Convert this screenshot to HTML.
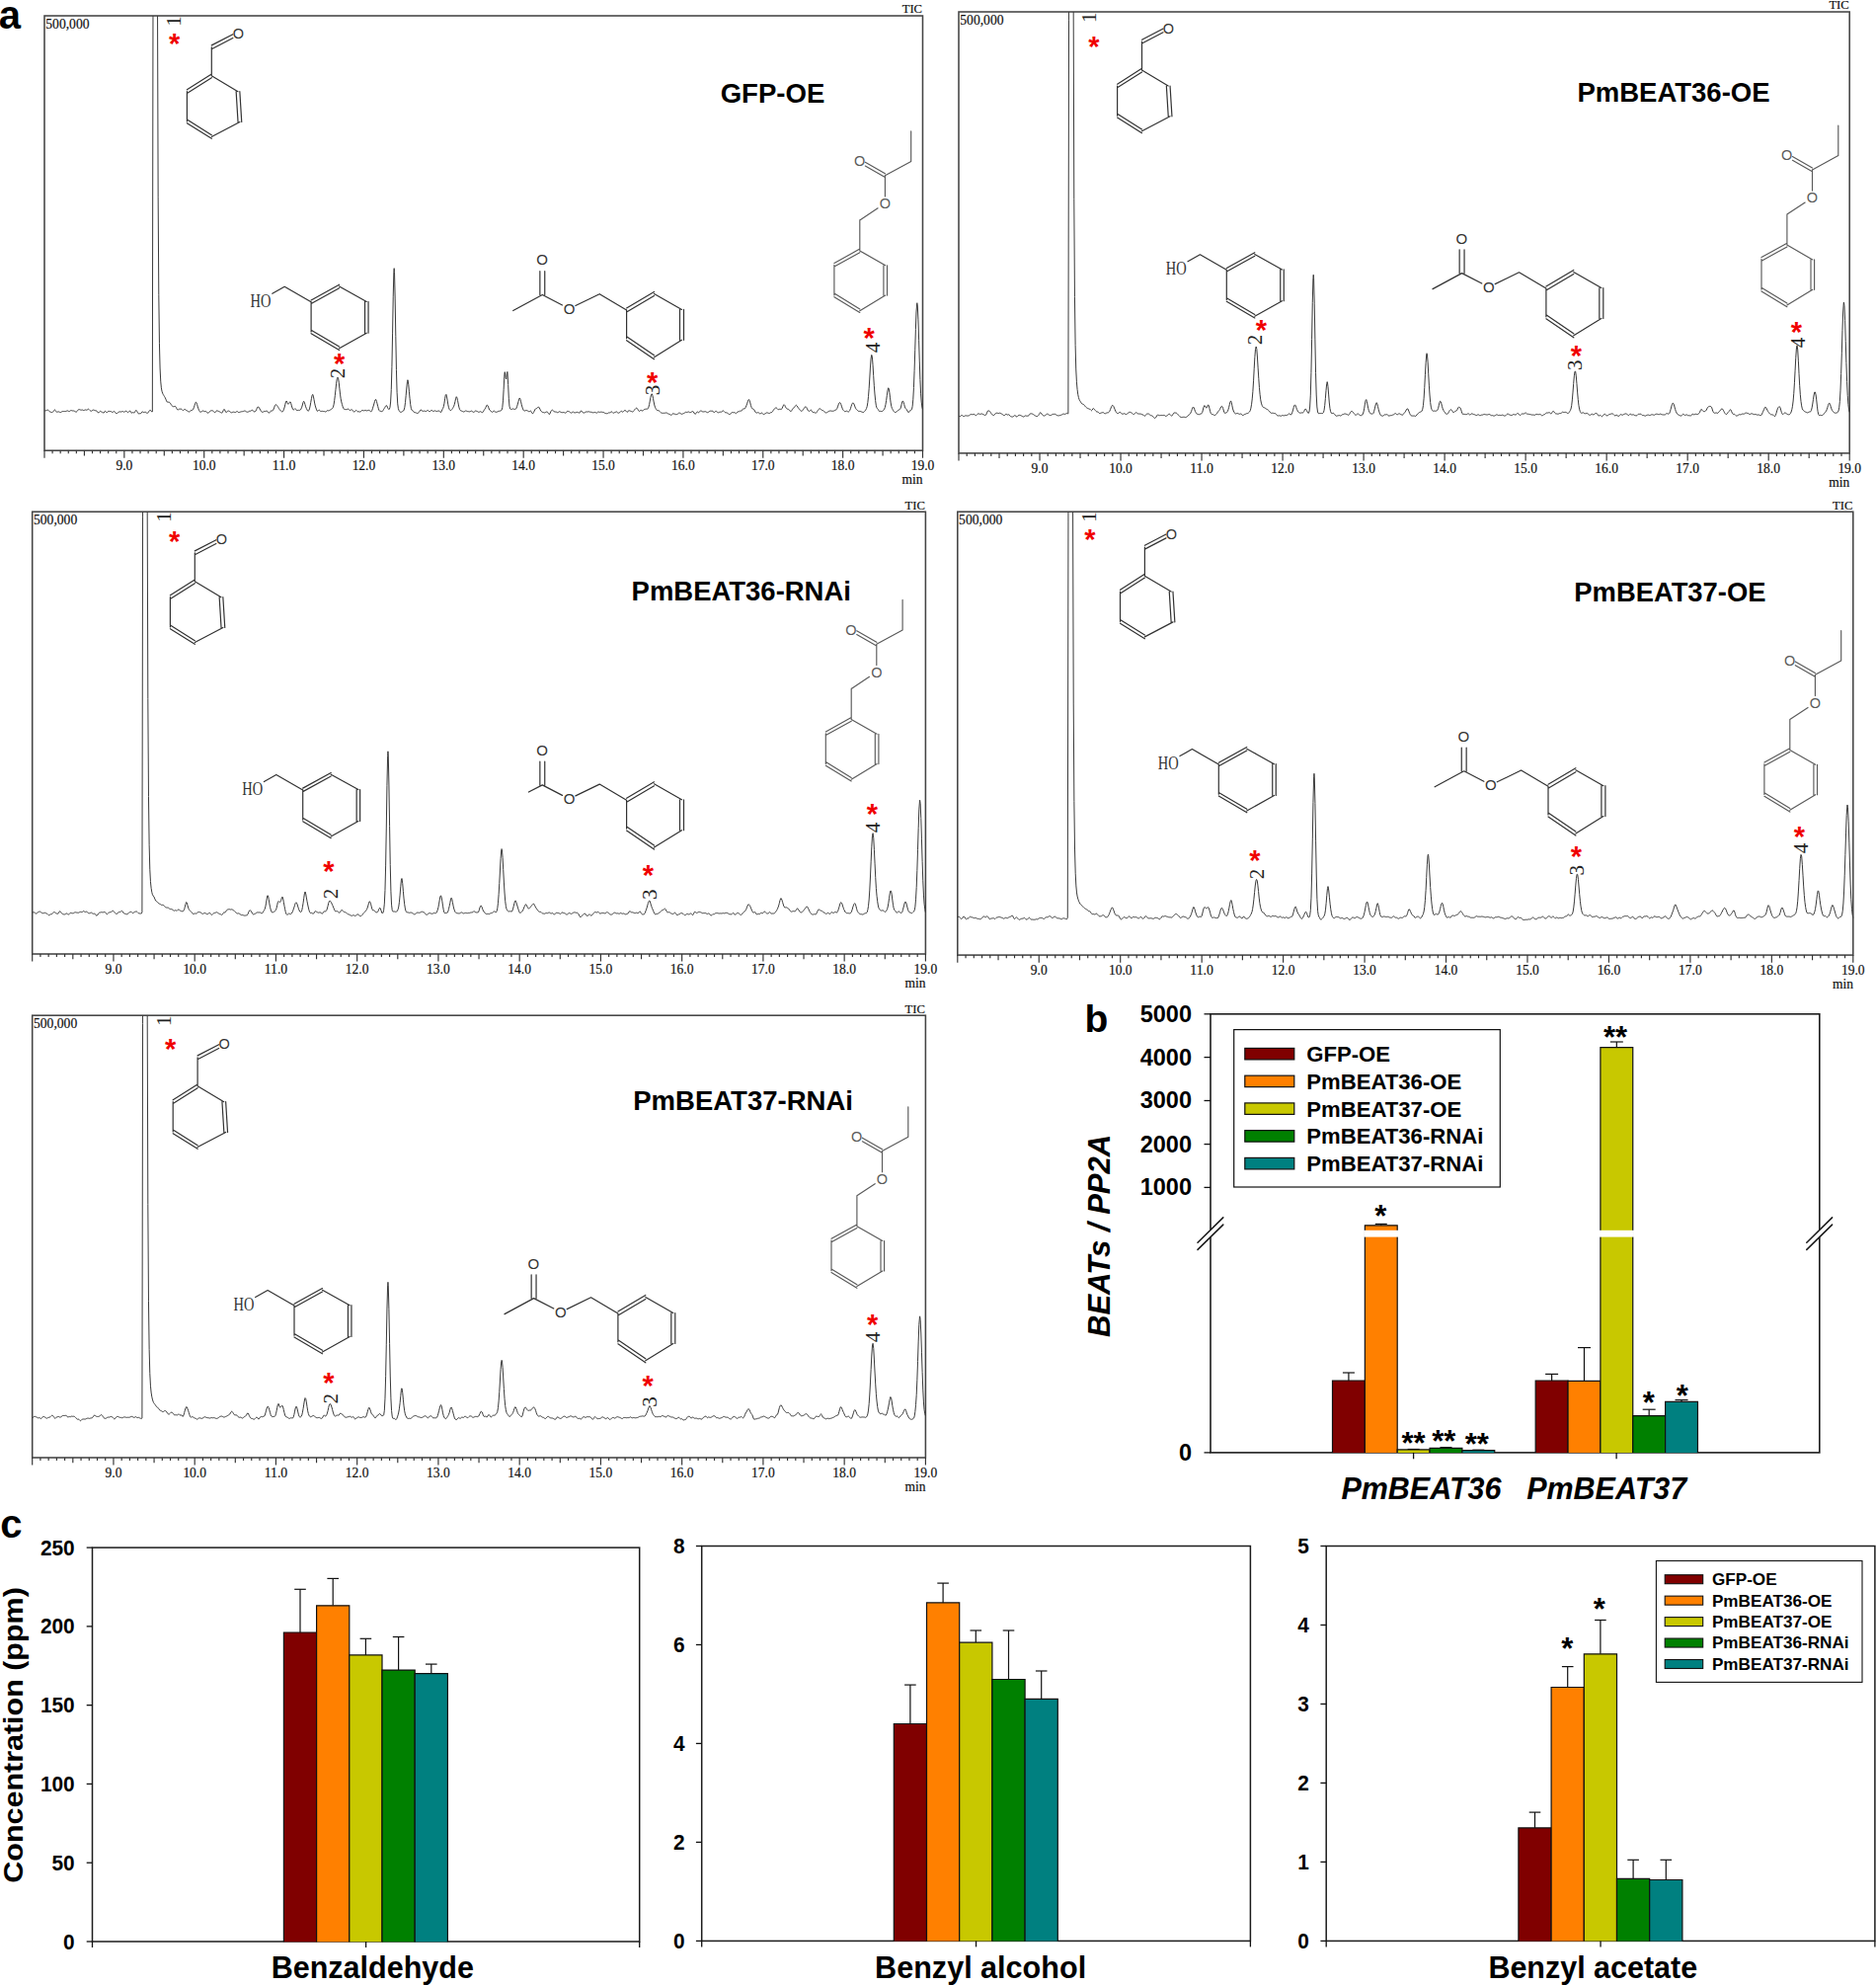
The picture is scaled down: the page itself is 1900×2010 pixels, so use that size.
<!DOCTYPE html>
<html lang="en"><head><meta charset="utf-8"><title>Figure</title>
<style>html,body{margin:0;padding:0;background:#fff}svg{display:block}</style>
</head><body>
<svg width="1900" height="2010" viewBox="0 0 1900 2010">
<rect width="1900" height="2010" fill="#fff"/>
<rect x="45" y="16" width="889.5" height="440.2" fill="none" stroke="#444" stroke-width="1.55"/>
<path d="M45 456.2 v7.6 M53.09 456.2 v3.1 M61.17 456.2 v3.1 M69.26 456.2 v3.1 M77.35 456.2 v3.1 M85.43 456.2 v5.2 M93.52 456.2 v3.1 M101.6 456.2 v3.1 M109.69 456.2 v3.1 M117.78 456.2 v3.1 M125.86 456.2 v7.6 M133.95 456.2 v3.1 M142.04 456.2 v3.1 M150.12 456.2 v3.1 M158.21 456.2 v3.1 M166.3 456.2 v5.2 M174.38 456.2 v3.1 M182.47 456.2 v3.1 M190.55 456.2 v3.1 M198.64 456.2 v3.1 M206.73 456.2 v7.6 M214.81 456.2 v3.1 M222.9 456.2 v3.1 M230.99 456.2 v3.1 M239.07 456.2 v3.1 M247.16 456.2 v5.2 M255.25 456.2 v3.1 M263.33 456.2 v3.1 M271.42 456.2 v3.1 M279.5 456.2 v3.1 M287.59 456.2 v7.6 M295.68 456.2 v3.1 M303.76 456.2 v3.1 M311.85 456.2 v3.1 M319.94 456.2 v3.1 M328.02 456.2 v5.2 M336.11 456.2 v3.1 M344.2 456.2 v3.1 M352.28 456.2 v3.1 M360.37 456.2 v3.1 M368.45 456.2 v7.6 M376.54 456.2 v3.1 M384.63 456.2 v3.1 M392.71 456.2 v3.1 M400.8 456.2 v3.1 M408.89 456.2 v5.2 M416.97 456.2 v3.1 M425.06 456.2 v3.1 M433.15 456.2 v3.1 M441.23 456.2 v3.1 M449.32 456.2 v7.6 M457.4 456.2 v3.1 M465.49 456.2 v3.1 M473.58 456.2 v3.1 M481.66 456.2 v3.1 M489.75 456.2 v5.2 M497.84 456.2 v3.1 M505.92 456.2 v3.1 M514.01 456.2 v3.1 M522.1 456.2 v3.1 M530.18 456.2 v7.6 M538.27 456.2 v3.1 M546.35 456.2 v3.1 M554.44 456.2 v3.1 M562.53 456.2 v3.1 M570.61 456.2 v5.2 M578.7 456.2 v3.1 M586.79 456.2 v3.1 M594.87 456.2 v3.1 M602.96 456.2 v3.1 M611.05 456.2 v7.6 M619.13 456.2 v3.1 M627.22 456.2 v3.1 M635.3 456.2 v3.1 M643.39 456.2 v3.1 M651.48 456.2 v5.2 M659.56 456.2 v3.1 M667.65 456.2 v3.1 M675.74 456.2 v3.1 M683.82 456.2 v3.1 M691.91 456.2 v7.6 M700 456.2 v3.1 M708.08 456.2 v3.1 M716.17 456.2 v3.1 M724.25 456.2 v3.1 M732.34 456.2 v5.2 M740.43 456.2 v3.1 M748.51 456.2 v3.1 M756.6 456.2 v3.1 M764.69 456.2 v3.1 M772.77 456.2 v7.6 M780.86 456.2 v3.1 M788.95 456.2 v3.1 M797.03 456.2 v3.1 M805.12 456.2 v3.1 M813.2 456.2 v5.2 M821.29 456.2 v3.1 M829.38 456.2 v3.1 M837.46 456.2 v3.1 M845.55 456.2 v3.1 M853.64 456.2 v7.6 M861.72 456.2 v3.1 M869.81 456.2 v3.1 M877.9 456.2 v3.1 M885.98 456.2 v3.1 M894.07 456.2 v5.2 M902.15 456.2 v3.1 M910.24 456.2 v3.1 M918.33 456.2 v3.1 M926.41 456.2 v3.1 M934.5 456.2 v7.6" fill="none" stroke="#333" stroke-width="1.15"/>
<text font-size="14.5" font-family='"Liberation Serif", "Times New Roman", Times, serif' text-anchor="middle" fill="#111" textLength="16.88" lengthAdjust="spacingAndGlyphs" x="125.86" y="475.9" stroke="#111" stroke-width="0.2">9.0</text>
<text font-size="14.5" font-family='"Liberation Serif", "Times New Roman", Times, serif' text-anchor="middle" fill="#111" textLength="23.62" lengthAdjust="spacingAndGlyphs" x="206.73" y="475.9" stroke="#111" stroke-width="0.2">10.0</text>
<text font-size="14.5" font-family='"Liberation Serif", "Times New Roman", Times, serif' text-anchor="middle" fill="#111" textLength="23.62" lengthAdjust="spacingAndGlyphs" x="287.59" y="475.9" stroke="#111" stroke-width="0.2">11.0</text>
<text font-size="14.5" font-family='"Liberation Serif", "Times New Roman", Times, serif' text-anchor="middle" fill="#111" textLength="23.62" lengthAdjust="spacingAndGlyphs" x="368.45" y="475.9" stroke="#111" stroke-width="0.2">12.0</text>
<text font-size="14.5" font-family='"Liberation Serif", "Times New Roman", Times, serif' text-anchor="middle" fill="#111" textLength="23.62" lengthAdjust="spacingAndGlyphs" x="449.32" y="475.9" stroke="#111" stroke-width="0.2">13.0</text>
<text font-size="14.5" font-family='"Liberation Serif", "Times New Roman", Times, serif' text-anchor="middle" fill="#111" textLength="23.62" lengthAdjust="spacingAndGlyphs" x="530.18" y="475.9" stroke="#111" stroke-width="0.2">14.0</text>
<text font-size="14.5" font-family='"Liberation Serif", "Times New Roman", Times, serif' text-anchor="middle" fill="#111" textLength="23.62" lengthAdjust="spacingAndGlyphs" x="611.05" y="475.9" stroke="#111" stroke-width="0.2">15.0</text>
<text font-size="14.5" font-family='"Liberation Serif", "Times New Roman", Times, serif' text-anchor="middle" fill="#111" textLength="23.62" lengthAdjust="spacingAndGlyphs" x="691.91" y="475.9" stroke="#111" stroke-width="0.2">16.0</text>
<text font-size="14.5" font-family='"Liberation Serif", "Times New Roman", Times, serif' text-anchor="middle" fill="#111" textLength="23.62" lengthAdjust="spacingAndGlyphs" x="772.77" y="475.9" stroke="#111" stroke-width="0.2">17.0</text>
<text font-size="14.5" font-family='"Liberation Serif", "Times New Roman", Times, serif' text-anchor="middle" fill="#111" textLength="23.62" lengthAdjust="spacingAndGlyphs" x="853.64" y="475.9" stroke="#111" stroke-width="0.2">18.0</text>
<text font-size="14.5" font-family='"Liberation Serif", "Times New Roman", Times, serif' text-anchor="middle" fill="#111" textLength="23.62" lengthAdjust="spacingAndGlyphs" x="934.5" y="475.9" stroke="#111" stroke-width="0.2">19.0</text>
<text font-size="14.5" font-family='"Liberation Serif", "Times New Roman", Times, serif' text-anchor="end" fill="#111" textLength="21" lengthAdjust="spacingAndGlyphs" x="934.6" y="490.1" stroke="#111" stroke-width="0.2">min</text>
<text font-size="13.5" font-family='"Liberation Serif", "Times New Roman", Times, serif' text-anchor="end" fill="#111" textLength="20.3" lengthAdjust="spacingAndGlyphs" x="934" y="13.4" stroke="#111" stroke-width="0.2">TIC</text>
<text font-size="14.5" font-family='"Liberation Serif", "Times New Roman", Times, serif' fill="#111" textLength="44.2" lengthAdjust="spacingAndGlyphs" x="46.3" y="29.2" stroke="#111" stroke-width="0.2">500,000</text>
<path d="M45 416.07 L45.65 415.85 L46.29 415.79 L46.94 415.65 L47.59 415.31 L48.23 415.05 L48.88 415.28 L49.53 416.03 L50.18 416.74 L50.82 417.08 L51.47 417.32 L52.12 417.54 L52.76 417.56 L53.41 417.28 L54.06 416.59 L54.7 415.56 L55.35 414.94 L56 415.38 L56.64 416.41 L57.29 417.16 L57.94 417.24 L58.59 416.97 L59.23 416.87 L59.88 417.05 L60.53 417.38 L61.17 417.61 L61.82 417.4 L62.47 416.95 L63.11 416.58 L63.76 416.53 L64.41 416.57 L65.05 416.54 L65.7 416.54 L66.35 416.53 L66.99 416.37 L67.64 416.1 L68.29 415.92 L68.94 416.09 L69.58 416.48 L70.23 416.58 L70.88 416.18 L71.52 415.7 L72.17 415.59 L72.82 415.8 L73.46 415.94 L74.11 415.95 L74.76 416.03 L75.4 416.25 L76.05 416.64 L76.7 417.07 L77.35 417.13 L77.99 416.56 L78.64 415.61 L79.29 414.85 L79.93 414.6 L80.58 414.7 L81.23 414.94 L81.87 415.16 L82.52 415.17 L83.17 415.03 L83.81 415.13 L84.46 415.53 L85.11 415.56 L85.76 415.17 L86.4 414.94 L87.05 415.04 L87.7 415.22 L88.34 415 L88.99 414.39 L89.64 414.21 L90.28 414.7 L90.93 415.37 L91.58 415.98 L92.22 416.3 L92.87 416.07 L93.52 415.48 L94.17 415.12 L94.81 415.14 L95.46 415.35 L96.11 415.61 L96.75 415.81 L97.4 415.87 L98.05 416.23 L98.69 417.14 L99.34 417.91 L99.99 417.8 L100.63 417.03 L101.28 416.4 L101.93 416.44 L102.57 416.91 L103.22 417.22 L103.87 417.49 L104.52 417.96 L105.16 417.96 L105.81 417.03 L106.46 416.26 L107.1 416.64 L107.75 417.52 L108.4 417.68 L109.04 417.01 L109.69 416.41 L110.34 416.36 L110.98 416.57 L111.63 416.6 L112.28 416.63 L112.93 416.91 L113.57 417.37 L114.22 417.4 L114.87 416.86 L115.51 416.46 L116.16 416.8 L116.81 417.73 L117.45 418.58 L118.1 418.78 L118.75 418.42 L119.39 417.87 L120.04 417.37 L120.69 417.04 L121.34 416.9 L121.98 416.98 L122.63 417.04 L123.28 416.85 L123.92 416.6 L124.57 416.67 L125.22 417.07 L125.86 417.31 L126.51 416.96 L127.16 416.21 L127.8 416.03 L128.45 416.72 L129.1 417.51 L129.75 417.68 L130.39 417.11 L131.04 416.29 L131.69 416.03 L132.33 416.77 L132.98 417.84 L133.63 418.13 L134.27 417.71 L134.92 417.64 L135.57 417.94 L136.21 417.75 L136.86 416.74 L137.51 415.62 L138.15 415.52 L138.8 416.53 L139.45 417.85 L140.1 418.72 L140.74 418.91 L141.39 418.79 L142.04 418.78 L142.68 418.67 L143.33 417.96 L143.98 416.98 L144.62 416.86 L145.27 417.52 L145.92 417.75 L146.56 417.31 L147.21 417.17 L147.86 417.65 L148.51 418.15 L149.15 418.33 L149.8 418.07 L150.45 417.25 L151.09 416.16 L151.74 415.41 L152.39 415.42 L153.03 416.13 L153.68 416.98 L154.33 416.9 L154.97 17.94 L154.98 16 M159.56 16 L160.15 199.18 L160.8 298.35 L161.44 347.72 L162.09 372.99 L162.74 386.15 L163.38 392.84 L164.03 396.21 L164.68 398.19 L165.33 399.53 L165.97 400.56 L166.62 401.58 L167.27 402.72 L167.91 404.17 L168.56 405.84 L169.21 406.98 L169.85 407.26 L170.5 407.2 L171.15 407.2 L171.79 407.49 L172.44 408.2 L173.09 409.34 L173.73 410.42 L174.38 411.04 L175.03 411.48 L175.68 411.78 L176.32 411.66 L176.97 411.33 L177.62 411.43 L178.26 412.35 L178.91 413.71 L179.56 414.75 L180.2 415.01 L180.85 414.6 L181.5 414.21 L182.14 414.16 L182.79 414.13 L183.44 414.13 L184.09 414.51 L184.73 415.23 L185.38 415.6 L186.03 415.17 L186.67 414.49 L187.32 414.43 L187.97 414.95 L188.61 415.44 L189.26 415.75 L189.91 416.08 L190.55 416.55 L191.2 416.98 L191.85 417.03 L192.5 416.41 L193.14 415.61 L193.79 415.34 L194.44 415.42 L195.08 415.16 L195.73 414.21 L196.38 412.68 L197.02 410.68 L197.67 408.54 L198.32 407.18 L198.96 407.63 L199.61 409.61 L200.26 411.9 L200.91 413.83 L201.55 415.43 L202.2 416.67 L202.85 417.21 L203.49 417.17 L204.14 416.8 L204.79 416.25 L205.43 415.91 L206.08 416.09 L206.73 416.5 L207.37 416.67 L208.02 416.51 L208.67 416.51 L209.31 417.04 L209.96 417.79 L210.61 418.21 L211.26 418.08 L211.9 417.37 L212.55 416.49 L213.2 415.97 L213.84 415.8 L214.49 415.77 L215.14 415.85 L215.78 416.04 L216.43 416.62 L217.08 417.5 L217.72 417.82 L218.37 417.16 L219.02 416.2 L219.67 415.84 L220.31 416.03 L220.96 416.24 L221.61 416.5 L222.25 416.85 L222.9 417.22 L223.55 417.7 L224.19 418.11 L224.84 418.03 L225.49 417.16 L226.13 415.69 L226.78 414.52 L227.43 414.69 L228.08 416.11 L228.72 417.37 L229.37 417.52 L230.02 416.78 L230.66 416.05 L231.31 415.99 L231.96 416.29 L232.6 416.55 L233.25 417.05 L233.9 417.68 L234.54 417.84 L235.19 417.54 L235.84 417.25 L236.49 417.17 L237.13 417.27 L237.78 417.46 L238.43 417.53 L239.07 417.21 L239.72 416.66 L240.37 416.61 L241.01 417.16 L241.66 417.62 L242.31 417.53 L242.95 417.25 L243.6 417.07 L244.25 416.88 L244.89 416.76 L245.54 416.71 L246.19 416.57 L246.84 416.29 L247.48 416.07 L248.13 416.07 L248.78 416.36 L249.42 416.87 L250.07 417.19 L250.72 417.2 L251.36 417.09 L252.01 416.69 L252.66 416.22 L253.3 416.22 L253.95 416.33 L254.6 415.79 L255.25 415.11 L255.89 415.29 L256.54 416.13 L257.19 416.85 L257.83 417.09 L258.48 416.8 L259.13 415.93 L259.77 414.6 L260.42 413.1 L261.07 412.05 L261.71 412.01 L262.36 412.8 L263.01 413.89 L263.66 415.12 L264.3 416.17 L264.95 416.87 L265.6 417.31 L266.24 417.33 L266.89 416.82 L267.54 416.41 L268.18 416.5 L268.83 416.53 L269.48 416.24 L270.12 416.07 L270.77 416.4 L271.42 417.28 L272.07 418.09 L272.71 418.09 L273.36 417.31 L274.01 416.43 L274.65 415.98 L275.3 415.99 L275.95 415.96 L276.59 415.35 L277.24 413.99 L277.89 412.16 L278.53 410.48 L279.18 409.63 L279.83 409.86 L280.47 410.66 L281.12 411.47 L281.77 412.41 L282.42 413.52 L283.06 414.53 L283.71 415.34 L284.36 415.99 L285 416.54 L285.65 416.91 L286.3 416.74 L286.94 415.81 L287.59 414.23 L288.24 412.06 L288.88 409.32 L289.53 406.75 L290.18 405.99 L290.83 407.36 L291.47 408.91 L292.12 409.32 L292.77 408.57 L293.41 407.28 L294.06 406.9 L294.71 408.44 L295.35 410.87 L296 413.02 L296.65 414.51 L297.29 414.98 L297.94 414.48 L298.59 413.83 L299.24 413.85 L299.88 414.7 L300.53 415.53 L301.18 415.62 L301.82 415.39 L302.47 415.35 L303.12 415.39 L303.76 415.3 L304.41 414.88 L305.06 413.86 L305.7 412.23 L306.35 409.97 L307 407.56 L307.65 406.34 L308.29 407.26 L308.94 409.56 L309.59 411.77 L310.23 413.38 L310.88 414.75 L311.53 415.91 L312.17 416.31 L312.82 415.69 L313.47 413.92 L314.11 411.09 L314.76 407.5 L315.41 403.67 L316.05 400.54 L316.7 399.42 L317.35 401.12 L318 404.5 L318.64 408.05 L319.29 410.9 L319.94 413.05 L320.58 414.87 L321.23 416.18 L321.88 416.31 L322.52 415.57 L323.17 415.09 L323.82 415.55 L324.46 416.34 L325.11 416.57 L325.76 416.39 L326.41 416.34 L327.05 416.51 L327.7 416.59 L328.35 416.57 L328.99 416.74 L329.64 417.01 L330.29 416.86 L330.93 416.15 L331.58 415.64 L332.23 415.75 L332.87 415.9 L333.52 415.63 L334.17 415.23 L334.82 414.87 L335.46 414.4 L336.11 413.92 L336.76 413.47 L337.4 412.34 L338.05 409.81 L338.7 405.7 L339.34 400.39 L339.99 394.32 L340.64 388.2 L341.28 383.62 L341.77 382.34 L341.93 382 L342.58 383.07 L343.23 387.22 L343.87 393.16 L344.52 399.12 L345.17 403.73 L345.81 406.96 L346.46 409.48 L347.11 411.7 L347.75 413.37 L348.4 414.21 L349.05 414.48 L349.69 414.58 L350.34 414.66 L350.99 414.65 L351.63 414.41 L352.28 414.07 L352.93 414.17 L353.58 414.88 L354.22 415.59 L354.87 415.54 L355.52 414.84 L356.16 414.53 L356.81 415.21 L357.46 416.19 L358.1 416.82 L358.75 416.98 L359.4 416.63 L360.04 415.91 L360.69 415.47 L361.34 415.81 L361.99 416.54 L362.63 416.89 L363.28 416.8 L363.93 416.84 L364.57 417.08 L365.22 416.92 L365.87 416.2 L366.51 415.51 L367.16 415.38 L367.81 415.66 L368.45 415.87 L369.1 415.72 L369.75 415.4 L370.4 415.42 L371.04 415.82 L371.69 415.92 L372.34 415.6 L372.98 415.41 L373.63 415.39 L374.28 415.7 L374.92 416.23 L375.57 416.71 L376.22 416.57 L376.86 415.29 L377.51 413.24 L378.16 411.14 L378.81 408.95 L379.45 406.6 L380.1 404.74 L380.75 404.57 L381.39 406.33 L382.04 408.86 L382.69 411.42 L383.33 413.81 L383.98 415.54 L384.63 416.25 L385.27 416.34 L385.92 416.43 L386.57 416.68 L387.21 416.59 L387.86 415.75 L388.51 414.61 L389.16 413.63 L389.8 412.62 L390.45 411.4 L391.1 410.57 L391.74 410.87 L392.39 412.21 L393.04 413.69 L393.68 414.47 L394.33 414.3 L394.98 412.44 L395.62 406.97 L396.27 394.62 L396.92 371.63 L397.57 337.9 L398.21 300.85 L398.86 275.11 L399.18 271.66 L399.51 275.37 L400.15 302.07 L400.8 340.35 L401.45 374.61 L402.09 397.29 L402.74 408.88 L403.39 413.61 L404.03 415.55 L404.68 416.6 L405.33 417.17 L405.98 417.38 L406.62 417.22 L407.27 416.81 L407.92 416.44 L408.56 416.05 L409.21 414.97 L409.86 412.31 L410.5 407.48 L411.15 400.69 L411.8 393.01 L412.44 386.61 L412.93 384.72 L413.09 384.94 L413.74 389.23 L414.39 396.27 L415.03 403.28 L415.68 409.23 L416.33 413.33 L416.97 415.2 L417.62 415.53 L418.27 415.87 L418.91 416.79 L419.56 417.61 L420.21 417.79 L420.85 417.7 L421.5 418 L422.15 418.47 L422.79 418.56 L423.44 418.2 L424.09 417.66 L424.74 416.92 L425.38 415.81 L426.03 414.91 L426.68 415.1 L427.32 415.95 L427.97 416.4 L428.62 416.36 L429.26 416.16 L429.91 416.1 L430.56 416.33 L431.2 416.54 L431.85 416.37 L432.5 415.84 L433.15 415.46 L433.79 415.81 L434.44 416.51 L435.09 416.78 L435.73 416.43 L436.38 415.79 L437.03 415.43 L437.67 415.62 L438.32 416.22 L438.97 416.54 L439.61 416.23 L440.26 415.86 L440.91 415.97 L441.56 416.32 L442.2 416.48 L442.85 416.42 L443.5 416.17 L444.14 415.89 L444.79 416.09 L445.44 416.87 L446.08 417.58 L446.73 417.34 L447.38 416.03 L448.02 414.53 L448.67 413.38 L449.32 411.63 L449.97 408.25 L450.61 403.75 L451.26 400.11 L451.91 399.39 L452.55 401.91 L453.2 405.95 L453.85 409.84 L454.49 412.72 L455.14 414.48 L455.79 415.37 L456.43 415.6 L457.08 415.29 L457.73 414.53 L458.37 413.54 L459.02 412.53 L459.67 411.26 L460.32 409.31 L460.96 406.46 L461.61 403.32 L462.26 401.71 L462.9 402.8 L463.55 405.66 L464.2 409.05 L464.84 412.17 L465.49 414.42 L466.14 415.49 L466.78 415.83 L467.43 416.12 L468.08 416.43 L468.73 416.71 L469.37 416.98 L470.02 417.05 L470.67 416.63 L471.31 415.97 L471.96 415.84 L472.61 416.28 L473.25 416.57 L473.9 416.63 L474.55 416.74 L475.19 416.86 L475.84 416.84 L476.49 416.53 L477.14 416.17 L477.78 416.19 L478.43 416.7 L479.08 417.23 L479.72 417.35 L480.37 417.04 L481.02 416.42 L481.66 416.01 L482.31 416.16 L482.96 416.45 L483.6 416.68 L484.25 417.09 L484.9 417.4 L485.55 417.15 L486.19 416.75 L486.84 416.78 L487.49 417.2 L488.13 417.66 L488.78 417.68 L489.43 416.9 L490.07 415.68 L490.72 414.63 L491.37 413.76 L492.01 412.51 L492.66 410.91 L493.31 410.09 L493.95 410.62 L494.6 412.16 L495.25 413.98 L495.9 415.21 L496.54 415.68 L497.19 416.22 L497.84 417.02 L498.48 417.36 L499.13 416.94 L499.78 416.28 L500.42 416.11 L501.07 416.62 L501.72 417.15 L502.36 417.29 L503.01 417.24 L503.66 417.04 L504.31 416.61 L504.95 416.29 L505.6 416.22 L506.25 416.19 L506.89 416.04 L507.54 415.77 L508.19 414.99 L508.83 412.42 L509.48 405.85 L510.13 394.27 L510.77 381.12 L511.18 376.63 L511.42 376.84 L512.07 382.37 L512.72 383.91 L513.36 378.38 L513.85 376.44 L514.01 377.51 L514.66 389.54 L515.3 403.21 L515.95 411.2 L516.6 413.87 L517.24 414.38 L517.89 414.45 L518.54 414.26 L519.18 413.97 L519.83 414.02 L520.48 414.26 L521.13 414.34 L521.77 414.35 L522.42 414.16 L523.07 413.16 L523.71 411.29 L524.36 409.09 L525.01 406.69 L525.65 404.16 L526.3 402.97 L526.95 404.17 L527.59 406.84 L528.24 409.68 L528.89 412.08 L529.53 413.93 L530.18 415.37 L530.83 416.08 L531.48 416.01 L532.12 415.63 L532.77 415.41 L533.42 415.54 L534.06 415.85 L534.71 416.17 L535.36 416.61 L536 416.86 L536.65 416.48 L537.3 416.03 L537.94 416.53 L538.59 417.82 L539.24 418.76 L539.89 418.63 L540.53 417.59 L541.18 416.06 L541.83 414.67 L542.47 413.93 L543.12 413.66 L543.77 413.32 L544.41 412.71 L545.06 412.22 L545.71 412.23 L546.35 413.03 L547 414.55 L547.65 415.9 L548.3 416.64 L548.94 417.15 L549.59 417.45 L550.24 417.55 L550.88 417.79 L551.53 417.94 L552.18 417.66 L552.82 417.29 L553.47 417.06 L554.12 417.01 L554.76 417.5 L555.41 418.61 L556.06 419.53 L556.71 419.31 L557.35 417.97 L558 416.47 L558.65 415.52 L559.29 415.17 L559.94 415.36 L560.59 415.99 L561.23 416.72 L561.88 417.13 L562.53 417.06 L563.17 417.02 L563.82 417.34 L564.47 417.73 L565.11 417.7 L565.76 417.19 L566.41 416.79 L567.06 416.86 L567.7 417.18 L568.35 417.49 L569 417.7 L569.64 417.73 L570.29 417.59 L570.94 417.51 L571.58 417.72 L572.23 418.1 L572.88 418.14 L573.52 417.51 L574.17 416.66 L574.82 416.31 L575.47 416.46 L576.11 416.63 L576.76 416.91 L577.41 417.51 L578.05 418.07 L578.7 418.1 L579.35 417.59 L579.99 417.01 L580.64 416.96 L581.29 417.61 L581.93 418.12 L582.58 417.92 L583.23 417.59 L583.88 417.46 L584.52 417.33 L585.17 417.4 L585.82 417.8 L586.46 418.14 L587.11 417.86 L587.76 416.85 L588.4 415.98 L589.05 416.16 L589.7 417 L590.34 417.75 L590.99 418.11 L591.64 418.08 L592.29 417.7 L592.93 417.21 L593.58 416.97 L594.23 417.01 L594.87 417.05 L595.52 416.91 L596.17 416.78 L596.81 416.91 L597.46 417.18 L598.11 417.26 L598.75 417.21 L599.4 417.4 L600.05 417.74 L600.69 417.87 L601.34 417.74 L601.99 417.53 L602.64 417.44 L603.28 417.68 L603.93 418.1 L604.58 418.09 L605.22 417.49 L605.87 417.01 L606.52 417.14 L607.16 417.42 L607.81 417.36 L608.46 417.15 L609.1 417.14 L609.75 417.3 L610.4 417.4 L611.05 417.4 L611.69 417.59 L612.34 418.15 L612.99 418.57 L613.63 418.6 L614.28 418.69 L614.93 418.83 L615.57 418.54 L616.22 418.02 L616.87 417.84 L617.51 417.92 L618.16 417.69 L618.81 417.07 L619.46 416.85 L620.1 417.44 L620.75 418.15 L621.4 418.2 L622.04 417.83 L622.69 417.58 L623.34 417.35 L623.98 416.98 L624.63 416.97 L625.28 417.58 L625.92 418.18 L626.57 418.2 L627.22 417.92 L627.87 417.45 L628.51 416.73 L629.16 416.25 L629.81 416.53 L630.45 417.1 L631.1 417.08 L631.75 416.38 L632.39 415.64 L633.04 415.4 L633.69 415.78 L634.33 416.61 L634.98 417.3 L635.63 417.14 L636.27 416.19 L636.92 415.59 L637.57 415.84 L638.22 416.17 L638.86 416.25 L639.51 416.56 L640.16 417.04 L640.8 417.04 L641.45 416.36 L642.1 415.53 L642.74 414.93 L643.39 414.21 L644.04 413.46 L644.68 413.15 L645.33 413.55 L645.98 414.58 L646.63 415.77 L647.27 416.41 L647.92 416.23 L648.57 415.59 L649.21 415.31 L649.86 415.69 L650.51 416 L651.15 415.7 L651.8 415.04 L652.45 414.61 L653.09 414.45 L653.74 414.26 L654.39 414.13 L655.04 414.12 L655.68 414.09 L656.33 413.62 L656.98 412.15 L657.62 409.53 L658.27 406.09 L658.92 402.42 L659.56 399.57 L660.21 398.8 L660.86 400.34 L661.5 403.4 L662.15 406.95 L662.8 410.09 L663.45 412.25 L664.09 413.6 L664.74 414.66 L665.39 415.38 L666.03 415.59 L666.68 415.6 L667.33 415.84 L667.97 416.44 L668.62 417.2 L669.27 417.78 L669.91 418.09 L670.56 418.24 L671.21 418.33 L671.85 418.32 L672.5 418.25 L673.15 418.24 L673.8 418.19 L674.44 417.99 L675.09 417.95 L675.74 418.36 L676.38 418.79 L677.03 419.07 L677.68 419.3 L678.32 419.48 L678.97 419.82 L679.62 420.34 L680.26 420.24 L680.91 419.34 L681.56 418.76 L682.21 418.92 L682.85 419.11 L683.5 419.24 L684.15 419.55 L684.79 419.71 L685.44 419.58 L686.09 419.34 L686.73 418.91 L687.38 418.29 L688.03 417.93 L688.67 418.15 L689.32 418.8 L689.97 419.3 L690.62 419.31 L691.26 419.05 L691.91 418.78 L692.56 418.55 L693.2 418.21 L693.85 417.7 L694.5 417.31 L695.14 417.36 L695.79 417.53 L696.44 417.27 L697.08 416.93 L697.73 417.13 L698.38 417.62 L699.03 417.77 L699.67 417.49 L700.32 417.08 L700.97 416.76 L701.61 416.56 L702.26 416.92 L702.91 418 L703.55 419.07 L704.2 419.36 L704.85 418.72 L705.49 417.61 L706.14 416.94 L706.79 417.19 L707.43 417.76 L708.08 417.53 L708.73 416.61 L709.38 415.95 L710.02 415.93 L710.67 416.3 L711.32 416.76 L711.96 417 L712.61 416.95 L713.26 416.83 L713.9 416.76 L714.55 416.72 L715.2 416.97 L715.84 417.51 L716.49 417.73 L717.14 417.49 L717.79 417.1 L718.43 416.56 L719.08 416.15 L719.73 416.2 L720.37 416.24 L721.02 415.97 L721.67 416.13 L722.31 416.99 L722.96 417.62 L723.61 417.46 L724.25 416.8 L724.9 416.29 L725.55 416.44 L726.2 417.02 L726.84 417.55 L727.49 417.84 L728.14 417.69 L728.78 417.2 L729.43 417.12 L730.08 417.4 L730.72 417.14 L731.37 416.4 L732.02 415.91 L732.66 415.97 L733.31 416.54 L733.96 417.28 L734.61 417.75 L735.25 417.82 L735.9 417.83 L736.55 418.16 L737.19 418.61 L737.84 419.06 L738.49 419.56 L739.13 419.67 L739.78 419.12 L740.43 418.32 L741.07 417.7 L741.72 417.55 L742.37 417.73 L743.01 417.81 L743.66 417.7 L744.31 417.86 L744.96 418.42 L745.6 418.67 L746.25 418.07 L746.9 417.14 L747.54 416.77 L748.19 416.83 L748.84 416.59 L749.48 416.13 L750.13 416.04 L750.78 416.17 L751.42 415.7 L752.07 414.59 L752.72 413.81 L753.37 413.9 L754.01 414.13 L754.66 413.57 L755.31 412.29 L755.95 410.66 L756.6 408.79 L757.25 406.84 L757.89 405.08 L758.54 404.5 L759.19 405.66 L759.83 407.98 L760.48 410.54 L761.13 412.58 L761.78 413.66 L762.42 414.01 L763.07 414.24 L763.72 414.84 L764.36 415.94 L765.01 417.17 L765.66 417.96 L766.3 418.14 L766.95 417.91 L767.6 417.65 L768.24 417.82 L768.89 418.37 L769.54 418.82 L770.19 418.82 L770.83 418.4 L771.48 418.07 L772.13 418.47 L772.77 419.34 L773.42 419.65 L774.07 419.35 L774.71 418.94 L775.36 418.55 L776.01 418.11 L776.65 417.88 L777.3 417.97 L777.95 418.22 L778.59 418.43 L779.24 418.49 L779.89 418.22 L780.54 417.74 L781.18 417.56 L781.83 417.43 L782.48 416.72 L783.12 415.61 L783.77 414.63 L784.42 413.87 L785.06 413.31 L785.71 412.97 L786.36 413.01 L787 413.62 L787.65 414.39 L788.3 414.7 L788.95 414.5 L789.59 414.28 L790.24 414.29 L790.89 414.49 L791.53 414.33 L792.18 413.38 L792.83 411.81 L793.47 410.24 L794.12 409.61 L794.77 410.35 L795.41 411.77 L796.06 412.93 L796.71 413.64 L797.36 414.1 L798 414.3 L798.65 414.47 L799.3 414.95 L799.94 415.77 L800.59 416.49 L801.24 416.48 L801.88 415.6 L802.53 414.37 L803.18 413.46 L803.82 412.98 L804.47 412.47 L805.12 411.6 L805.77 410.64 L806.41 410.24 L807.06 410.85 L807.71 411.94 L808.35 412.84 L809 413.69 L809.65 414.53 L810.29 415.16 L810.94 415.72 L811.59 416.27 L812.23 416.29 L812.88 415.48 L813.53 414.43 L814.17 413.66 L814.82 412.87 L815.47 411.97 L816.12 411.72 L816.76 412.49 L817.41 413.81 L818.06 415.15 L818.7 416.04 L819.35 416.38 L820 416.21 L820.64 415.54 L821.29 415.09 L821.94 415.66 L822.58 416.87 L823.23 417.6 L823.88 417.54 L824.53 417.38 L825.17 417.71 L825.82 418.19 L826.47 418.2 L827.11 417.52 L827.76 416.47 L828.41 415.38 L829.05 414.53 L829.7 414.04 L830.35 413.8 L830.99 413.98 L831.64 414.61 L832.29 415.28 L832.94 415.56 L833.58 415.63 L834.23 416.05 L834.88 416.75 L835.52 417.38 L836.17 417.88 L836.82 418 L837.46 417.72 L838.11 417.3 L838.76 416.84 L839.4 416.44 L840.05 416.19 L840.7 416.04 L841.35 416.02 L841.99 416.15 L842.64 416.25 L843.29 416.25 L843.93 416.2 L844.58 416.03 L845.23 415.62 L845.87 415.26 L846.52 415.07 L847.17 414.64 L847.81 413.58 L848.46 411.84 L849.11 409.86 L849.75 408.26 L850.4 407.56 L851.05 407.99 L851.7 409.32 L852.34 411.18 L852.99 413.19 L853.64 414.73 L854.28 415.54 L854.93 416.2 L855.58 416.7 L856.22 416.67 L856.87 416.3 L857.52 416.18 L858.16 416.5 L858.81 416.93 L859.46 416.99 L860.11 416.43 L860.75 415.36 L861.4 413.74 L862.05 411.59 L862.69 409.55 L863.34 408.29 L863.99 407.89 L864.63 408.46 L865.28 410.02 L865.93 411.92 L866.57 413.43 L867.22 414.36 L867.87 415.03 L868.52 415.69 L869.16 416.22 L869.81 416.43 L870.46 416.41 L871.1 416.4 L871.75 416.62 L872.4 416.92 L873.04 417.18 L873.69 417.41 L874.34 417.5 L874.98 417.21 L875.63 416.53 L876.28 415.72 L876.93 414.84 L877.57 413.56 L878.22 411.38 L878.87 407.51 L879.51 401.52 L880.16 393.28 L880.81 383 L881.45 372.06 L882.1 363.07 L882.75 359.38 L882.75 359.38 L883.39 361.2 L884.04 369.7 L884.69 380.62 L885.33 390.71 L885.98 398.96 L886.63 405.5 L887.28 410.27 L887.92 412.85 L888.57 413.73 L889.22 414.44 L889.86 415.62 L890.51 416.43 L891.16 416.43 L891.8 416.34 L892.45 416.46 L893.1 416.58 L893.74 416.35 L894.39 415.71 L895.04 414.97 L895.69 414.12 L896.33 412.48 L896.98 409.54 L897.63 405.46 L898.27 400.71 L898.92 395.99 L899.57 392.9 L899.73 392.78 L900.21 393.45 L900.86 397.44 L901.51 402.84 L902.15 407.89 L902.8 411.49 L903.45 413.53 L904.1 414.68 L904.74 415.71 L905.39 416.79 L906.04 417.46 L906.68 417.54 L907.33 417.33 L907.98 416.93 L908.62 416.29 L909.27 415.67 L909.92 415.25 L910.56 414.94 L911.21 414.6 L911.86 413.9 L912.51 412.01 L913.15 409.3 L913.8 406.8 L914.45 405.95 L915.09 407.2 L915.74 409.58 L916.39 411.91 L917.03 413.36 L917.68 414.05 L918.33 414.77 L918.97 416.01 L919.62 417.29 L920.27 417.68 L920.91 416.9 L921.56 415.74 L922.21 415.25 L922.86 415.3 L923.5 414.52 L924.15 411.28 L924.8 404.3 L925.44 392.5 L926.09 375.57 L926.74 354.77 L927.38 333.42 L928.03 315.99 L928.68 307.12 L928.84 306.72 L929.32 310.04 L929.97 323.87 L930.62 344.27 L931.27 365.89 L931.91 384.48 L932.56 398.21 L933.21 407.09 L933.85 412.09 L934.5 414.68" fill="none" stroke="#3a3a3a" stroke-width="1" stroke-linejoin="round"/>
<path d="M214.3 76.8 L241 92.7 M242.85 92.7 L244.75 123.5 M239.15 92.7 L241.05 123.5 M242.9 123.5 L214.3 138.5 M214.3 140.35 L189.4 124.75 M214.3 136.65 L189.4 121.05 M189.4 122.9 L189.4 92.7 M189.4 94.55 L214.3 78.65 M189.4 90.85 L214.3 74.95 M214.3 76.8 L214.3 47.8 M214.3 49.7 L235.86 38.48 M214.3 45.9 L235.86 34.68" fill="none" stroke="#333" stroke-width="1.2" stroke-linecap="round"/>
<text font-size="14.5" font-family='"Liberation Sans", Arial, Helvetica, sans-serif' text-anchor="middle" fill="#333" x="241.3" y="39.2">O</text>
<path d="M343.6 290 L371.3 305.4 M373.05 305.4 L373.05 337.2 M369.55 305.4 L369.55 337.2 M371.3 337.2 L343.6 352.7 M343.6 354.45 L315.1 337.65 M343.6 350.95 L315.1 334.15 M315.1 335.9 L315.1 305.7 M315.1 307.45 L343.6 291.75 M315.1 303.95 L343.6 288.25 M315.1 305.7 L288.2 290.3 M288.2 290.3 L275.8 297.3" fill="none" stroke="#333" stroke-width="1.2" stroke-linecap="round"/>
<text font-size="18" font-family='"Liberation Serif", "Times New Roman", Times, serif' fill="#333" textLength="20.9" lengthAdjust="spacingAndGlyphs" x="253.6" y="310.5">HO</text>
<path d="M662.5 297.4 L690.5 313.4 M692.5 313.4 L692.5 344.3 M688.5 313.4 L688.5 344.3 M690.5 344.3 L662.5 361.7 M662.5 363.7 L634.6 344.7 M662.5 359.7 L634.6 340.7 M634.6 342.7 L634.6 313.9 M634.6 315.9 L662.5 299.4 M634.6 311.9 L662.5 295.4 M634.6 313.9 L607.2 297.7 M607.2 297.7 L582.89 309.5 M569.49 308.96 L549.3 298.5 M549.3 298.5 L519.7 314.5 M551.75 298.5 L551.75 274.7 M546.85 298.5 L546.85 274.7" fill="none" stroke="#333" stroke-width="1.2" stroke-linecap="round"/>
<text font-size="15" font-family='"Liberation Sans", Arial, Helvetica, sans-serif' text-anchor="middle" fill="#333" x="576.5" y="318">O</text>
<text font-size="15" font-family='"Liberation Sans", Arial, Helvetica, sans-serif' text-anchor="middle" fill="#333" x="549" y="268.4">O</text>
<path d="M870.8 253.9 L896.7 268.7 M898.5 268.7 L898.5 299.1 M894.9 268.7 L894.9 299.1 M896.7 299.1 L870.8 314.7 M870.8 316.5 L844.9 300.7 M870.8 312.9 L844.9 297.1 M844.9 298.9 L844.9 268.2 M844.9 270 L870.8 255.7 M844.9 266.4 L870.8 252.1 M870.8 253.9 L870.8 222.9 M870.8 222.9 L889.06 210.85 M896.4 198.9 L896.4 177.7 M896.4 177.7 L922.7 163.4 M922.7 163.4 L922.7 132.9 M896.4 179.55 L876.32 168.03 M896.4 175.85 L876.32 164.33" fill="none" stroke="#5a5a5a" stroke-width="1.15" stroke-linecap="round"/>
<text font-size="14.5" font-family='"Liberation Sans", Arial, Helvetica, sans-serif' text-anchor="middle" fill="#5a5a5a" x="896.4" y="211.2">O</text>
<text font-size="14.5" font-family='"Liberation Sans", Arial, Helvetica, sans-serif' text-anchor="middle" fill="#5a5a5a" x="870.6" y="168.1">O</text>
<text font-size="21" font-family='"Liberation Serif", "Times New Roman", Times, serif' fill="#222" transform="translate(182.9,26.8) rotate(-90)">1</text>
<text font-size="21" font-family='"Liberation Serif", "Times New Roman", Times, serif' fill="#222" transform="translate(348.8,383.3) rotate(-90)">2</text>
<text font-size="21" font-family='"Liberation Serif", "Times New Roman", Times, serif' fill="#222" transform="translate(667.7,400.3) rotate(-90)">3</text>
<text font-size="21" font-family='"Liberation Serif", "Times New Roman", Times, serif' fill="#222" transform="translate(890.8,357.3) rotate(-90)">4</text>
<text font-size="29" font-family='"Liberation Sans", Arial, Helvetica, sans-serif' font-weight="bold" fill="#f00000" x="171.02" y="54.41">*</text>
<text font-size="29" font-family='"Liberation Sans", Arial, Helvetica, sans-serif' font-weight="bold" fill="#f00000" x="338.02" y="378.11">*</text>
<text font-size="29" font-family='"Liberation Sans", Arial, Helvetica, sans-serif' font-weight="bold" fill="#f00000" x="655.12" y="397.11">*</text>
<text font-size="29" font-family='"Liberation Sans", Arial, Helvetica, sans-serif' font-weight="bold" fill="#f00000" x="874.62" y="351.71">*</text>
<text font-size="27.3" font-family='"Liberation Sans", Arial, Helvetica, sans-serif' font-weight="bold" textLength="105.63" lengthAdjust="spacingAndGlyphs" x="729.7" y="104.3">GFP-OE</text>
<rect x="971" y="12" width="902.2" height="446.9" fill="none" stroke="#444" stroke-width="1.55"/>
<path d="M971 458.9 v7.6 M979.2 458.9 v3.1 M987.4 458.9 v3.1 M995.61 458.9 v3.1 M1003.81 458.9 v3.1 M1012.01 458.9 v5.2 M1020.21 458.9 v3.1 M1028.41 458.9 v3.1 M1036.61 458.9 v3.1 M1044.82 458.9 v3.1 M1053.02 458.9 v7.6 M1061.22 458.9 v3.1 M1069.42 458.9 v3.1 M1077.62 458.9 v3.1 M1085.83 458.9 v3.1 M1094.03 458.9 v5.2 M1102.23 458.9 v3.1 M1110.43 458.9 v3.1 M1118.63 458.9 v3.1 M1126.83 458.9 v3.1 M1135.04 458.9 v7.6 M1143.24 458.9 v3.1 M1151.44 458.9 v3.1 M1159.64 458.9 v3.1 M1167.84 458.9 v3.1 M1176.05 458.9 v5.2 M1184.25 458.9 v3.1 M1192.45 458.9 v3.1 M1200.65 458.9 v3.1 M1208.85 458.9 v3.1 M1217.05 458.9 v7.6 M1225.26 458.9 v3.1 M1233.46 458.9 v3.1 M1241.66 458.9 v3.1 M1249.86 458.9 v3.1 M1258.06 458.9 v5.2 M1266.27 458.9 v3.1 M1274.47 458.9 v3.1 M1282.67 458.9 v3.1 M1290.87 458.9 v3.1 M1299.07 458.9 v7.6 M1307.27 458.9 v3.1 M1315.48 458.9 v3.1 M1323.68 458.9 v3.1 M1331.88 458.9 v3.1 M1340.08 458.9 v5.2 M1348.28 458.9 v3.1 M1356.49 458.9 v3.1 M1364.69 458.9 v3.1 M1372.89 458.9 v3.1 M1381.09 458.9 v7.6 M1389.29 458.9 v3.1 M1397.49 458.9 v3.1 M1405.7 458.9 v3.1 M1413.9 458.9 v3.1 M1422.1 458.9 v5.2 M1430.3 458.9 v3.1 M1438.5 458.9 v3.1 M1446.71 458.9 v3.1 M1454.91 458.9 v3.1 M1463.11 458.9 v7.6 M1471.31 458.9 v3.1 M1479.51 458.9 v3.1 M1487.71 458.9 v3.1 M1495.92 458.9 v3.1 M1504.12 458.9 v5.2 M1512.32 458.9 v3.1 M1520.52 458.9 v3.1 M1528.72 458.9 v3.1 M1536.93 458.9 v3.1 M1545.13 458.9 v7.6 M1553.33 458.9 v3.1 M1561.53 458.9 v3.1 M1569.73 458.9 v3.1 M1577.93 458.9 v3.1 M1586.14 458.9 v5.2 M1594.34 458.9 v3.1 M1602.54 458.9 v3.1 M1610.74 458.9 v3.1 M1618.94 458.9 v3.1 M1627.15 458.9 v7.6 M1635.35 458.9 v3.1 M1643.55 458.9 v3.1 M1651.75 458.9 v3.1 M1659.95 458.9 v3.1 M1668.15 458.9 v5.2 M1676.36 458.9 v3.1 M1684.56 458.9 v3.1 M1692.76 458.9 v3.1 M1700.96 458.9 v3.1 M1709.16 458.9 v7.6 M1717.37 458.9 v3.1 M1725.57 458.9 v3.1 M1733.77 458.9 v3.1 M1741.97 458.9 v3.1 M1750.17 458.9 v5.2 M1758.37 458.9 v3.1 M1766.58 458.9 v3.1 M1774.78 458.9 v3.1 M1782.98 458.9 v3.1 M1791.18 458.9 v7.6 M1799.38 458.9 v3.1 M1807.59 458.9 v3.1 M1815.79 458.9 v3.1 M1823.99 458.9 v3.1 M1832.19 458.9 v5.2 M1840.39 458.9 v3.1 M1848.59 458.9 v3.1 M1856.8 458.9 v3.1 M1865 458.9 v3.1 M1873.2 458.9 v7.6" fill="none" stroke="#333" stroke-width="1.15"/>
<text font-size="14.5" font-family='"Liberation Serif", "Times New Roman", Times, serif' text-anchor="middle" fill="#111" textLength="16.88" lengthAdjust="spacingAndGlyphs" x="1053.02" y="478.6" stroke="#111" stroke-width="0.2">9.0</text>
<text font-size="14.5" font-family='"Liberation Serif", "Times New Roman", Times, serif' text-anchor="middle" fill="#111" textLength="23.62" lengthAdjust="spacingAndGlyphs" x="1135.04" y="478.6" stroke="#111" stroke-width="0.2">10.0</text>
<text font-size="14.5" font-family='"Liberation Serif", "Times New Roman", Times, serif' text-anchor="middle" fill="#111" textLength="23.62" lengthAdjust="spacingAndGlyphs" x="1217.05" y="478.6" stroke="#111" stroke-width="0.2">11.0</text>
<text font-size="14.5" font-family='"Liberation Serif", "Times New Roman", Times, serif' text-anchor="middle" fill="#111" textLength="23.62" lengthAdjust="spacingAndGlyphs" x="1299.07" y="478.6" stroke="#111" stroke-width="0.2">12.0</text>
<text font-size="14.5" font-family='"Liberation Serif", "Times New Roman", Times, serif' text-anchor="middle" fill="#111" textLength="23.62" lengthAdjust="spacingAndGlyphs" x="1381.09" y="478.6" stroke="#111" stroke-width="0.2">13.0</text>
<text font-size="14.5" font-family='"Liberation Serif", "Times New Roman", Times, serif' text-anchor="middle" fill="#111" textLength="23.62" lengthAdjust="spacingAndGlyphs" x="1463.11" y="478.6" stroke="#111" stroke-width="0.2">14.0</text>
<text font-size="14.5" font-family='"Liberation Serif", "Times New Roman", Times, serif' text-anchor="middle" fill="#111" textLength="23.62" lengthAdjust="spacingAndGlyphs" x="1545.13" y="478.6" stroke="#111" stroke-width="0.2">15.0</text>
<text font-size="14.5" font-family='"Liberation Serif", "Times New Roman", Times, serif' text-anchor="middle" fill="#111" textLength="23.62" lengthAdjust="spacingAndGlyphs" x="1627.15" y="478.6" stroke="#111" stroke-width="0.2">16.0</text>
<text font-size="14.5" font-family='"Liberation Serif", "Times New Roman", Times, serif' text-anchor="middle" fill="#111" textLength="23.62" lengthAdjust="spacingAndGlyphs" x="1709.16" y="478.6" stroke="#111" stroke-width="0.2">17.0</text>
<text font-size="14.5" font-family='"Liberation Serif", "Times New Roman", Times, serif' text-anchor="middle" fill="#111" textLength="23.62" lengthAdjust="spacingAndGlyphs" x="1791.18" y="478.6" stroke="#111" stroke-width="0.2">18.0</text>
<text font-size="14.5" font-family='"Liberation Serif", "Times New Roman", Times, serif' text-anchor="middle" fill="#111" textLength="23.62" lengthAdjust="spacingAndGlyphs" x="1873.2" y="478.6" stroke="#111" stroke-width="0.2">19.0</text>
<text font-size="14.5" font-family='"Liberation Serif", "Times New Roman", Times, serif' text-anchor="end" fill="#111" textLength="21" lengthAdjust="spacingAndGlyphs" x="1873.3" y="492.8" stroke="#111" stroke-width="0.2">min</text>
<text font-size="13.5" font-family='"Liberation Serif", "Times New Roman", Times, serif' text-anchor="end" fill="#111" textLength="20.3" lengthAdjust="spacingAndGlyphs" x="1872.7" y="9.4" stroke="#111" stroke-width="0.2">TIC</text>
<text font-size="14.5" font-family='"Liberation Serif", "Times New Roman", Times, serif' fill="#111" textLength="44.2" lengthAdjust="spacingAndGlyphs" x="972.3" y="25.2" stroke="#111" stroke-width="0.2">500,000</text>
<path d="M971 421.01 L971.66 421.5 L972.31 421.65 L972.97 421.22 L973.62 420.65 L974.28 420.52 L974.94 420.9 L975.59 421.43 L976.25 421.63 L976.91 421.33 L977.56 420.92 L978.22 420.83 L978.87 420.98 L979.53 421.04 L980.19 421.05 L980.84 420.98 L981.5 420.74 L982.15 420.28 L982.81 419.74 L983.47 419.47 L984.12 419.61 L984.78 419.76 L985.44 419.61 L986.09 419.36 L986.75 419.48 L987.4 420.11 L988.06 420.72 L988.72 420.67 L989.37 420.01 L990.03 419.3 L990.68 418.91 L991.34 418.89 L992 419.19 L992.65 419.43 L993.31 419.22 L993.97 418.94 L994.62 419.06 L995.28 419.36 L995.93 419.59 L996.59 419.98 L997.25 420.43 L997.9 420.56 L998.56 420.14 L999.21 418.88 L999.87 417.13 L1000.53 415.99 L1001.18 415.85 L1001.84 416.1 L1002.49 416.52 L1003.15 417.45 L1003.81 418.6 L1004.46 419.39 L1005.12 419.81 L1005.78 420.41 L1006.43 420.62 L1007.09 420.01 L1007.74 419.17 L1008.4 418.59 L1009.06 418.25 L1009.71 418.2 L1010.37 418.34 L1011.02 418.52 L1011.68 418.52 L1012.34 418.22 L1012.99 418.15 L1013.65 418.58 L1014.31 419.03 L1014.96 419.35 L1015.62 419.83 L1016.27 420.42 L1016.93 420.74 L1017.59 420.43 L1018.24 419.71 L1018.9 419.23 L1019.55 419.46 L1020.21 420 L1020.87 420.01 L1021.52 419.74 L1022.18 420.14 L1022.84 421.05 L1023.49 421.62 L1024.15 421.84 L1024.8 422.04 L1025.46 422.09 L1026.12 421.81 L1026.77 421.3 L1027.43 420.76 L1028.08 420.57 L1028.74 421.1 L1029.4 421.95 L1030.05 422.19 L1030.71 421.5 L1031.37 420.6 L1032.02 420.28 L1032.68 420.37 L1033.33 420.48 L1033.99 420.74 L1034.65 421.11 L1035.3 421.42 L1035.96 421.79 L1036.61 422.06 L1037.27 421.76 L1037.93 421.18 L1038.58 420.93 L1039.24 421.08 L1039.9 421.19 L1040.55 421.2 L1041.21 421.2 L1041.86 420.79 L1042.52 419.87 L1043.18 419.05 L1043.83 418.77 L1044.49 418.83 L1045.14 418.96 L1045.8 419.19 L1046.46 419.59 L1047.11 420.06 L1047.77 420.5 L1048.43 420.93 L1049.08 421.29 L1049.74 421.51 L1050.39 421.58 L1051.05 421.37 L1051.71 420.68 L1052.36 419.49 L1053.02 418.24 L1053.67 417.74 L1054.33 418.15 L1054.99 419.07 L1055.64 419.98 L1056.3 420.65 L1056.96 421.06 L1057.61 421.08 L1058.27 420.75 L1058.92 420.25 L1059.58 419.76 L1060.24 419.31 L1060.89 419.08 L1061.55 419.38 L1062.2 419.99 L1062.86 420.43 L1063.52 420.57 L1064.17 420.54 L1064.83 420.27 L1065.48 419.82 L1066.14 419.44 L1066.8 419.34 L1067.45 419.38 L1068.11 419.31 L1068.77 419.36 L1069.42 419.8 L1070.08 420.32 L1070.73 420.64 L1071.39 420.84 L1072.05 420.94 L1072.7 420.8 L1073.36 420.55 L1074.01 420.42 L1074.67 420.28 L1075.33 419.98 L1075.98 419.57 L1076.64 419.23 L1077.3 419.12 L1077.95 419.3 L1078.61 419.41 L1079.26 419.11 L1079.92 418.63 L1080.58 418.43 L1081.23 418.76 L1081.89 418.86 L1082.54 20.15 L1082.55 12 M1087.18 12 L1087.79 201.48 L1088.45 300.6 L1089.11 349.46 L1089.76 373.95 L1090.42 386.82 L1091.07 394.34 L1091.73 399.25 L1092.39 402.47 L1093.04 404.53 L1093.7 405.79 L1094.36 406.79 L1095.01 407.87 L1095.67 408.73 L1096.32 409.11 L1096.98 409.28 L1097.64 409.66 L1098.29 410.42 L1098.95 411.34 L1099.6 412.06 L1100.26 412.6 L1100.92 413.1 L1101.57 413.44 L1102.23 413.68 L1102.89 414.04 L1103.54 414.27 L1104.2 414.51 L1104.85 415.23 L1105.51 415.78 L1106.17 415.16 L1106.82 413.92 L1107.48 413.56 L1108.13 414.24 L1108.79 415.04 L1109.45 415.71 L1110.1 416.48 L1110.76 416.97 L1111.42 416.98 L1112.07 417.17 L1112.73 417.87 L1113.38 418.51 L1114.04 418.58 L1114.7 418.29 L1115.35 418.04 L1116.01 417.88 L1116.66 417.71 L1117.32 417.66 L1117.98 418.07 L1118.63 418.68 L1119.29 418.83 L1119.95 418.53 L1120.6 418.14 L1121.26 417.91 L1121.91 417.87 L1122.57 417.73 L1123.23 417.26 L1123.88 416.27 L1124.54 414.68 L1125.19 412.94 L1125.85 411.41 L1126.51 410.44 L1127.16 410.56 L1127.82 411.51 L1128.47 412.88 L1129.13 414.66 L1129.79 416.32 L1130.44 417.38 L1131.1 418.08 L1131.76 418.54 L1132.41 418.54 L1133.07 418.1 L1133.72 417.64 L1134.38 417.43 L1135.04 417.64 L1135.69 418.35 L1136.35 419.13 L1137 419.39 L1137.66 419.06 L1138.32 418.72 L1138.97 418.83 L1139.63 419.22 L1140.29 419.53 L1140.94 419.5 L1141.6 419.09 L1142.25 418.43 L1142.91 417.79 L1143.57 417.4 L1144.22 417.3 L1144.88 417.45 L1145.53 417.7 L1146.19 418.03 L1146.85 418.65 L1147.5 419.3 L1148.16 419.5 L1148.82 419.22 L1149.47 418.56 L1150.13 417.84 L1150.78 417.7 L1151.44 418.16 L1152.1 418.74 L1152.75 418.96 L1153.41 419.03 L1154.06 419.1 L1154.72 419.1 L1155.38 419.14 L1156.03 419.4 L1156.69 419.68 L1157.35 419.89 L1158 420.35 L1158.66 421.04 L1159.31 421.31 L1159.97 420.74 L1160.63 419.8 L1161.28 419.24 L1161.94 419.12 L1162.59 419 L1163.25 419 L1163.91 419.4 L1164.56 420 L1165.22 420.54 L1165.88 420.8 L1166.53 420.86 L1167.19 421.2 L1167.84 421.91 L1168.5 422.67 L1169.16 423.32 L1169.81 423.43 L1170.47 422.95 L1171.12 421.98 L1171.78 420.76 L1172.44 420.05 L1173.09 420.16 L1173.75 420.53 L1174.41 420.71 L1175.06 420.68 L1175.72 420.55 L1176.37 420.48 L1177.03 420.59 L1177.69 420.62 L1178.34 420.47 L1179 420.39 L1179.65 420.73 L1180.31 421.29 L1180.97 421.45 L1181.62 421.06 L1182.28 420.57 L1182.93 420.02 L1183.59 419.38 L1184.25 419.14 L1184.9 419.6 L1185.56 420.35 L1186.22 420.99 L1186.87 421.07 L1187.53 420.35 L1188.18 419.15 L1188.84 418.21 L1189.5 417.93 L1190.15 418.02 L1190.81 418.08 L1191.46 418.23 L1192.12 418.71 L1192.78 419.5 L1193.43 420.23 L1194.09 420.71 L1194.75 421.39 L1195.4 422.26 L1196.06 422.65 L1196.71 422.55 L1197.37 422.46 L1198.03 422.41 L1198.68 422.27 L1199.34 422.25 L1199.99 422.47 L1200.65 422.66 L1201.31 422.43 L1201.96 422.02 L1202.62 421.6 L1203.28 420.85 L1203.93 420.07 L1204.59 419.72 L1205.24 419.26 L1205.9 418.16 L1206.56 416.59 L1207.21 414.69 L1207.87 412.89 L1208.52 412.04 L1209.18 412.85 L1209.84 414.73 L1210.49 416.44 L1211.15 417.74 L1211.81 418.74 L1212.46 419.21 L1213.12 419.33 L1213.77 419.56 L1214.43 419.73 L1215.09 419.5 L1215.74 419.13 L1216.4 418.94 L1217.05 418.66 L1217.71 417.52 L1218.37 415.08 L1219.02 412.25 L1219.68 410.68 L1220.34 410.93 L1220.99 412.12 L1221.65 413.1 L1222.3 412.7 L1222.96 411.02 L1223.62 409.87 L1224.27 410.89 L1224.93 413.49 L1225.58 416.27 L1226.24 418.31 L1226.9 419.32 L1227.55 419.55 L1228.21 419.54 L1228.87 419.85 L1229.52 420.34 L1230.18 420.47 L1230.83 420.22 L1231.49 419.81 L1232.15 419.19 L1232.8 418.2 L1233.46 417.12 L1234.11 416.29 L1234.77 415.57 L1235.43 414.51 L1236.08 413.18 L1236.74 411.97 L1237.4 411.28 L1238.05 411.77 L1238.71 413.6 L1239.36 416.01 L1240.02 417.84 L1240.68 418.36 L1241.33 418.16 L1241.99 417.89 L1242.64 417.51 L1243.3 416.56 L1243.96 414.79 L1244.61 412.42 L1245.27 409.73 L1245.92 407.09 L1246.58 405.93 L1247.24 407.54 L1247.89 410.8 L1248.55 413.92 L1249.21 416.01 L1249.86 417.3 L1250.52 418.35 L1251.17 418.96 L1251.83 418.9 L1252.49 418.53 L1253.14 418.4 L1253.8 418.64 L1254.45 418.99 L1255.11 419.25 L1255.77 419.29 L1256.42 419.04 L1257.08 419.05 L1257.74 419.73 L1258.39 420.49 L1259.05 420.57 L1259.7 420.05 L1260.36 419.58 L1261.02 419.41 L1261.67 419.16 L1262.33 418.79 L1262.98 418.59 L1263.64 418.48 L1264.3 418.14 L1264.95 417.53 L1265.61 416.87 L1266.27 415.76 L1266.92 413.21 L1267.58 409.23 L1268.23 403.9 L1268.89 396.35 L1269.55 385.82 L1270.2 373.33 L1270.86 361.55 L1271.51 353.52 L1272.01 351.67 L1272.17 350.96 L1272.83 353.56 L1273.48 362.05 L1274.14 372.83 L1274.8 383.35 L1275.45 392.46 L1276.11 399.71 L1276.76 404.84 L1277.42 408.12 L1278.08 410.27 L1278.73 411.63 L1279.39 412.33 L1280.04 412.63 L1280.7 412.86 L1281.36 413.25 L1282.01 413.8 L1282.67 414.16 L1283.33 414.45 L1283.98 414.86 L1284.64 415.44 L1285.29 416.04 L1285.95 416.84 L1286.61 417.69 L1287.26 418.2 L1287.92 418.3 L1288.57 418.25 L1289.23 418.26 L1289.89 418.39 L1290.54 418.6 L1291.2 418.64 L1291.86 418.74 L1292.51 419.41 L1293.17 420.35 L1293.82 420.93 L1294.48 421.01 L1295.14 420.88 L1295.79 420.87 L1296.45 421.02 L1297.1 421.22 L1297.76 421.15 L1298.42 420.71 L1299.07 420.55 L1299.73 420.81 L1300.39 420.92 L1301.04 420.59 L1301.7 420.41 L1302.35 420.51 L1303.01 420.42 L1303.67 420.28 L1304.32 419.91 L1304.98 419.39 L1305.63 418.85 L1306.29 419.08 L1306.95 419.86 L1307.6 419.94 L1308.26 418.95 L1308.91 417.28 L1309.57 415.04 L1310.23 412.58 L1310.88 410.56 L1311.54 409.89 L1312.2 410.91 L1312.85 412.79 L1313.51 414.56 L1314.16 415.91 L1314.82 416.91 L1315.48 417.55 L1316.13 417.97 L1316.79 418.19 L1317.44 418.09 L1318.1 417.91 L1318.76 417.94 L1319.41 417.95 L1320.07 417.57 L1320.73 416.53 L1321.38 415.04 L1322.04 414.12 L1322.69 414.4 L1323.35 415.54 L1324.01 416.94 L1324.66 418.11 L1325.32 418.41 L1325.97 416.96 L1326.63 412.02 L1327.29 400.17 L1327.94 377.36 L1328.6 343.45 L1329.26 306.58 L1329.91 281.58 L1330.24 278.21 L1330.57 281.82 L1331.22 307.13 L1331.88 343.86 L1332.54 377.36 L1333.19 399.98 L1333.85 411.96 L1334.5 417 L1335.16 418.56 L1335.82 418.74 L1336.47 418.59 L1337.13 418.52 L1337.79 418.57 L1338.44 418.59 L1339.1 418.54 L1339.75 418.42 L1340.41 417.73 L1341.07 415.3 L1341.72 410.43 L1342.38 403.41 L1343.03 395.34 L1343.69 388.53 L1344.18 386.61 L1344.35 386.82 L1345 391.68 L1345.66 399.95 L1346.32 407.99 L1346.97 413.6 L1347.63 416.66 L1348.28 418.22 L1348.94 418.71 L1349.6 418.5 L1350.25 418.31 L1350.91 418.59 L1351.56 419.31 L1352.22 420.27 L1352.88 421.05 L1353.53 421.21 L1354.19 421.04 L1354.85 420.96 L1355.5 420.79 L1356.16 420.56 L1356.81 420.7 L1357.47 421.03 L1358.13 420.93 L1358.78 420.36 L1359.44 419.83 L1360.09 419.68 L1360.75 419.5 L1361.41 419.14 L1362.06 418.97 L1362.72 419.08 L1363.37 419.29 L1364.03 419.5 L1364.69 419.78 L1365.34 420.21 L1366 420.23 L1366.66 419.46 L1367.31 418.29 L1367.97 417.16 L1368.62 416.44 L1369.28 416.43 L1369.94 417 L1370.59 417.74 L1371.25 418.61 L1371.9 419.47 L1372.56 420.08 L1373.22 420.24 L1373.87 419.88 L1374.53 419.26 L1375.19 418.94 L1375.84 419.21 L1376.5 419.83 L1377.15 420.36 L1377.81 420.65 L1378.47 420.73 L1379.12 420.52 L1379.78 420.01 L1380.43 418.99 L1381.09 416.84 L1381.75 413.2 L1382.4 409.03 L1383.06 405.64 L1383.72 404.59 L1384.37 406.57 L1385.03 410.03 L1385.68 413.31 L1386.34 415.77 L1387 417.41 L1387.65 418.44 L1388.31 418.83 L1388.96 418.89 L1389.62 419.07 L1390.28 419.18 L1390.93 418.53 L1391.59 416.67 L1392.25 413.93 L1392.9 411.09 L1393.56 408.73 L1394.21 407.71 L1394.87 408.95 L1395.53 411.66 L1396.18 414.54 L1396.84 417.02 L1397.49 418.91 L1398.15 420.15 L1398.81 420.77 L1399.46 421.02 L1400.12 421.13 L1400.78 421.11 L1401.43 420.76 L1402.09 420.06 L1402.74 419.68 L1403.4 419.92 L1404.06 419.94 L1404.71 419.61 L1405.37 419.88 L1406.02 420.72 L1406.68 421.16 L1407.34 420.99 L1407.99 420.73 L1408.65 420.7 L1409.31 420.7 L1409.96 420.42 L1410.62 420.1 L1411.27 419.92 L1411.93 419.54 L1412.59 418.92 L1413.24 418.61 L1413.9 418.93 L1414.55 419.58 L1415.21 419.85 L1415.87 419.49 L1416.52 418.98 L1417.18 418.83 L1417.84 419.07 L1418.49 419.46 L1419.15 419.75 L1419.8 420.1 L1420.46 420.19 L1421.12 419.65 L1421.77 418.73 L1422.43 417.95 L1423.08 417.22 L1423.74 416.16 L1424.4 414.9 L1425.05 413.96 L1425.71 413.93 L1426.36 415.04 L1427.02 416.77 L1427.68 418.5 L1428.33 419.88 L1428.99 420.7 L1429.65 421 L1430.3 421.08 L1430.96 421.1 L1431.61 421.11 L1432.27 421.06 L1432.93 421.2 L1433.58 421.44 L1434.24 421.09 L1434.89 420.08 L1435.55 419.24 L1436.21 418.7 L1436.86 418.11 L1437.52 417.58 L1438.18 417.27 L1438.83 417.12 L1439.49 416.85 L1440.14 416.07 L1440.8 414.24 L1441.46 410.41 L1442.11 403.21 L1442.77 392.38 L1443.42 379.63 L1444.08 367.32 L1444.74 358.95 L1445.07 357.76 L1445.39 358.44 L1446.05 366.22 L1446.71 378.19 L1447.36 390.14 L1448.02 400 L1448.67 407.41 L1449.33 412.18 L1449.99 414.54 L1450.64 415.59 L1451.3 416.13 L1451.95 416.22 L1452.61 416.1 L1453.27 416.14 L1453.92 416.24 L1454.58 416.12 L1455.24 415.8 L1455.89 415.19 L1456.55 413.62 L1457.2 410.8 L1457.86 407.84 L1458.52 406.24 L1459.17 406.67 L1459.83 408.77 L1460.48 411.33 L1461.14 413.65 L1461.8 415.35 L1462.45 416.36 L1463.11 417.2 L1463.77 418.19 L1464.42 419.05 L1465.08 419.36 L1465.73 419.21 L1466.39 418.75 L1467.05 417.85 L1467.7 416.6 L1468.36 415.38 L1469.01 414.74 L1469.67 414.84 L1470.33 415.36 L1470.98 416.25 L1471.64 417.44 L1472.3 417.73 L1472.95 417.1 L1473.61 416.46 L1474.26 416.16 L1474.92 415.97 L1475.58 415.49 L1476.23 414.26 L1476.89 412.77 L1477.54 412.12 L1478.2 412.39 L1478.86 412.99 L1479.51 414.19 L1480.17 416.3 L1480.83 418.37 L1481.48 419.39 L1482.14 419.42 L1482.79 419.3 L1483.45 419.44 L1484.11 419.6 L1484.76 419.66 L1485.42 419.56 L1486.07 419.22 L1486.73 418.85 L1487.39 418.93 L1488.04 419.52 L1488.7 420.04 L1489.35 419.82 L1490.01 419.14 L1490.67 418.8 L1491.32 419.04 L1491.98 419.44 L1492.64 419.63 L1493.29 419.74 L1493.95 420 L1494.6 420.37 L1495.26 420.6 L1495.92 420.42 L1496.57 419.95 L1497.23 419.8 L1497.88 420.2 L1498.54 420.66 L1499.2 420.75 L1499.85 420.46 L1500.51 420.17 L1501.17 420.13 L1501.82 420.04 L1502.48 419.69 L1503.13 419.44 L1503.79 419.52 L1504.45 419.76 L1505.1 419.92 L1505.76 419.96 L1506.41 419.97 L1507.07 419.85 L1507.73 419.57 L1508.38 419.47 L1509.04 419.74 L1509.7 420.29 L1510.35 420.71 L1511.01 420.71 L1511.66 420.66 L1512.32 420.94 L1512.98 421.16 L1513.63 421.02 L1514.29 420.74 L1514.94 420.33 L1515.6 419.92 L1516.26 419.92 L1516.91 420.32 L1517.57 420.61 L1518.23 420.48 L1518.88 420.31 L1519.54 420.46 L1520.19 420.61 L1520.85 420.45 L1521.51 420.17 L1522.16 420.23 L1522.82 420.71 L1523.47 421.05 L1524.13 420.99 L1524.79 420.8 L1525.44 420.33 L1526.1 419.58 L1526.76 419.09 L1527.41 419.17 L1528.07 419.55 L1528.72 419.95 L1529.38 420.21 L1530.04 420.37 L1530.69 420.49 L1531.35 420.42 L1532 420.03 L1532.66 419.66 L1533.32 419.66 L1533.97 419.85 L1534.63 420.02 L1535.29 419.95 L1535.94 419.35 L1536.6 418.61 L1537.25 418.5 L1537.91 419.06 L1538.57 419.87 L1539.22 420.46 L1539.88 420.41 L1540.53 419.76 L1541.19 419.13 L1541.85 418.95 L1542.5 419.07 L1543.16 419.15 L1543.81 418.83 L1544.47 418.15 L1545.13 417.84 L1545.78 418.42 L1546.44 419.07 L1547.1 419.22 L1547.75 419.23 L1548.41 419.38 L1549.06 419.54 L1549.72 419.63 L1550.38 419.76 L1551.03 419.94 L1551.69 420.11 L1552.34 420.09 L1553 420.03 L1553.66 420.22 L1554.31 420.34 L1554.97 419.95 L1555.63 419.49 L1556.28 419.42 L1556.94 419.55 L1557.59 419.68 L1558.25 419.75 L1558.91 419.63 L1559.56 419.43 L1560.22 419.62 L1560.87 420.23 L1561.53 420.77 L1562.19 420.79 L1562.84 420.37 L1563.5 419.85 L1564.16 419.58 L1564.81 419.36 L1565.47 418.77 L1566.12 418.08 L1566.78 417.92 L1567.44 418.07 L1568.09 417.99 L1568.75 417.7 L1569.4 417.8 L1570.06 418.38 L1570.72 418.86 L1571.37 418.58 L1572.03 417.53 L1572.69 416.55 L1573.34 416.42 L1574 417.11 L1574.65 418.08 L1575.31 418.73 L1575.97 418.91 L1576.62 418.99 L1577.28 419.15 L1577.93 419.15 L1578.59 419.03 L1579.25 418.71 L1579.9 418.51 L1580.56 418.51 L1581.22 418.31 L1581.87 417.7 L1582.53 417.2 L1583.18 417.3 L1583.84 417.56 L1584.5 417.45 L1585.15 417.3 L1585.81 417.44 L1586.46 417.7 L1587.12 418.12 L1587.78 418.54 L1588.43 418.43 L1589.09 417.69 L1589.75 416.65 L1590.4 415.56 L1591.06 413.98 L1591.71 410.68 L1592.37 404.88 L1593.03 397.08 L1593.68 388.5 L1594.34 380.78 L1594.99 376.27 L1595.16 376.08 L1595.65 376.07 L1596.31 380.89 L1596.96 388.62 L1597.62 397.04 L1598.28 404.52 L1598.93 410.29 L1599.59 414.13 L1600.24 416.36 L1600.9 417.67 L1601.56 418.37 L1602.21 418.28 L1602.87 417.81 L1603.52 417.83 L1604.18 418.25 L1604.84 418.64 L1605.49 418.81 L1606.15 418.66 L1606.8 418.39 L1607.46 418.41 L1608.12 418.85 L1608.77 419.47 L1609.43 419.99 L1610.09 420.32 L1610.74 420.22 L1611.4 419.7 L1612.05 419.27 L1612.71 419.32 L1613.37 419.79 L1614.02 420.01 L1614.68 419.49 L1615.33 418.83 L1615.99 418.57 L1616.65 418.48 L1617.3 418.65 L1617.96 419.52 L1618.62 420.64 L1619.27 421.02 L1619.93 420.72 L1620.58 420.44 L1621.24 420.71 L1621.9 421.45 L1622.55 421.76 L1623.21 421.28 L1623.86 420.33 L1624.52 419.59 L1625.18 419.29 L1625.83 419.47 L1626.49 420.05 L1627.15 420.77 L1627.8 421.03 L1628.46 420.65 L1629.11 420.01 L1629.77 419.62 L1630.43 419.46 L1631.08 419.3 L1631.74 419.09 L1632.39 418.9 L1633.05 418.91 L1633.71 419.21 L1634.36 419.74 L1635.02 420.46 L1635.68 420.94 L1636.33 420.65 L1636.99 420.09 L1637.64 420.27 L1638.3 421.08 L1638.96 421.58 L1639.61 421.33 L1640.27 420.57 L1640.92 419.88 L1641.58 419.68 L1642.24 419.94 L1642.89 420.25 L1643.55 420.15 L1644.21 419.75 L1644.86 419.36 L1645.52 419.16 L1646.17 419.01 L1646.83 418.85 L1647.49 418.99 L1648.14 419.67 L1648.8 420.46 L1649.45 420.66 L1650.11 420.1 L1650.77 419.37 L1651.42 419.24 L1652.08 419.7 L1652.74 420.08 L1653.39 419.96 L1654.05 419.74 L1654.7 419.98 L1655.36 420.43 L1656.02 420.66 L1656.67 420.83 L1657.33 420.93 L1657.98 420.56 L1658.64 419.82 L1659.3 419.36 L1659.95 419.33 L1660.61 419.3 L1661.27 419.14 L1661.92 419.34 L1662.58 420.03 L1663.23 420.53 L1663.89 420.55 L1664.55 420.5 L1665.2 420.74 L1665.86 421.11 L1666.51 421.11 L1667.17 420.73 L1667.83 420.41 L1668.48 420.22 L1669.14 420.1 L1669.79 420.22 L1670.45 420.54 L1671.11 420.58 L1671.76 420.23 L1672.42 419.92 L1673.08 419.81 L1673.73 419.84 L1674.39 420.05 L1675.04 420.27 L1675.7 420.18 L1676.36 419.69 L1677.01 419.3 L1677.67 419.23 L1678.32 419.27 L1678.98 419.4 L1679.64 419.68 L1680.29 419.74 L1680.95 419.38 L1681.61 419.13 L1682.26 419.35 L1682.92 419.68 L1683.57 419.87 L1684.23 419.97 L1684.89 419.94 L1685.54 419.97 L1686.2 419.98 L1686.85 419.55 L1687.51 418.91 L1688.17 418.63 L1688.82 418.79 L1689.48 419.09 L1690.14 419.17 L1690.79 418.46 L1691.45 416.74 L1692.1 414.44 L1692.76 411.94 L1693.42 409.6 L1694.07 408.23 L1694.73 408.42 L1695.38 409.91 L1696.04 412.16 L1696.7 414.57 L1697.35 416.61 L1698.01 418.05 L1698.67 419.05 L1699.32 419.75 L1699.98 420.16 L1700.63 420.39 L1701.29 420.69 L1701.95 421.03 L1702.6 421.09 L1703.26 420.6 L1703.91 419.82 L1704.57 419.34 L1705.23 419.54 L1705.88 420.14 L1706.54 420.46 L1707.2 420.28 L1707.85 419.96 L1708.51 419.99 L1709.16 420.47 L1709.82 420.84 L1710.48 420.74 L1711.13 420.67 L1711.79 421 L1712.44 421.12 L1713.1 420.42 L1713.76 419.48 L1714.41 419.27 L1715.07 419.7 L1715.73 419.85 L1716.38 419.49 L1717.04 419.22 L1717.69 419.3 L1718.35 419.45 L1719.01 419.51 L1719.66 419.35 L1720.32 418.95 L1720.97 418.38 L1721.63 417.21 L1722.29 415.51 L1722.94 414.43 L1723.6 414.74 L1724.25 415.72 L1724.91 416.4 L1725.57 416.65 L1726.22 416.7 L1726.88 416.51 L1727.54 416.02 L1728.19 415.16 L1728.85 413.86 L1729.5 412.57 L1730.16 411.9 L1730.82 411.62 L1731.47 411.43 L1732.13 411.43 L1732.78 411.58 L1733.44 412.26 L1734.1 414.08 L1734.75 416.27 L1735.41 417.65 L1736.07 418.16 L1736.72 418.25 L1737.38 418.12 L1738.03 417.98 L1738.69 418.09 L1739.35 418.35 L1740 418.12 L1740.66 417.3 L1741.31 416.54 L1741.97 415.98 L1742.63 415.19 L1743.28 414.23 L1743.94 413.8 L1744.6 414.2 L1745.25 415.21 L1745.91 416.52 L1746.56 417.78 L1747.22 418.79 L1747.88 419.48 L1748.53 419.54 L1749.19 418.84 L1749.84 417.9 L1750.5 417.21 L1751.16 416.52 L1751.81 415.49 L1752.47 414.69 L1753.13 415.19 L1753.78 416.81 L1754.44 418.36 L1755.09 419.19 L1755.75 419.39 L1756.41 419.36 L1757.06 419.68 L1757.72 420.43 L1758.37 421.02 L1759.03 421.05 L1759.69 420.82 L1760.34 420.43 L1761 419.92 L1761.66 419.71 L1762.31 419.84 L1762.97 419.88 L1763.62 419.61 L1764.28 419.23 L1764.94 419.06 L1765.59 419.16 L1766.25 419.19 L1766.9 418.84 L1767.56 418.31 L1768.22 418.04 L1768.87 418.21 L1769.53 418.37 L1770.19 418.39 L1770.84 418.73 L1771.5 419.26 L1772.15 419.48 L1772.81 419.3 L1773.47 418.91 L1774.12 418.77 L1774.78 418.97 L1775.43 419.25 L1776.09 419.55 L1776.75 419.7 L1777.4 419.5 L1778.06 419.38 L1778.72 419.71 L1779.37 420.11 L1780.03 420.14 L1780.68 419.98 L1781.34 420.05 L1782 420.36 L1782.65 420.66 L1783.31 420.7 L1783.96 420.22 L1784.62 419.04 L1785.28 417.53 L1785.93 416.08 L1786.59 414.54 L1787.24 412.99 L1787.9 412.2 L1788.56 412.64 L1789.21 413.84 L1789.87 415.2 L1790.53 416.43 L1791.18 417.42 L1791.84 418.3 L1792.49 419.01 L1793.15 419.59 L1793.81 419.85 L1794.46 419.8 L1795.12 419.83 L1795.77 420.13 L1796.43 420.85 L1797.09 421.56 L1797.74 421.49 L1798.4 420.35 L1799.06 418.29 L1799.71 415.84 L1800.37 413.79 L1801.02 412.61 L1801.68 411.9 L1802.34 411.69 L1802.99 412.78 L1803.65 415.12 L1804.3 417.44 L1804.96 418.93 L1805.62 419.57 L1806.27 419.27 L1806.93 418.47 L1807.59 418.01 L1808.24 418.1 L1808.9 418.49 L1809.55 418.97 L1810.21 419.36 L1810.87 419.63 L1811.52 419.85 L1812.18 419.78 L1812.83 419.28 L1813.49 418.46 L1814.15 417.02 L1814.8 414.69 L1815.46 411.23 L1816.12 406.02 L1816.77 398.27 L1817.43 387.77 L1818.08 375.3 L1818.74 362.67 L1819.4 353 L1819.89 350.17 L1820.05 349.73 L1820.71 354.04 L1821.36 365.21 L1822.02 378.41 L1822.68 390.31 L1823.33 399.69 L1823.99 406.36 L1824.65 410.9 L1825.3 413.81 L1825.96 415.2 L1826.61 415.71 L1827.27 416.23 L1827.93 416.83 L1828.58 417.12 L1829.24 417.3 L1829.89 417.73 L1830.55 417.93 L1831.21 417.65 L1831.86 417.28 L1832.52 417.06 L1833.18 417 L1833.83 416.71 L1834.49 415.44 L1835.14 412.84 L1835.8 409 L1836.46 404.42 L1837.11 400 L1837.77 397.08 L1837.93 396.98 L1838.42 397.08 L1839.08 399.91 L1839.74 404.92 L1840.39 411.13 L1841.05 416.54 L1841.71 419.71 L1842.36 420.54 L1843.02 420.36 L1843.67 420.39 L1844.33 420.58 L1844.99 420.64 L1845.64 420.55 L1846.3 420.18 L1846.95 419.43 L1847.61 418.47 L1848.27 417.62 L1848.92 417.07 L1849.58 416.19 L1850.23 414.68 L1850.89 412.55 L1851.55 410.36 L1852.2 408.63 L1852.86 408.2 L1853.52 409.43 L1854.17 411.64 L1854.83 413.86 L1855.48 415.34 L1856.14 416.22 L1856.8 417.09 L1857.45 417.79 L1858.11 418.08 L1858.76 418.21 L1859.42 418.15 L1860.08 417.98 L1860.73 417.8 L1861.39 417.33 L1862.05 415.94 L1862.7 412.71 L1863.36 406.32 L1864.01 395.14 L1864.67 378.41 L1865.33 357.19 L1865.98 334.73 L1866.64 316.03 L1867.29 306.48 L1867.46 306.08 L1867.95 309.55 L1868.61 324.23 L1869.26 345.48 L1869.92 367.5 L1870.58 386.35 L1871.23 400.3 L1871.89 409.43 L1872.54 414.85 L1873.2 417.45" fill="none" stroke="#3a3a3a" stroke-width="1" stroke-linejoin="round"/>
<path d="M1156.5 71.1 L1183.2 87 M1185.05 87 L1186.95 117.8 M1181.35 87 L1183.25 117.8 M1185.1 117.8 L1156.5 132.8 M1156.5 134.65 L1131.6 119.05 M1156.5 130.95 L1131.6 115.35 M1131.6 117.2 L1131.6 87 M1131.6 88.85 L1156.5 72.95 M1131.6 85.15 L1156.5 69.25 M1156.5 71.1 L1156.5 42.1 M1156.5 44 L1178.06 32.78 M1156.5 40.2 L1178.06 28.98" fill="none" stroke="#333" stroke-width="1.2" stroke-linecap="round"/>
<text font-size="14.5" font-family='"Liberation Sans", Arial, Helvetica, sans-serif' text-anchor="middle" fill="#333" x="1183.5" y="33.5">O</text>
<path d="M1270.8 257.5 L1298.5 272.9 M1300.25 272.9 L1300.25 304.7 M1296.75 272.9 L1296.75 304.7 M1298.5 304.7 L1270.8 320.2 M1270.8 321.95 L1242.3 305.15 M1270.8 318.45 L1242.3 301.65 M1242.3 303.4 L1242.3 273.2 M1242.3 274.95 L1270.8 259.25 M1242.3 271.45 L1270.8 255.75 M1242.3 273.2 L1215.4 257.8 M1215.4 257.8 L1203 264.8" fill="none" stroke="#333" stroke-width="1.2" stroke-linecap="round"/>
<text font-size="18" font-family='"Liberation Serif", "Times New Roman", Times, serif' fill="#333" textLength="20.9" lengthAdjust="spacingAndGlyphs" x="1180.8" y="278">HO</text>
<path d="M1593.8 275.5 L1621.8 291.5 M1623.8 291.5 L1623.8 322.4 M1619.8 291.5 L1619.8 322.4 M1621.8 322.4 L1593.8 339.8 M1593.8 341.8 L1565.9 322.8 M1593.8 337.8 L1565.9 318.8 M1565.9 320.8 L1565.9 292 M1565.9 294 L1593.8 277.5 M1565.9 290 L1593.8 273.5 M1565.9 292 L1538.5 275.8 M1538.5 275.8 L1514.19 287.6 M1500.79 287.06 L1480.6 276.6 M1480.6 276.6 L1451 292.6 M1483.05 276.6 L1483.05 252.8 M1478.15 276.6 L1478.15 252.8" fill="none" stroke="#333" stroke-width="1.2" stroke-linecap="round"/>
<text font-size="15" font-family='"Liberation Sans", Arial, Helvetica, sans-serif' text-anchor="middle" fill="#333" x="1507.8" y="296.1">O</text>
<text font-size="15" font-family='"Liberation Sans", Arial, Helvetica, sans-serif' text-anchor="middle" fill="#333" x="1480.3" y="246.5">O</text>
<path d="M1809.9 248.1 L1835.8 262.9 M1837.6 262.9 L1837.6 293.3 M1834 262.9 L1834 293.3 M1835.8 293.3 L1809.9 308.9 M1809.9 310.7 L1784 294.9 M1809.9 307.1 L1784 291.3 M1784 293.1 L1784 262.4 M1784 264.2 L1809.9 249.9 M1784 260.6 L1809.9 246.3 M1809.9 248.1 L1809.9 217.1 M1809.9 217.1 L1828.16 205.05 M1835.5 193.1 L1835.5 171.9 M1835.5 171.9 L1861.8 157.6 M1861.8 157.6 L1861.8 127.1 M1835.5 173.75 L1815.42 162.23 M1835.5 170.05 L1815.42 158.53" fill="none" stroke="#5a5a5a" stroke-width="1.15" stroke-linecap="round"/>
<text font-size="14.5" font-family='"Liberation Sans", Arial, Helvetica, sans-serif' text-anchor="middle" fill="#5a5a5a" x="1835.5" y="205.4">O</text>
<text font-size="14.5" font-family='"Liberation Sans", Arial, Helvetica, sans-serif' text-anchor="middle" fill="#5a5a5a" x="1809.7" y="162.3">O</text>
<text font-size="21" font-family='"Liberation Serif", "Times New Roman", Times, serif' fill="#222" transform="translate(1110.4,23) rotate(-90)">1</text>
<text font-size="21" font-family='"Liberation Serif", "Times New Roman", Times, serif' fill="#222" transform="translate(1277.7,349.3) rotate(-90)">2</text>
<text font-size="21" font-family='"Liberation Serif", "Times New Roman", Times, serif' fill="#222" transform="translate(1601.7,375.1) rotate(-90)">3</text>
<text font-size="21" font-family='"Liberation Serif", "Times New Roman", Times, serif' fill="#222" transform="translate(1827.6,352.3) rotate(-90)">4</text>
<text font-size="29" font-family='"Liberation Sans", Arial, Helvetica, sans-serif' font-weight="bold" fill="#f00000" x="1102.32" y="56.71">*</text>
<text font-size="29" font-family='"Liberation Sans", Arial, Helvetica, sans-serif' font-weight="bold" fill="#f00000" x="1271.72" y="343.81">*</text>
<text font-size="29" font-family='"Liberation Sans", Arial, Helvetica, sans-serif' font-weight="bold" fill="#f00000" x="1590.72" y="369.51">*</text>
<text font-size="29" font-family='"Liberation Sans", Arial, Helvetica, sans-serif' font-weight="bold" fill="#f00000" x="1813.82" y="346.21">*</text>
<text font-size="27.3" font-family='"Liberation Sans", Arial, Helvetica, sans-serif' font-weight="bold" textLength="195.16" lengthAdjust="spacingAndGlyphs" x="1597.4" y="102.6">PmBEAT36-OE</text>
<rect x="32.7" y="518.2" width="904.7" height="447.8" fill="none" stroke="#444" stroke-width="1.55"/>
<path d="M32.7 966 v7.6 M40.92 966 v3.1 M49.15 966 v3.1 M57.37 966 v3.1 M65.6 966 v3.1 M73.82 966 v5.2 M82.05 966 v3.1 M90.27 966 v3.1 M98.5 966 v3.1 M106.72 966 v3.1 M114.95 966 v7.6 M123.17 966 v3.1 M131.39 966 v3.1 M139.62 966 v3.1 M147.84 966 v3.1 M156.07 966 v5.2 M164.29 966 v3.1 M172.52 966 v3.1 M180.74 966 v3.1 M188.97 966 v3.1 M197.19 966 v7.6 M205.42 966 v3.1 M213.64 966 v3.1 M221.86 966 v3.1 M230.09 966 v3.1 M238.31 966 v5.2 M246.54 966 v3.1 M254.76 966 v3.1 M262.99 966 v3.1 M271.21 966 v3.1 M279.44 966 v7.6 M287.66 966 v3.1 M295.89 966 v3.1 M304.11 966 v3.1 M312.33 966 v3.1 M320.56 966 v5.2 M328.78 966 v3.1 M337.01 966 v3.1 M345.23 966 v3.1 M353.46 966 v3.1 M361.68 966 v7.6 M369.91 966 v3.1 M378.13 966 v3.1 M386.36 966 v3.1 M394.58 966 v3.1 M402.8 966 v5.2 M411.03 966 v3.1 M419.25 966 v3.1 M427.48 966 v3.1 M435.7 966 v3.1 M443.93 966 v7.6 M452.15 966 v3.1 M460.38 966 v3.1 M468.6 966 v3.1 M476.83 966 v3.1 M485.05 966 v5.2 M493.27 966 v3.1 M501.5 966 v3.1 M509.72 966 v3.1 M517.95 966 v3.1 M526.17 966 v7.6 M534.4 966 v3.1 M542.62 966 v3.1 M550.85 966 v3.1 M559.07 966 v3.1 M567.3 966 v5.2 M575.52 966 v3.1 M583.74 966 v3.1 M591.97 966 v3.1 M600.19 966 v3.1 M608.42 966 v7.6 M616.64 966 v3.1 M624.87 966 v3.1 M633.09 966 v3.1 M641.32 966 v3.1 M649.54 966 v5.2 M657.77 966 v3.1 M665.99 966 v3.1 M674.21 966 v3.1 M682.44 966 v3.1 M690.66 966 v7.6 M698.89 966 v3.1 M707.11 966 v3.1 M715.34 966 v3.1 M723.56 966 v3.1 M731.79 966 v5.2 M740.01 966 v3.1 M748.24 966 v3.1 M756.46 966 v3.1 M764.68 966 v3.1 M772.91 966 v7.6 M781.13 966 v3.1 M789.36 966 v3.1 M797.58 966 v3.1 M805.81 966 v3.1 M814.03 966 v5.2 M822.26 966 v3.1 M830.48 966 v3.1 M838.71 966 v3.1 M846.93 966 v3.1 M855.15 966 v7.6 M863.38 966 v3.1 M871.6 966 v3.1 M879.83 966 v3.1 M888.05 966 v3.1 M896.28 966 v5.2 M904.5 966 v3.1 M912.73 966 v3.1 M920.95 966 v3.1 M929.18 966 v3.1 M937.4 966 v7.6" fill="none" stroke="#333" stroke-width="1.15"/>
<text font-size="14.5" font-family='"Liberation Serif", "Times New Roman", Times, serif' text-anchor="middle" fill="#111" textLength="16.88" lengthAdjust="spacingAndGlyphs" x="114.95" y="985.7" stroke="#111" stroke-width="0.2">9.0</text>
<text font-size="14.5" font-family='"Liberation Serif", "Times New Roman", Times, serif' text-anchor="middle" fill="#111" textLength="23.62" lengthAdjust="spacingAndGlyphs" x="197.19" y="985.7" stroke="#111" stroke-width="0.2">10.0</text>
<text font-size="14.5" font-family='"Liberation Serif", "Times New Roman", Times, serif' text-anchor="middle" fill="#111" textLength="23.62" lengthAdjust="spacingAndGlyphs" x="279.44" y="985.7" stroke="#111" stroke-width="0.2">11.0</text>
<text font-size="14.5" font-family='"Liberation Serif", "Times New Roman", Times, serif' text-anchor="middle" fill="#111" textLength="23.62" lengthAdjust="spacingAndGlyphs" x="361.68" y="985.7" stroke="#111" stroke-width="0.2">12.0</text>
<text font-size="14.5" font-family='"Liberation Serif", "Times New Roman", Times, serif' text-anchor="middle" fill="#111" textLength="23.62" lengthAdjust="spacingAndGlyphs" x="443.93" y="985.7" stroke="#111" stroke-width="0.2">13.0</text>
<text font-size="14.5" font-family='"Liberation Serif", "Times New Roman", Times, serif' text-anchor="middle" fill="#111" textLength="23.62" lengthAdjust="spacingAndGlyphs" x="526.17" y="985.7" stroke="#111" stroke-width="0.2">14.0</text>
<text font-size="14.5" font-family='"Liberation Serif", "Times New Roman", Times, serif' text-anchor="middle" fill="#111" textLength="23.62" lengthAdjust="spacingAndGlyphs" x="608.42" y="985.7" stroke="#111" stroke-width="0.2">15.0</text>
<text font-size="14.5" font-family='"Liberation Serif", "Times New Roman", Times, serif' text-anchor="middle" fill="#111" textLength="23.62" lengthAdjust="spacingAndGlyphs" x="690.66" y="985.7" stroke="#111" stroke-width="0.2">16.0</text>
<text font-size="14.5" font-family='"Liberation Serif", "Times New Roman", Times, serif' text-anchor="middle" fill="#111" textLength="23.62" lengthAdjust="spacingAndGlyphs" x="772.91" y="985.7" stroke="#111" stroke-width="0.2">17.0</text>
<text font-size="14.5" font-family='"Liberation Serif", "Times New Roman", Times, serif' text-anchor="middle" fill="#111" textLength="23.62" lengthAdjust="spacingAndGlyphs" x="855.15" y="985.7" stroke="#111" stroke-width="0.2">18.0</text>
<text font-size="14.5" font-family='"Liberation Serif", "Times New Roman", Times, serif' text-anchor="middle" fill="#111" textLength="23.62" lengthAdjust="spacingAndGlyphs" x="937.4" y="985.7" stroke="#111" stroke-width="0.2">19.0</text>
<text font-size="14.5" font-family='"Liberation Serif", "Times New Roman", Times, serif' text-anchor="end" fill="#111" textLength="21" lengthAdjust="spacingAndGlyphs" x="937.5" y="999.9" stroke="#111" stroke-width="0.2">min</text>
<text font-size="13.5" font-family='"Liberation Serif", "Times New Roman", Times, serif' text-anchor="end" fill="#111" textLength="20.3" lengthAdjust="spacingAndGlyphs" x="936.9" y="515.6" stroke="#111" stroke-width="0.2">TIC</text>
<text font-size="14.5" font-family='"Liberation Serif", "Times New Roman", Times, serif' fill="#111" textLength="44.2" lengthAdjust="spacingAndGlyphs" x="34" y="531.4" stroke="#111" stroke-width="0.2">500,000</text>
<path d="M32.7 923.79 L33.36 923.87 L34.02 923.9 L34.67 923.83 L35.33 924.17 L35.99 924.87 L36.65 925.18 L37.31 924.76 L37.96 924.05 L38.62 923.61 L39.28 923.33 L39.94 923.08 L40.6 923.11 L41.25 923.56 L41.91 924.1 L42.57 924.49 L43.23 924.7 L43.89 924.71 L44.54 924.52 L45.2 924.28 L45.86 924.36 L46.52 924.69 L47.18 924.96 L47.83 925.31 L48.49 925.96 L49.15 926.64 L49.81 926.75 L50.47 926.3 L51.12 925.84 L51.78 925.66 L52.44 925.55 L53.1 925.18 L53.75 924.39 L54.41 923.67 L55.07 923.57 L55.73 924.01 L56.39 924.53 L57.04 924.9 L57.7 925.16 L58.36 925.26 L59.02 924.9 L59.68 923.85 L60.33 922.84 L60.99 922.88 L61.65 923.7 L62.31 924.57 L62.97 925.19 L63.62 925.58 L64.28 925.81 L64.94 925.93 L65.6 925.91 L66.26 925.58 L66.91 925.1 L67.57 924.94 L68.23 925.39 L68.89 926.06 L69.55 926.13 L70.2 925.4 L70.86 924.6 L71.52 924.38 L72.18 924.52 L72.84 924.67 L73.49 924.81 L74.15 924.82 L74.81 924.48 L75.47 924.01 L76.13 923.79 L76.78 923.85 L77.44 924.04 L78.1 924.17 L78.76 924.2 L79.42 924.24 L80.07 924.03 L80.73 923.58 L81.39 923.35 L82.05 923.4 L82.71 923.58 L83.36 923.45 L84.02 922.86 L84.68 922.53 L85.34 922.96 L86 923.48 L86.65 923.45 L87.31 923.14 L87.97 923.22 L88.63 923.85 L89.28 924.46 L89.94 924.73 L90.6 924.79 L91.26 924.59 L91.92 924.2 L92.57 924.14 L93.23 924.58 L93.89 925.11 L94.55 925.28 L95.21 925.11 L95.86 925.1 L96.52 925.75 L97.18 926.79 L97.84 927.3 L98.5 926.93 L99.15 925.9 L99.81 924.83 L100.47 924.26 L101.13 924.11 L101.79 923.96 L102.44 923.73 L103.1 923.69 L103.76 923.84 L104.42 923.87 L105.08 923.64 L105.73 923.44 L106.39 923.6 L107.05 924.33 L107.71 925.37 L108.37 925.75 L109.02 925.19 L109.68 924.48 L110.34 924.09 L111 923.82 L111.66 923.65 L112.31 923.56 L112.97 923.21 L113.63 922.59 L114.29 922.22 L114.95 922.53 L115.6 923.35 L116.26 924.13 L116.92 924.76 L117.58 925.3 L118.24 925.47 L118.89 924.95 L119.55 924.05 L120.21 923.49 L120.87 923.51 L121.53 923.59 L122.18 923.23 L122.84 922.58 L123.5 922.36 L124.16 922.93 L124.81 923.98 L125.47 924.83 L126.13 925.16 L126.79 925.3 L127.45 925.41 L128.1 925.59 L128.76 925.82 L129.42 925.48 L130.08 924.55 L130.74 923.9 L131.39 923.75 L132.05 923.52 L132.71 923.27 L133.37 923.6 L134.03 924.36 L134.68 924.63 L135.34 924.15 L136 923.55 L136.66 923.27 L137.32 923.12 L137.97 922.97 L138.63 923.12 L139.29 923.74 L139.95 924.44 L140.61 924.81 L141.26 924.94 L141.92 925.01 L142.58 925.03 L143.24 924.93 L143.9 923.86 L144.55 523.93 L144.56 518.2 M149.2 518.2 L149.82 707.52 L150.48 806.58 L151.13 855.72 L151.79 880.25 L152.45 892.66 L153.11 899.29 L153.77 903.3 L154.42 905.77 L155.08 907.01 L155.74 907.79 L156.4 909.04 L157.06 910.78 L157.71 912.15 L158.37 912.65 L159.03 912.9 L159.69 913.6 L160.34 914.47 L161 914.99 L161.66 915.26 L162.32 915.56 L162.98 916 L163.63 916.38 L164.29 916.36 L164.95 916.26 L165.61 916.63 L166.27 917.38 L166.92 918.02 L167.58 918.49 L168.24 918.89 L168.9 919.1 L169.56 919.07 L170.21 919.08 L170.87 919.46 L171.53 920.07 L172.19 920.45 L172.85 920.53 L173.5 920.5 L174.16 920.64 L174.82 921.17 L175.48 921.89 L176.14 922.3 L176.79 922.09 L177.45 921.73 L178.11 921.82 L178.77 922.2 L179.43 922.1 L180.08 921.4 L180.74 920.95 L181.4 921.2 L182.06 921.76 L182.72 922.21 L183.37 922.51 L184.03 922.73 L184.69 922.8 L185.35 922.69 L186.01 922.09 L186.66 920.64 L187.32 918.32 L187.98 915.46 L188.64 913.49 L189.3 914.1 L189.95 916.66 L190.61 919.1 L191.27 920.67 L191.93 921.69 L192.59 922.4 L193.24 922.98 L193.9 923.45 L194.56 924.05 L195.22 925.06 L195.87 925.71 L196.53 925.39 L197.19 924.88 L197.85 924.94 L198.51 925.18 L199.16 924.96 L199.82 924.25 L200.48 923.63 L201.14 923.53 L201.8 923.67 L202.45 923.67 L203.11 923.76 L203.77 924.32 L204.43 925.08 L205.09 925.45 L205.74 925.21 L206.4 924.79 L207.06 924.57 L207.72 924.56 L208.38 924.88 L209.03 925.42 L209.69 925.71 L210.35 925.58 L211.01 925.11 L211.67 924.6 L212.32 924.44 L212.98 924.81 L213.64 925.64 L214.3 926.31 L214.96 926.21 L215.61 925.5 L216.27 924.87 L216.93 924.57 L217.59 924.38 L218.25 924.18 L218.9 923.9 L219.56 923.72 L220.22 924.04 L220.88 924.62 L221.54 924.99 L222.19 925.33 L222.85 925.65 L223.51 925.82 L224.17 926.15 L224.83 926.46 L225.48 925.83 L226.14 924.5 L226.8 923.85 L227.46 924.02 L228.12 923.8 L228.77 922.84 L229.43 921.83 L230.09 921.21 L230.75 921 L231.41 920.81 L232.06 920.64 L232.72 920.83 L233.38 921.05 L234.04 920.92 L234.69 920.82 L235.35 921.07 L236.01 921.39 L236.67 921.83 L237.33 922.57 L237.98 923.26 L238.64 923.75 L239.3 924.31 L239.96 924.84 L240.62 925.06 L241.27 924.91 L241.93 924.76 L242.59 925.12 L243.25 925.89 L243.91 926.45 L244.56 926.59 L245.22 926.53 L245.88 926.55 L246.54 926.82 L247.2 927.04 L247.85 927.13 L248.51 927.04 L249.17 926.89 L249.83 926.83 L250.49 926.53 L251.14 925.35 L251.8 923.55 L252.46 922.13 L253.12 921.65 L253.78 921.96 L254.43 922.74 L255.09 924.01 L255.75 925.34 L256.41 925.87 L257.07 925.72 L257.72 925.52 L258.38 925.26 L259.04 924.8 L259.7 924.32 L260.36 923.96 L261.01 923.87 L261.67 923.94 L262.33 923.96 L262.99 923.9 L263.65 924.05 L264.3 924.52 L264.96 924.91 L265.62 924.69 L266.28 923.82 L266.94 922.68 L267.59 921.63 L268.25 920.32 L268.91 917.92 L269.57 914.19 L270.22 909.92 L270.88 906.84 L271.54 907.08 L272.2 910.6 L272.86 914.87 L273.51 918.25 L274.17 920.91 L274.83 922.94 L275.49 923.93 L276.15 923.93 L276.8 923.59 L277.46 923.27 L278.12 922.88 L278.78 922.33 L279.44 921.38 L280.09 919.52 L280.75 916.41 L281.41 913.45 L282.07 912.57 L282.73 913.3 L283.38 913.69 L284.04 913.1 L284.7 911.43 L285.36 909.13 L286.02 908.15 L286.67 910.04 L287.33 913.57 L287.99 917.28 L288.65 920.73 L289.31 923.58 L289.96 925.48 L290.62 926.28 L291.28 926.11 L291.94 925.47 L292.6 925.09 L293.25 925.22 L293.91 925.55 L294.57 925.54 L295.23 924.98 L295.89 924.05 L296.54 922.62 L297.2 920.83 L297.86 918.77 L298.52 916.54 L299.18 914.61 L299.83 913.75 L300.49 914.26 L301.15 915.9 L301.81 918.21 L302.47 920.37 L303.12 921.98 L303.78 923.16 L304.44 923.65 L305.1 923.24 L305.75 921.62 L306.41 918.56 L307.07 914.34 L307.73 909.46 L308.39 904.93 L309.04 902.99 L309.7 904.98 L310.36 908.9 L311.02 912.66 L311.68 915.98 L312.33 919.02 L312.99 921.69 L313.65 923.62 L314.31 924.47 L314.97 924.43 L315.62 924.35 L316.28 924.79 L316.94 925.3 L317.6 925.1 L318.26 924.15 L318.91 923.09 L319.57 922.65 L320.23 923 L320.89 923.52 L321.55 923.83 L322.2 924.12 L322.86 924.2 L323.52 923.91 L324.18 923.71 L324.84 924.11 L325.49 924.92 L326.15 925.33 L326.81 924.84 L327.47 923.78 L328.13 922.97 L328.78 922.79 L329.44 922.89 L330.1 922.66 L330.76 921.77 L331.42 919.98 L332.07 917.39 L332.73 914.64 L333.39 912.68 L334.05 912.01 L334.71 912.56 L335.36 913.69 L336.02 914.94 L336.68 916.39 L337.34 917.9 L338 919.5 L338.65 921.28 L339.31 922.56 L339.97 922.87 L340.63 922.74 L341.28 922.66 L341.94 922.81 L342.6 923.31 L343.26 924.05 L343.92 924.41 L344.57 923.7 L345.23 922.3 L345.89 921.44 L346.55 921.63 L347.21 922.4 L347.86 923.1 L348.52 923.46 L349.18 923.58 L349.84 923.69 L350.5 924.02 L351.15 924.73 L351.81 925.42 L352.47 925.73 L353.13 925.87 L353.79 926.17 L354.44 926.51 L355.1 926.84 L355.76 927.19 L356.42 927.29 L357.08 927.02 L357.73 926.72 L358.39 926.82 L359.05 927.24 L359.71 927.45 L360.37 927.12 L361.02 926.55 L361.68 926.08 L362.34 925.8 L363 926.17 L363.66 926.97 L364.31 927.48 L364.97 927.58 L365.63 927.5 L366.29 927.16 L366.95 926.48 L367.6 925.51 L368.26 924.5 L368.92 923.74 L369.58 923.25 L370.24 922.68 L370.89 921.79 L371.55 920.64 L372.21 919.05 L372.87 916.82 L373.53 914.28 L374.18 912.79 L374.84 913.25 L375.5 915.18 L376.16 917.81 L376.81 920.32 L377.47 921.75 L378.13 921.87 L378.79 921.82 L379.45 922.35 L380.1 923.19 L380.76 923.71 L381.42 923.87 L382.08 923.75 L382.74 923.09 L383.39 921.74 L384.05 920.08 L384.71 919.24 L385.37 920.05 L386.03 922.08 L386.68 924.1 L387.34 924.94 L388 924.12 L388.66 921.41 L389.32 915.17 L389.97 901.55 L390.63 876.12 L391.29 838.06 L391.95 795.58 L392.61 765.68 L392.94 760.81 L393.26 765 L393.92 794.02 L394.58 836.59 L395.24 875.61 L395.9 902.22 L396.55 916.16 L397.21 921.56 L397.87 922.9 L398.53 923.04 L399.19 922.99 L399.84 923.06 L400.5 923.25 L401.16 923.27 L401.82 923 L402.48 922.29 L403.13 920.78 L403.79 918.06 L404.45 913.3 L405.11 906.1 L405.77 897.77 L406.42 891.09 L406.92 889.5 L407.08 889.73 L407.74 894.7 L408.4 902.5 L409.06 909.96 L409.71 915.75 L410.37 919.85 L411.03 922.46 L411.69 923.61 L412.35 923.79 L413 923.83 L413.66 924.05 L414.32 924.28 L414.98 924.26 L415.63 924.07 L416.29 924.02 L416.95 924.22 L417.61 924.53 L418.27 924.96 L418.92 925.51 L419.58 925.82 L420.24 925.68 L420.9 925.36 L421.56 924.9 L422.21 924.23 L422.87 923.92 L423.53 924.13 L424.19 924.31 L424.85 924.2 L425.5 924.01 L426.16 923.69 L426.82 923.28 L427.48 923.18 L428.14 923.43 L428.79 923.63 L429.45 923.86 L430.11 924.42 L430.77 925.29 L431.43 926.12 L432.08 926.45 L432.74 926.14 L433.4 925.44 L434.06 924.9 L434.72 924.66 L435.37 924.64 L436.03 924.8 L436.69 925.08 L437.35 925.25 L438.01 925.19 L438.66 924.91 L439.32 924.49 L439.98 924.36 L440.64 924.75 L441.3 924.92 L441.95 924.27 L442.61 923.02 L443.27 921.3 L443.93 918.74 L444.59 915.2 L445.24 911.19 L445.9 907.78 L446.56 906.84 L447.22 909.01 L447.88 912.83 L448.53 917.2 L449.19 921.23 L449.85 923.87 L450.51 924.75 L451.16 924.58 L451.82 924.35 L452.48 924.39 L453.14 924.11 L453.8 922.79 L454.45 920.5 L455.11 917.7 L455.77 914.47 L456.43 911.06 L457.09 909.18 L457.74 910.38 L458.4 913.62 L459.06 917.18 L459.72 920.09 L460.38 922.1 L461.03 923.48 L461.69 924.31 L462.35 924.52 L463.01 924.62 L463.67 924.83 L464.32 924.92 L464.98 924.93 L465.64 924.81 L466.3 924.4 L466.96 923.98 L467.61 923.92 L468.27 924.25 L468.93 924.71 L469.59 924.94 L470.25 924.74 L470.9 924.47 L471.56 924.39 L472.22 924.48 L472.88 924.65 L473.54 924.68 L474.19 924.52 L474.85 924.43 L475.51 924.45 L476.17 924.28 L476.83 923.94 L477.48 923.95 L478.14 924.07 L478.8 923.67 L479.46 922.92 L480.12 922.58 L480.77 923.01 L481.43 923.81 L482.09 924.07 L482.75 923.87 L483.41 923.87 L484.06 924.05 L484.72 923.31 L485.38 921.24 L486.04 918.87 L486.69 917.39 L487.35 917.19 L488.01 918.35 L488.67 920.29 L489.33 921.97 L489.98 923.01 L490.64 923.88 L491.3 924.72 L491.96 925.22 L492.62 925.48 L493.27 925.52 L493.93 925.31 L494.59 925.38 L495.25 925.59 L495.91 925.39 L496.56 924.92 L497.22 924.6 L497.88 924.52 L498.54 924.37 L499.2 923.94 L499.85 923.28 L500.51 922.85 L501.17 923.04 L501.83 923.62 L502.49 923.77 L503.14 922.65 L503.8 919.76 L504.46 914.28 L505.12 905.67 L505.78 894.57 L506.43 881.98 L507.09 869.5 L507.75 860.83 L508.08 859.58 L508.41 860.33 L509.07 868.42 L509.72 880.58 L510.38 893.06 L511.04 904.04 L511.7 912.26 L512.36 917.48 L513.01 920.42 L513.67 921.77 L514.33 922.29 L514.99 922.79 L515.65 923.04 L516.3 922.72 L516.96 922.59 L517.62 923.01 L518.28 923.08 L518.94 922.09 L519.59 920.12 L520.25 917.52 L520.91 914.63 L521.57 912.36 L522.22 912.09 L522.88 913.74 L523.54 915.91 L524.2 918.09 L524.86 920.36 L525.51 922.51 L526.17 923.98 L526.83 924.43 L527.49 924.06 L528.15 923.44 L528.8 922.94 L529.46 922.12 L530.12 920.63 L530.78 918.9 L531.44 917.33 L532.09 916.11 L532.75 915.77 L533.41 916.7 L534.07 918.3 L534.73 919.58 L535.38 919.92 L536.04 919.7 L536.7 919.18 L537.36 918.42 L538.02 917.49 L538.67 916.67 L539.33 915.92 L539.99 915.24 L540.65 915.21 L541.31 916.25 L541.96 917.78 L542.62 918.96 L543.28 919.92 L543.94 920.85 L544.6 921.78 L545.25 922.61 L545.91 923.17 L546.57 923.34 L547.23 923.27 L547.89 923.55 L548.54 924.24 L549.2 924.76 L549.86 924.97 L550.52 925.08 L551.18 925.21 L551.83 925.16 L552.49 924.76 L553.15 924.47 L553.81 924.63 L554.47 924.73 L555.12 924.43 L555.78 924.09 L556.44 924.05 L557.1 924.42 L557.75 924.92 L558.41 924.94 L559.07 924.58 L559.73 924.63 L560.39 925.33 L561.04 925.86 L561.7 925.75 L562.36 925.24 L563.02 924.62 L563.68 924.25 L564.33 924.35 L564.99 924.53 L565.65 924.56 L566.31 924.75 L566.97 925.22 L567.62 925.45 L568.28 925.02 L568.94 924.31 L569.6 923.95 L570.26 924.21 L570.91 924.58 L571.57 924.62 L572.23 924.86 L572.89 925.48 L573.55 925.94 L574.2 926.02 L574.86 925.71 L575.52 925.08 L576.18 924.6 L576.84 924.55 L577.49 924.89 L578.15 925.27 L578.81 925.34 L579.47 924.93 L580.13 924.41 L580.78 924.15 L581.44 923.93 L582.1 923.79 L582.76 924 L583.42 924.28 L584.07 924.28 L584.73 924.28 L585.39 924.75 L586.05 925.78 L586.71 927.18 L587.36 928.41 L588.02 928.72 L588.68 928.2 L589.34 927.44 L590 926.64 L590.65 925.93 L591.31 925.46 L591.97 925.11 L592.63 925.09 L593.29 925.94 L593.94 926.96 L594.6 927.42 L595.26 927.28 L595.92 926.69 L596.57 925.97 L597.23 925.75 L597.89 926.41 L598.55 927.22 L599.21 927.14 L599.86 926.27 L600.52 925.43 L601.18 924.83 L601.84 924.2 L602.5 923.58 L603.15 923.57 L603.81 923.96 L604.47 923.96 L605.13 923.58 L605.79 923.37 L606.44 923.77 L607.1 924.59 L607.76 925.11 L608.42 924.96 L609.08 924.6 L609.73 924.46 L610.39 924.46 L611.05 924.49 L611.71 924.63 L612.37 924.84 L613.02 924.9 L613.68 924.48 L614.34 923.8 L615 923.54 L615.66 923.94 L616.31 924.63 L616.97 925.26 L617.63 925.73 L618.29 926.06 L618.95 926.18 L619.6 925.99 L620.26 925.62 L620.92 925.12 L621.58 924.54 L622.24 924.18 L622.89 924.24 L623.55 924.57 L624.21 924.88 L624.87 924.94 L625.53 924.84 L626.18 924.98 L626.84 925.22 L627.5 925.11 L628.16 924.65 L628.82 924.45 L629.47 924.89 L630.13 925.25 L630.79 925.11 L631.45 924.95 L632.1 925.1 L632.76 925.5 L633.42 925.84 L634.08 925.8 L634.74 925.52 L635.39 925.32 L636.05 924.93 L636.71 923.95 L637.37 922.87 L638.03 922.61 L638.68 923.21 L639.34 923.75 L640 923.8 L640.66 923.85 L641.32 924.06 L641.97 924.29 L642.63 924.55 L643.29 924.66 L643.95 924.4 L644.61 924.16 L645.26 924.41 L645.92 924.8 L646.58 924.52 L647.24 923.52 L647.9 922.81 L648.55 923.22 L649.21 924.43 L649.87 925.46 L650.53 925.84 L651.19 925.89 L651.84 925.93 L652.5 925.66 L653.16 924.61 L653.82 922.93 L654.48 921.17 L655.13 919.21 L655.79 916.81 L656.45 914.38 L657.11 912.57 L657.77 911.95 L658.42 913 L659.08 915.35 L659.74 917.65 L660.4 919.37 L661.06 920.88 L661.71 922.48 L662.37 924.12 L663.03 925.4 L663.69 925.82 L664.35 925.57 L665 925.39 L665.66 925.38 L666.32 925.14 L666.98 924.69 L667.63 924.24 L668.29 923.85 L668.95 923.42 L669.61 922.73 L670.27 921.88 L670.92 921.37 L671.58 921.28 L672.24 921.01 L672.9 920.42 L673.56 920.16 L674.21 920.81 L674.87 922.24 L675.53 923.44 L676.19 923.86 L676.85 923.73 L677.5 923.59 L678.16 923.81 L678.82 924.34 L679.48 924.8 L680.14 925.07 L680.79 925.33 L681.45 925.49 L682.11 925.25 L682.77 924.64 L683.43 924.2 L684.08 924.41 L684.74 925.36 L685.4 926.45 L686.06 926.76 L686.72 926.26 L687.37 925.85 L688.03 925.71 L688.69 925.35 L689.35 924.78 L690.01 924.54 L690.66 924.69 L691.32 924.97 L691.98 925.49 L692.64 926.15 L693.3 926.57 L693.95 926.63 L694.61 926.25 L695.27 925.66 L695.93 925.38 L696.59 925.5 L697.24 925.82 L697.9 925.96 L698.56 925.56 L699.22 925.04 L699.88 925.02 L700.53 925.59 L701.19 926.38 L701.85 926.5 L702.51 925.31 L703.16 923.73 L703.82 923.21 L704.48 923.72 L705.14 924.3 L705.8 924.41 L706.45 924.1 L707.11 923.7 L707.77 923.45 L708.43 923.44 L709.09 923.63 L709.74 923.81 L710.4 924.12 L711.06 924.55 L711.72 924.74 L712.38 924.63 L713.03 924.57 L713.69 924.62 L714.35 924.55 L715.01 924.7 L715.67 925.22 L716.32 925.48 L716.98 925.21 L717.64 924.93 L718.3 925.19 L718.96 925.94 L719.61 926.73 L720.27 927 L720.93 926.58 L721.59 925.92 L722.25 925.7 L722.9 925.81 L723.56 925.63 L724.22 925.02 L724.88 924.64 L725.54 924.62 L726.19 924.59 L726.85 924.63 L727.51 924.83 L728.17 924.97 L728.83 924.96 L729.48 924.88 L730.14 924.9 L730.8 924.97 L731.46 924.85 L732.12 924.64 L732.77 924.69 L733.43 924.86 L734.09 924.74 L734.75 924.43 L735.41 924.33 L736.06 924.41 L736.72 924.52 L737.38 924.9 L738.04 925.44 L738.69 925.71 L739.35 925.75 L740.01 925.79 L740.67 925.83 L741.33 925.49 L741.98 924.71 L742.64 924.4 L743.3 925.14 L743.96 925.99 L744.62 926.14 L745.27 925.72 L745.93 925.11 L746.59 924.59 L747.25 924.44 L747.91 924.69 L748.56 925.12 L749.22 925.69 L749.88 926.29 L750.54 926.45 L751.2 925.99 L751.85 925.2 L752.51 924.29 L753.17 923.53 L753.83 923.08 L754.49 922.65 L755.14 921.84 L755.8 920.49 L756.46 918.8 L757.12 917.08 L757.78 915.95 L758.43 915.78 L759.09 916.48 L759.75 917.69 L760.41 919.21 L761.07 920.85 L761.72 922.41 L762.38 923.75 L763.04 924.31 L763.7 923.88 L764.36 923.45 L765.01 923.96 L765.67 925.12 L766.33 925.92 L766.99 925.88 L767.65 925.48 L768.3 925.4 L768.96 925.59 L769.62 925.4 L770.28 924.73 L770.94 924.35 L771.59 924.56 L772.25 924.81 L772.91 924.41 L773.57 923.51 L774.23 922.99 L774.88 923.36 L775.54 924.13 L776.2 924.71 L776.86 924.97 L777.51 925.03 L778.17 924.83 L778.83 924.19 L779.49 923.62 L780.15 923.95 L780.8 924.77 L781.46 925.13 L782.12 925.05 L782.78 925 L783.44 925 L784.09 924.83 L784.75 924.34 L785.41 923.61 L786.07 922.72 L786.73 921.65 L787.38 920.37 L788.04 918.82 L788.7 916.84 L789.36 914.33 L790.02 911.61 L790.67 909.76 L791.33 909.81 L791.99 911.43 L792.65 913.63 L793.31 915.89 L793.96 917.8 L794.62 918.87 L795.28 919 L795.94 918.76 L796.6 918.87 L797.25 919.25 L797.91 919.53 L798.57 919.98 L799.23 920.83 L799.89 921.79 L800.54 922.58 L801.2 923.07 L801.86 923.15 L802.52 922.88 L803.18 922.63 L803.83 922.65 L804.49 922.79 L805.15 922.76 L805.81 922.26 L806.47 921.24 L807.12 920.18 L807.78 919.87 L808.44 920.64 L809.1 921.89 L809.76 922.87 L810.41 923.47 L811.07 923.85 L811.73 923.89 L812.39 923.47 L813.04 922.8 L813.7 922.11 L814.36 921.33 L815.02 920.41 L815.68 919.45 L816.33 918.54 L816.99 917.99 L817.65 918.17 L818.31 919.22 L818.97 920.7 L819.62 922.16 L820.28 923.53 L820.94 924.66 L821.6 925.29 L822.26 925.66 L822.91 926.05 L823.57 926.12 L824.23 925.76 L824.89 925.63 L825.55 925.88 L826.2 925.86 L826.86 925.15 L827.52 923.74 L828.18 922.16 L828.84 921.17 L829.49 921.03 L830.15 921.38 L830.81 921.83 L831.47 922.23 L832.13 922.35 L832.78 922.43 L833.44 923.08 L834.1 923.88 L834.76 924.22 L835.42 924.46 L836.07 925.02 L836.73 925.4 L837.39 925.06 L838.05 924.47 L838.71 924.36 L839.36 924.82 L840.02 925.42 L840.68 925.39 L841.34 924.56 L842 923.78 L842.65 923.76 L843.31 924.21 L843.97 924.44 L844.63 924.2 L845.29 923.7 L845.94 923.44 L846.6 923.7 L847.26 924.06 L847.92 923.79 L848.57 922.62 L849.23 920.78 L849.89 918.44 L850.55 915.98 L851.21 914.21 L851.86 913.65 L852.52 914.37 L853.18 916.08 L853.84 918.32 L854.5 920.37 L855.15 921.79 L855.81 923.08 L856.47 923.99 L857.13 924.5 L857.79 924.67 L858.44 924.67 L859.1 924.69 L859.76 924.82 L860.42 924.91 L861.08 924.79 L861.73 924.33 L862.39 923.21 L863.05 921.21 L863.71 918.81 L864.37 916.79 L865.02 915.36 L865.68 914.64 L866.34 915.43 L867 917.79 L867.66 920.53 L868.31 922.53 L868.97 923.7 L869.63 924.45 L870.29 925.04 L870.95 925.53 L871.6 925.73 L872.26 925.7 L872.92 925.88 L873.58 926.03 L874.24 925.86 L874.89 925.48 L875.55 925.09 L876.21 924.81 L876.87 924.66 L877.53 924.5 L878.18 923.61 L878.84 921.43 L879.5 917.46 L880.16 910.94 L880.82 901.08 L881.47 888 L882.13 872.83 L882.79 857.8 L883.45 846.79 L883.94 844.21 L884.1 843.7 L884.76 848.77 L885.42 860.64 L886.08 874.86 L886.74 888.54 L887.39 899.58 L888.05 907.31 L888.71 912.77 L889.37 916.9 L890.03 919.54 L890.68 920.73 L891.34 921.31 L892 921.85 L892.66 922.13 L893.32 921.94 L893.97 921.71 L894.63 921.92 L895.29 922.69 L895.95 923.38 L896.61 923.34 L897.26 922.72 L897.92 921.89 L898.58 920.53 L899.24 918.05 L899.9 914.22 L900.55 909.46 L901.21 904.92 L901.87 902.06 L902.03 901.96 L902.53 902.32 L903.19 905.77 L903.84 911.08 L904.5 916.28 L905.16 919.73 L905.82 921.33 L906.48 922.07 L907.13 922.87 L907.79 923.81 L908.45 924.16 L909.11 923.66 L909.77 923.05 L910.42 923.01 L911.08 923.45 L911.74 923.97 L912.4 924.36 L913.06 924.49 L913.71 923.55 L914.37 921.64 L915.03 918.99 L915.69 916.23 L916.35 914.03 L917 913.07 L917.66 913.87 L918.32 916.13 L918.98 918.96 L919.63 921.42 L920.29 922.97 L920.95 923.7 L921.61 923.99 L922.27 924.17 L922.92 924.52 L923.58 924.66 L924.24 924.19 L924.9 923.52 L925.56 922.94 L926.21 921.7 L926.87 918.2 L927.53 910.76 L928.19 898.49 L928.85 881.52 L929.5 860.62 L930.16 838.41 L930.82 819.9 L931.48 810.55 L931.64 810.13 L932.14 813.76 L932.79 828.46 L933.45 849.83 L934.11 872.33 L934.77 891.8 L935.43 906.1 L936.08 915.21 L936.74 920.67 L937.4 923.89" fill="none" stroke="#3a3a3a" stroke-width="1" stroke-linejoin="round"/>
<path d="M197.3 588.8 L224 604.7 M225.85 604.7 L227.75 635.5 M222.15 604.7 L224.05 635.5 M225.9 635.5 L197.3 650.5 M197.3 652.35 L172.4 636.75 M197.3 648.65 L172.4 633.05 M172.4 634.9 L172.4 604.7 M172.4 606.55 L197.3 590.65 M172.4 602.85 L197.3 586.95 M197.3 588.8 L197.3 559.8 M197.3 561.7 L218.86 550.48 M197.3 557.9 L218.86 546.68" fill="none" stroke="#333" stroke-width="1.2" stroke-linecap="round"/>
<text font-size="14.5" font-family='"Liberation Sans", Arial, Helvetica, sans-serif' text-anchor="middle" fill="#333" x="224.3" y="551.2">O</text>
<path d="M335.2 784.2 L362.9 799.6 M364.65 799.6 L364.65 831.4 M361.15 799.6 L361.15 831.4 M362.9 831.4 L335.2 846.9 M335.2 848.65 L306.7 831.85 M335.2 845.15 L306.7 828.35 M306.7 830.1 L306.7 799.9 M306.7 801.65 L335.2 785.95 M306.7 798.15 L335.2 782.45 M306.7 799.9 L279.8 784.5 M279.8 784.5 L267.4 791.5" fill="none" stroke="#333" stroke-width="1.2" stroke-linecap="round"/>
<text font-size="18" font-family='"Liberation Serif", "Times New Roman", Times, serif' fill="#333" textLength="20.9" lengthAdjust="spacingAndGlyphs" x="245.2" y="804.7">HO</text>
<path d="M662.5 793.8 L690.5 809.8 M692.5 809.8 L692.5 840.7 M688.5 809.8 L688.5 840.7 M690.5 840.7 L662.5 858.1 M662.5 860.1 L634.6 841.1 M662.5 856.1 L634.6 837.1 M634.6 839.1 L634.6 810.3 M634.6 812.3 L662.5 795.8 M634.6 808.3 L662.5 791.8 M634.6 810.3 L607.2 794.1 M607.2 794.1 L582.89 805.9 M569.49 805.36 L549.3 794.9 M549.3 794.9 L535.4 802 M551.75 794.9 L551.75 771.1 M546.85 794.9 L546.85 771.1" fill="none" stroke="#333" stroke-width="1.2" stroke-linecap="round"/>
<text font-size="15" font-family='"Liberation Sans", Arial, Helvetica, sans-serif' text-anchor="middle" fill="#333" x="576.5" y="814.4">O</text>
<text font-size="15" font-family='"Liberation Sans", Arial, Helvetica, sans-serif' text-anchor="middle" fill="#333" x="549" y="764.8">O</text>
<path d="M862.2 728.4 L888.1 743.2 M889.9 743.2 L889.9 773.6 M886.3 743.2 L886.3 773.6 M888.1 773.6 L862.2 789.2 M862.2 791 L836.3 775.2 M862.2 787.4 L836.3 771.6 M836.3 773.4 L836.3 742.7 M836.3 744.5 L862.2 730.2 M836.3 740.9 L862.2 726.6 M862.2 728.4 L862.2 697.4 M862.2 697.4 L880.46 685.35 M887.8 673.4 L887.8 652.2 M887.8 652.2 L914.1 637.9 M914.1 637.9 L914.1 607.4 M887.8 654.05 L867.72 642.53 M887.8 650.35 L867.72 638.83" fill="none" stroke="#5a5a5a" stroke-width="1.15" stroke-linecap="round"/>
<text font-size="14.5" font-family='"Liberation Sans", Arial, Helvetica, sans-serif' text-anchor="middle" fill="#5a5a5a" x="887.8" y="685.7">O</text>
<text font-size="14.5" font-family='"Liberation Sans", Arial, Helvetica, sans-serif' text-anchor="middle" fill="#5a5a5a" x="862" y="642.6">O</text>
<text font-size="21" font-family='"Liberation Serif", "Times New Roman", Times, serif' fill="#222" transform="translate(172.5,528.7) rotate(-90)">1</text>
<text font-size="21" font-family='"Liberation Serif", "Times New Roman", Times, serif' fill="#222" transform="translate(341.5,910.3) rotate(-90)">2</text>
<text font-size="21" font-family='"Liberation Serif", "Times New Roman", Times, serif' fill="#222" transform="translate(664.7,911) rotate(-90)">3</text>
<text font-size="21" font-family='"Liberation Serif", "Times New Roman", Times, serif' fill="#222" transform="translate(891.2,843.3) rotate(-90)">4</text>
<text font-size="29" font-family='"Liberation Sans", Arial, Helvetica, sans-serif' font-weight="bold" fill="#f00000" x="171.12" y="557.91">*</text>
<text font-size="29" font-family='"Liberation Sans", Arial, Helvetica, sans-serif' font-weight="bold" fill="#f00000" x="327.22" y="891.61">*</text>
<text font-size="29" font-family='"Liberation Sans", Arial, Helvetica, sans-serif' font-weight="bold" fill="#f00000" x="650.82" y="895.91">*</text>
<text font-size="29" font-family='"Liberation Sans", Arial, Helvetica, sans-serif' font-weight="bold" fill="#f00000" x="877.72" y="834.11">*</text>
<text font-size="27.3" font-family='"Liberation Sans", Arial, Helvetica, sans-serif' font-weight="bold" textLength="222.33" lengthAdjust="spacingAndGlyphs" x="639.6" y="607.8">PmBEAT36-RNAi</text>
<rect x="969.8" y="518.2" width="907" height="448.9" fill="none" stroke="#444" stroke-width="1.55"/>
<path d="M969.8 967.1 v7.6 M978.05 967.1 v3.1 M986.29 967.1 v3.1 M994.54 967.1 v3.1 M1002.78 967.1 v3.1 M1011.03 967.1 v5.2 M1019.27 967.1 v3.1 M1027.52 967.1 v3.1 M1035.76 967.1 v3.1 M1044.01 967.1 v3.1 M1052.25 967.1 v7.6 M1060.5 967.1 v3.1 M1068.75 967.1 v3.1 M1076.99 967.1 v3.1 M1085.24 967.1 v3.1 M1093.48 967.1 v5.2 M1101.73 967.1 v3.1 M1109.97 967.1 v3.1 M1118.22 967.1 v3.1 M1126.46 967.1 v3.1 M1134.71 967.1 v7.6 M1142.95 967.1 v3.1 M1151.2 967.1 v3.1 M1159.45 967.1 v3.1 M1167.69 967.1 v3.1 M1175.94 967.1 v5.2 M1184.18 967.1 v3.1 M1192.43 967.1 v3.1 M1200.67 967.1 v3.1 M1208.92 967.1 v3.1 M1217.16 967.1 v7.6 M1225.41 967.1 v3.1 M1233.65 967.1 v3.1 M1241.9 967.1 v3.1 M1250.15 967.1 v3.1 M1258.39 967.1 v5.2 M1266.64 967.1 v3.1 M1274.88 967.1 v3.1 M1283.13 967.1 v3.1 M1291.37 967.1 v3.1 M1299.62 967.1 v7.6 M1307.86 967.1 v3.1 M1316.11 967.1 v3.1 M1324.35 967.1 v3.1 M1332.6 967.1 v3.1 M1340.85 967.1 v5.2 M1349.09 967.1 v3.1 M1357.34 967.1 v3.1 M1365.58 967.1 v3.1 M1373.83 967.1 v3.1 M1382.07 967.1 v7.6 M1390.32 967.1 v3.1 M1398.56 967.1 v3.1 M1406.81 967.1 v3.1 M1415.05 967.1 v3.1 M1423.3 967.1 v5.2 M1431.55 967.1 v3.1 M1439.79 967.1 v3.1 M1448.04 967.1 v3.1 M1456.28 967.1 v3.1 M1464.53 967.1 v7.6 M1472.77 967.1 v3.1 M1481.02 967.1 v3.1 M1489.26 967.1 v3.1 M1497.51 967.1 v3.1 M1505.75 967.1 v5.2 M1514 967.1 v3.1 M1522.25 967.1 v3.1 M1530.49 967.1 v3.1 M1538.74 967.1 v3.1 M1546.98 967.1 v7.6 M1555.23 967.1 v3.1 M1563.47 967.1 v3.1 M1571.72 967.1 v3.1 M1579.96 967.1 v3.1 M1588.21 967.1 v5.2 M1596.45 967.1 v3.1 M1604.7 967.1 v3.1 M1612.95 967.1 v3.1 M1621.19 967.1 v3.1 M1629.44 967.1 v7.6 M1637.68 967.1 v3.1 M1645.93 967.1 v3.1 M1654.17 967.1 v3.1 M1662.42 967.1 v3.1 M1670.66 967.1 v5.2 M1678.91 967.1 v3.1 M1687.15 967.1 v3.1 M1695.4 967.1 v3.1 M1703.65 967.1 v3.1 M1711.89 967.1 v7.6 M1720.14 967.1 v3.1 M1728.38 967.1 v3.1 M1736.63 967.1 v3.1 M1744.87 967.1 v3.1 M1753.12 967.1 v5.2 M1761.36 967.1 v3.1 M1769.61 967.1 v3.1 M1777.85 967.1 v3.1 M1786.1 967.1 v3.1 M1794.35 967.1 v7.6 M1802.59 967.1 v3.1 M1810.84 967.1 v3.1 M1819.08 967.1 v3.1 M1827.33 967.1 v3.1 M1835.57 967.1 v5.2 M1843.82 967.1 v3.1 M1852.06 967.1 v3.1 M1860.31 967.1 v3.1 M1868.55 967.1 v3.1 M1876.8 967.1 v7.6" fill="none" stroke="#333" stroke-width="1.15"/>
<text font-size="14.5" font-family='"Liberation Serif", "Times New Roman", Times, serif' text-anchor="middle" fill="#111" textLength="16.88" lengthAdjust="spacingAndGlyphs" x="1052.25" y="986.8" stroke="#111" stroke-width="0.2">9.0</text>
<text font-size="14.5" font-family='"Liberation Serif", "Times New Roman", Times, serif' text-anchor="middle" fill="#111" textLength="23.62" lengthAdjust="spacingAndGlyphs" x="1134.71" y="986.8" stroke="#111" stroke-width="0.2">10.0</text>
<text font-size="14.5" font-family='"Liberation Serif", "Times New Roman", Times, serif' text-anchor="middle" fill="#111" textLength="23.62" lengthAdjust="spacingAndGlyphs" x="1217.16" y="986.8" stroke="#111" stroke-width="0.2">11.0</text>
<text font-size="14.5" font-family='"Liberation Serif", "Times New Roman", Times, serif' text-anchor="middle" fill="#111" textLength="23.62" lengthAdjust="spacingAndGlyphs" x="1299.62" y="986.8" stroke="#111" stroke-width="0.2">12.0</text>
<text font-size="14.5" font-family='"Liberation Serif", "Times New Roman", Times, serif' text-anchor="middle" fill="#111" textLength="23.62" lengthAdjust="spacingAndGlyphs" x="1382.07" y="986.8" stroke="#111" stroke-width="0.2">13.0</text>
<text font-size="14.5" font-family='"Liberation Serif", "Times New Roman", Times, serif' text-anchor="middle" fill="#111" textLength="23.62" lengthAdjust="spacingAndGlyphs" x="1464.53" y="986.8" stroke="#111" stroke-width="0.2">14.0</text>
<text font-size="14.5" font-family='"Liberation Serif", "Times New Roman", Times, serif' text-anchor="middle" fill="#111" textLength="23.62" lengthAdjust="spacingAndGlyphs" x="1546.98" y="986.8" stroke="#111" stroke-width="0.2">15.0</text>
<text font-size="14.5" font-family='"Liberation Serif", "Times New Roman", Times, serif' text-anchor="middle" fill="#111" textLength="23.62" lengthAdjust="spacingAndGlyphs" x="1629.44" y="986.8" stroke="#111" stroke-width="0.2">16.0</text>
<text font-size="14.5" font-family='"Liberation Serif", "Times New Roman", Times, serif' text-anchor="middle" fill="#111" textLength="23.62" lengthAdjust="spacingAndGlyphs" x="1711.89" y="986.8" stroke="#111" stroke-width="0.2">17.0</text>
<text font-size="14.5" font-family='"Liberation Serif", "Times New Roman", Times, serif' text-anchor="middle" fill="#111" textLength="23.62" lengthAdjust="spacingAndGlyphs" x="1794.35" y="986.8" stroke="#111" stroke-width="0.2">18.0</text>
<text font-size="14.5" font-family='"Liberation Serif", "Times New Roman", Times, serif' text-anchor="middle" fill="#111" textLength="23.62" lengthAdjust="spacingAndGlyphs" x="1876.8" y="986.8" stroke="#111" stroke-width="0.2">19.0</text>
<text font-size="14.5" font-family='"Liberation Serif", "Times New Roman", Times, serif' text-anchor="end" fill="#111" textLength="21" lengthAdjust="spacingAndGlyphs" x="1876.9" y="1001" stroke="#111" stroke-width="0.2">min</text>
<text font-size="13.5" font-family='"Liberation Serif", "Times New Roman", Times, serif' text-anchor="end" fill="#111" textLength="20.3" lengthAdjust="spacingAndGlyphs" x="1876.3" y="515.6" stroke="#111" stroke-width="0.2">TIC</text>
<text font-size="14.5" font-family='"Liberation Serif", "Times New Roman", Times, serif' fill="#111" textLength="44.2" lengthAdjust="spacingAndGlyphs" x="971.1" y="531.4" stroke="#111" stroke-width="0.2">500,000</text>
<path d="M969.8 929.05 L970.46 928.27 L971.12 928.15 L971.78 928.65 L972.44 929.43 L973.1 930.12 L973.76 930.45 L974.42 930.12 L975.08 929.14 L975.74 928.19 L976.4 927.99 L977.06 928.83 L977.72 930.17 L978.38 930.75 L979.03 930.37 L979.69 930.06 L980.35 930.09 L981.01 929.7 L981.67 928.78 L982.33 928.23 L982.99 928.46 L983.65 928.79 L984.31 928.79 L984.97 928.91 L985.63 929.3 L986.29 929.57 L986.95 929.64 L987.61 929.5 L988.27 929.44 L988.93 929.77 L989.59 930.16 L990.25 930.3 L990.91 930.32 L991.57 930.48 L992.23 930.72 L992.89 930.71 L993.55 930.42 L994.21 929.95 L994.87 929.26 L995.53 928.47 L996.19 927.97 L996.85 928.07 L997.5 928.56 L998.16 928.81 L998.82 928.46 L999.48 927.91 L1000.14 927.82 L1000.8 928.55 L1001.46 929.8 L1002.12 930.66 L1002.78 930.65 L1003.44 930.18 L1004.1 929.96 L1004.76 930.01 L1005.42 929.79 L1006.08 929.59 L1006.74 930.01 L1007.4 930.5 L1008.06 930.3 L1008.72 929.6 L1009.38 929.13 L1010.04 928.97 L1010.7 928.77 L1011.36 928.55 L1012.02 928.49 L1012.68 928.58 L1013.34 928.81 L1014 929.07 L1014.66 929.3 L1015.31 929.51 L1015.97 929.93 L1016.63 930.23 L1017.29 929.93 L1017.95 929.4 L1018.61 929.25 L1019.27 929.5 L1019.93 929.74 L1020.59 929.66 L1021.25 929.19 L1021.91 928.7 L1022.57 928.5 L1023.23 928.42 L1023.89 928.02 L1024.55 927.27 L1025.21 926.92 L1025.87 927.77 L1026.53 929.37 L1027.19 930.44 L1027.85 930.37 L1028.51 929.53 L1029.17 928.87 L1029.83 928.99 L1030.49 929.64 L1031.15 930.47 L1031.81 931.15 L1032.47 931.29 L1033.13 930.99 L1033.78 930.6 L1034.44 930.3 L1035.1 930.17 L1035.76 930.13 L1036.42 929.93 L1037.08 929.5 L1037.74 929.48 L1038.4 930.06 L1039.06 930.75 L1039.72 931.19 L1040.38 931.08 L1041.04 930.4 L1041.7 929.62 L1042.36 929.2 L1043.02 929.6 L1043.68 930.53 L1044.34 931.05 L1045 931.03 L1045.66 931.08 L1046.32 931.2 L1046.98 931.2 L1047.64 931.22 L1048.3 931.2 L1048.96 930.91 L1049.62 930.71 L1050.28 930.88 L1050.94 930.89 L1051.59 930.46 L1052.25 929.97 L1052.91 929.59 L1053.57 929.47 L1054.23 929.51 L1054.89 929.56 L1055.55 929.57 L1056.21 929.92 L1056.87 930.46 L1057.53 930.42 L1058.19 929.76 L1058.85 929.14 L1059.51 928.81 L1060.17 928.74 L1060.83 928.77 L1061.49 928.52 L1062.15 928.03 L1062.81 927.71 L1063.47 927.74 L1064.13 928.13 L1064.79 928.84 L1065.45 929.46 L1066.11 929.58 L1066.77 929.05 L1067.43 928.32 L1068.09 928.08 L1068.75 928.29 L1069.41 928.75 L1070.06 929.33 L1070.72 929.79 L1071.38 929.84 L1072.04 929.78 L1072.7 929.91 L1073.36 930.09 L1074.02 930.35 L1074.68 930.7 L1075.34 930.75 L1076 930.31 L1076.66 929.83 L1077.32 929.82 L1077.98 930.05 L1078.64 930.13 L1079.3 930.4 L1079.96 930.87 L1080.62 930.73 L1081.28 929.18 L1081.94 528.94 L1081.95 518.2 M1086.58 518.2 L1087.22 712.96 L1087.87 811.51 L1088.53 860.04 L1089.19 884.28 L1089.85 896.93 L1090.51 903.93 L1091.17 907.91 L1091.83 910.39 L1092.49 912.28 L1093.15 913.79 L1093.81 914.95 L1094.47 915.89 L1095.13 916.59 L1095.79 917.05 L1096.45 917.62 L1097.11 918.45 L1097.77 919.15 L1098.43 919.58 L1099.09 920 L1099.75 920.5 L1100.41 920.86 L1101.07 921.18 L1101.73 921.75 L1102.39 922.5 L1103.05 922.79 L1103.71 922.8 L1104.37 923.31 L1105.03 924.44 L1105.69 925.39 L1106.34 925.64 L1107 925.54 L1107.66 925.6 L1108.32 925.88 L1108.98 925.97 L1109.64 925.54 L1110.3 925.12 L1110.96 925.33 L1111.62 926.03 L1112.28 926.86 L1112.94 927.55 L1113.6 927.83 L1114.26 927.83 L1114.92 927.82 L1115.58 927.63 L1116.24 927.09 L1116.9 926.67 L1117.56 926.74 L1118.22 927.16 L1118.88 927.89 L1119.54 928.7 L1120.2 928.89 L1120.86 928.71 L1121.52 928.54 L1122.18 927.87 L1122.84 926.68 L1123.5 925.29 L1124.15 923.63 L1124.81 921.85 L1125.47 920.26 L1126.13 919.09 L1126.79 919.1 L1127.45 920.38 L1128.11 922.31 L1128.77 924.37 L1129.43 925.92 L1130.09 926.69 L1130.75 926.95 L1131.41 926.99 L1132.07 926.97 L1132.73 927.09 L1133.39 927.78 L1134.05 929.18 L1134.71 930.51 L1135.37 930.93 L1136.03 930.63 L1136.69 930.14 L1137.35 929.48 L1138.01 928.79 L1138.67 928.61 L1139.33 929 L1139.99 929.43 L1140.65 929.63 L1141.31 929.65 L1141.97 929.38 L1142.62 928.68 L1143.28 927.95 L1143.94 927.81 L1144.6 928.49 L1145.26 929.41 L1145.92 929.78 L1146.58 929.45 L1147.24 928.77 L1147.9 928.37 L1148.56 928.54 L1149.22 928.81 L1149.88 928.72 L1150.54 928.61 L1151.2 928.89 L1151.86 929.36 L1152.52 929.76 L1153.18 929.87 L1153.84 929.65 L1154.5 929.1 L1155.16 928.43 L1155.82 928.5 L1156.48 929.44 L1157.14 930.17 L1157.8 930.22 L1158.46 929.87 L1159.12 929.14 L1159.78 928.15 L1160.43 927.68 L1161.09 928.1 L1161.75 928.84 L1162.41 929.44 L1163.07 929.8 L1163.73 929.91 L1164.39 929.83 L1165.05 929.75 L1165.71 929.77 L1166.37 929.9 L1167.03 930.08 L1167.69 930.29 L1168.35 930.26 L1169.01 929.89 L1169.67 929.46 L1170.33 929.28 L1170.99 929.32 L1171.65 929.45 L1172.31 929.61 L1172.97 929.93 L1173.63 930.44 L1174.29 930.8 L1174.95 930.55 L1175.61 929.83 L1176.27 928.84 L1176.93 927.95 L1177.59 927.83 L1178.25 928.1 L1178.9 927.97 L1179.56 927.68 L1180.22 927.59 L1180.88 927.77 L1181.54 928.08 L1182.2 928.24 L1182.86 928.41 L1183.52 928.71 L1184.18 928.84 L1184.84 928.79 L1185.5 928.89 L1186.16 929.07 L1186.82 928.97 L1187.48 928.47 L1188.14 927.76 L1188.8 927.04 L1189.46 926.35 L1190.12 925.82 L1190.78 925.51 L1191.44 925.53 L1192.1 925.96 L1192.76 926.5 L1193.42 926.98 L1194.08 927.75 L1194.74 928.73 L1195.4 929.4 L1196.06 929.5 L1196.71 928.97 L1197.37 928.25 L1198.03 927.95 L1198.69 928.08 L1199.35 928.33 L1200.01 928.55 L1200.67 928.69 L1201.33 929 L1201.99 929.62 L1202.65 930.12 L1203.31 930.16 L1203.97 929.86 L1204.63 929.3 L1205.29 928.32 L1205.95 926.95 L1206.61 925.35 L1207.27 923.26 L1207.93 920.68 L1208.59 918.7 L1209.25 918.68 L1209.91 920.47 L1210.57 922.79 L1211.23 924.98 L1211.89 926.83 L1212.55 928.12 L1213.21 928.78 L1213.87 928.78 L1214.53 928.3 L1215.18 928.05 L1215.84 928.32 L1216.5 928.42 L1217.16 927.38 L1217.82 924.98 L1218.48 922.13 L1219.14 919.78 L1219.8 918.65 L1220.46 918.88 L1221.12 919.47 L1221.78 919.72 L1222.44 919.41 L1223.1 918.79 L1223.76 918.72 L1224.42 919.92 L1225.08 922.06 L1225.74 924.65 L1226.4 927.04 L1227.06 928.61 L1227.72 929.28 L1228.38 929.29 L1229.04 928.95 L1229.7 928.85 L1230.36 929.25 L1231.02 929.56 L1231.68 929.52 L1232.34 929.57 L1232.99 929.74 L1233.65 929.32 L1234.31 927.87 L1234.97 925.79 L1235.63 923.48 L1236.29 921.26 L1236.95 919.71 L1237.61 919.38 L1238.27 920.36 L1238.93 922.04 L1239.59 923.83 L1240.25 925.41 L1240.91 926.51 L1241.57 927.27 L1242.23 927.52 L1242.89 926.96 L1243.55 925.31 L1244.21 922.62 L1244.87 919.22 L1245.53 915.64 L1246.19 912.7 L1246.85 911.53 L1247.51 913.11 L1248.17 916.65 L1248.83 920.43 L1249.49 923.52 L1250.15 926.05 L1250.81 927.99 L1251.46 928.9 L1252.12 929.07 L1252.78 929.2 L1253.44 929.19 L1254.1 928.73 L1254.76 928.2 L1255.42 928.03 L1256.08 928.31 L1256.74 929.06 L1257.4 929.88 L1258.06 929.9 L1258.72 928.99 L1259.38 928.08 L1260.04 928.18 L1260.7 929.14 L1261.36 929.98 L1262.02 930.27 L1262.68 930.27 L1263.34 930.11 L1264 929.76 L1264.66 929.25 L1265.32 928.55 L1265.98 927.62 L1266.64 926.48 L1267.3 925.15 L1267.96 923.41 L1268.62 920.5 L1269.27 916.06 L1269.93 910.27 L1270.59 903.59 L1271.25 897 L1271.91 892.17 L1272.41 890.81 L1272.57 890.41 L1273.23 891.59 L1273.89 896.15 L1274.55 902.48 L1275.21 909.08 L1275.87 914.54 L1276.53 918.24 L1277.19 920.74 L1277.85 922.64 L1278.51 923.71 L1279.17 923.91 L1279.83 924.09 L1280.49 924.92 L1281.15 926.01 L1281.81 926.82 L1282.47 927.36 L1283.13 927.73 L1283.79 927.78 L1284.45 927.45 L1285.11 927.33 L1285.77 927.69 L1286.43 928.11 L1287.09 928.32 L1287.74 928.13 L1288.4 927.57 L1289.06 927.3 L1289.72 927.55 L1290.38 927.78 L1291.04 927.67 L1291.7 927.53 L1292.36 927.75 L1293.02 928.23 L1293.68 928.65 L1294.34 928.92 L1295 928.9 L1295.66 928.43 L1296.32 927.96 L1296.98 928.12 L1297.64 928.77 L1298.3 929.26 L1298.96 929.16 L1299.62 928.85 L1300.28 929.04 L1300.94 929.54 L1301.6 929.55 L1302.26 928.89 L1302.92 928.47 L1303.58 928.97 L1304.24 929.79 L1304.9 929.81 L1305.55 929.51 L1306.21 929.19 L1306.87 928.67 L1307.53 928.31 L1308.19 928.34 L1308.85 927.81 L1309.51 925.95 L1310.17 923.31 L1310.83 920.74 L1311.49 918.66 L1312.15 918.06 L1312.81 919.53 L1313.47 921.96 L1314.13 923.95 L1314.79 925.12 L1315.45 926.03 L1316.11 927.1 L1316.77 928.41 L1317.43 929.68 L1318.09 930.37 L1318.75 930.19 L1319.41 929.34 L1320.07 928.04 L1320.73 926.54 L1321.39 925.07 L1322.05 923.71 L1322.71 923.26 L1323.37 924.46 L1324.02 926.4 L1324.68 927.98 L1325.34 928.94 L1326 928.75 L1326.66 926.82 L1327.32 921.66 L1327.98 909.15 L1328.64 884.93 L1329.3 849.83 L1329.96 812.36 L1330.62 786.83 L1330.95 783.25 L1331.28 787.05 L1331.94 813.37 L1332.6 851.81 L1333.26 887 L1333.92 910.59 L1334.58 922.4 L1335.24 926.76 L1335.9 928.29 L1336.56 929.61 L1337.22 930.81 L1337.88 931.17 L1338.54 930.81 L1339.2 930.2 L1339.86 929.37 L1340.52 928.35 L1341.18 927.21 L1341.83 925.24 L1342.49 921.19 L1343.15 914.51 L1343.81 906.32 L1344.47 899.51 L1344.97 897.59 L1345.13 897.79 L1345.79 902.01 L1346.45 908.74 L1347.11 915.24 L1347.77 920.66 L1348.43 924.74 L1349.09 927.31 L1349.75 928.65 L1350.41 929.39 L1351.07 929.77 L1351.73 929.54 L1352.39 928.92 L1353.05 928.45 L1353.71 928.39 L1354.37 928.49 L1355.03 928.56 L1355.69 928.66 L1356.35 929.05 L1357.01 929.61 L1357.67 929.88 L1358.33 929.7 L1358.99 929.46 L1359.65 929.56 L1360.3 930 L1360.96 930.39 L1361.62 930.46 L1362.28 930.21 L1362.94 929.74 L1363.6 929.4 L1364.26 929.29 L1364.92 929.44 L1365.58 930.15 L1366.24 931.13 L1366.9 931.59 L1367.56 931.24 L1368.22 930.38 L1368.88 929.55 L1369.54 929.1 L1370.2 928.98 L1370.86 929.2 L1371.52 929.61 L1372.18 929.74 L1372.84 929.33 L1373.5 928.77 L1374.16 928.49 L1374.82 928.59 L1375.48 928.9 L1376.14 929.25 L1376.8 929.63 L1377.46 929.94 L1378.11 930.14 L1378.77 930.22 L1379.43 930 L1380.09 929.29 L1380.75 928.11 L1381.41 926.25 L1382.07 923.39 L1382.73 919.97 L1383.39 916.57 L1384.05 913.81 L1384.71 913.07 L1385.37 915.07 L1386.03 918.43 L1386.69 921.85 L1387.35 924.7 L1388.01 926.56 L1388.67 927.51 L1389.33 927.98 L1389.99 928.3 L1390.65 928.26 L1391.31 927.7 L1391.97 926.68 L1392.63 925.01 L1393.29 922.54 L1393.95 919.32 L1394.61 916.07 L1395.27 914.66 L1395.93 916.31 L1396.58 919.82 L1397.24 923.62 L1397.9 926.58 L1398.56 928.02 L1399.22 928.41 L1399.88 928.54 L1400.54 928.42 L1401.2 928.08 L1401.86 927.97 L1402.52 928.18 L1403.18 928.37 L1403.84 928.43 L1404.5 928.45 L1405.16 928.34 L1405.82 928.24 L1406.48 928.5 L1407.14 928.91 L1407.8 929.1 L1408.46 929.19 L1409.12 929.29 L1409.78 929.07 L1410.44 928.42 L1411.1 927.83 L1411.76 927.93 L1412.42 928.52 L1413.08 929.02 L1413.74 929.18 L1414.39 929.14 L1415.05 929.39 L1415.71 929.99 L1416.37 930.25 L1417.03 929.95 L1417.69 929.48 L1418.35 929.16 L1419.01 929.13 L1419.67 929.36 L1420.33 929.32 L1420.99 928.85 L1421.65 928.24 L1422.31 927.85 L1422.97 927.76 L1423.63 927.89 L1424.29 927.65 L1424.95 926.46 L1425.61 924.49 L1426.27 922.28 L1426.93 920.77 L1427.59 920.95 L1428.25 922.32 L1428.91 923.8 L1429.57 925.27 L1430.23 926.52 L1430.89 926.99 L1431.55 927.17 L1432.21 927.95 L1432.86 929.01 L1433.52 929.3 L1434.18 928.9 L1434.84 928.48 L1435.5 928.13 L1436.16 928.03 L1436.82 928.39 L1437.48 928.97 L1438.14 929.58 L1438.8 929.86 L1439.46 929.27 L1440.12 928.06 L1440.78 926.85 L1441.44 925.45 L1442.1 923.01 L1442.76 918.66 L1443.42 911.66 L1444.08 901.41 L1444.74 888.44 L1445.4 875.23 L1446.06 866.39 L1446.39 865.2 L1446.72 866.36 L1447.38 874.95 L1448.04 887.02 L1448.7 898.48 L1449.36 907.88 L1450.02 915.07 L1450.67 920.4 L1451.33 924.08 L1451.99 926.02 L1452.65 926.49 L1453.31 926.09 L1453.97 925.48 L1454.63 925.35 L1455.29 925.77 L1455.95 926.18 L1456.61 925.9 L1457.27 924.79 L1457.93 922.94 L1458.59 920.42 L1459.25 917.6 L1459.91 915.15 L1460.57 914.21 L1461.23 915.47 L1461.89 918.36 L1462.55 921.79 L1463.21 924.51 L1463.87 926.36 L1464.53 927.88 L1465.19 928.94 L1465.85 929.19 L1466.51 928.82 L1467.17 928.48 L1467.83 928.63 L1468.49 929.11 L1469.14 929.03 L1469.8 928.12 L1470.46 927.29 L1471.12 927.03 L1471.78 927.1 L1472.44 927.27 L1473.1 927.47 L1473.76 927.22 L1474.42 926.74 L1475.08 926.42 L1475.74 926.22 L1476.4 925.92 L1477.06 925.47 L1477.72 924.54 L1478.38 923.26 L1479.04 922.56 L1479.7 922.85 L1480.36 923.57 L1481.02 924.46 L1481.68 925.62 L1482.34 926.74 L1483 927.49 L1483.66 927.92 L1484.32 927.93 L1484.98 927.61 L1485.64 927.57 L1486.3 927.97 L1486.95 928.21 L1487.61 928.2 L1488.27 928.44 L1488.93 928.91 L1489.59 929.22 L1490.25 929.23 L1490.91 929.17 L1491.57 929.26 L1492.23 929.3 L1492.89 929.17 L1493.55 928.92 L1494.21 928.44 L1494.87 927.88 L1495.53 927.68 L1496.19 927.96 L1496.85 928.25 L1497.51 928.18 L1498.17 928.14 L1498.83 928.27 L1499.49 928.25 L1500.15 928.09 L1500.81 928.04 L1501.47 928.12 L1502.13 928.22 L1502.79 928.39 L1503.45 928.67 L1504.11 928.86 L1504.77 928.83 L1505.42 928.66 L1506.08 928.47 L1506.74 928.45 L1507.4 928.59 L1508.06 928.78 L1508.72 929.05 L1509.38 929.16 L1510.04 928.93 L1510.7 928.77 L1511.36 929.2 L1512.02 929.8 L1512.68 929.89 L1513.34 929.5 L1514 929.01 L1514.66 928.7 L1515.32 928.73 L1515.98 928.81 L1516.64 928.58 L1517.3 928.31 L1517.96 928.34 L1518.62 928.6 L1519.28 928.96 L1519.94 929.17 L1520.6 929.26 L1521.26 929.44 L1521.92 929.66 L1522.58 929.84 L1523.23 930.08 L1523.89 930.37 L1524.55 930.52 L1525.21 930.31 L1525.87 929.88 L1526.53 929.72 L1527.19 929.88 L1527.85 929.9 L1528.51 929.61 L1529.17 929.16 L1529.83 928.61 L1530.49 928.02 L1531.15 927.73 L1531.81 927.99 L1532.47 928.77 L1533.13 929.58 L1533.79 930.14 L1534.45 930.58 L1535.11 930.78 L1535.77 930.35 L1536.43 929.43 L1537.09 928.62 L1537.75 928.6 L1538.41 929.16 L1539.07 929.43 L1539.73 929.31 L1540.39 929.39 L1541.05 929.91 L1541.7 930.65 L1542.36 931.27 L1543.02 931.46 L1543.68 931.47 L1544.34 931.46 L1545 931.29 L1545.66 931.17 L1546.32 931.25 L1546.98 931.27 L1547.64 931 L1548.3 930.85 L1548.96 930.95 L1549.62 930.94 L1550.28 930.64 L1550.94 930.18 L1551.6 929.64 L1552.26 929.09 L1552.92 929.01 L1553.58 929.66 L1554.24 930.37 L1554.9 930.67 L1555.56 930.76 L1556.22 930.68 L1556.88 930.19 L1557.54 929.52 L1558.2 929.21 L1558.86 929.17 L1559.51 929.19 L1560.17 929.23 L1560.83 929.06 L1561.49 928.63 L1562.15 928.23 L1562.81 928.18 L1563.47 928.72 L1564.13 929.54 L1564.79 929.99 L1565.45 930.09 L1566.11 929.82 L1566.77 929.13 L1567.43 928.41 L1568.09 927.89 L1568.75 927.71 L1569.41 927.92 L1570.07 928.48 L1570.73 929.06 L1571.39 929.17 L1572.05 928.59 L1572.71 928.04 L1573.37 928.17 L1574.03 928.81 L1574.69 929.53 L1575.35 929.81 L1576.01 929.37 L1576.67 928.97 L1577.33 929.22 L1577.98 929.7 L1578.64 929.81 L1579.3 929.46 L1579.96 929.22 L1580.62 929.42 L1581.28 929.65 L1581.94 929.5 L1582.6 929.36 L1583.26 929.33 L1583.92 928.97 L1584.58 928.33 L1585.24 927.94 L1585.9 927.95 L1586.56 927.86 L1587.22 927.17 L1587.88 926.25 L1588.54 925.99 L1589.2 926.61 L1589.86 927.21 L1590.52 927.05 L1591.18 926.55 L1591.84 926.21 L1592.5 925.37 L1593.16 923.07 L1593.82 918.94 L1594.48 912.88 L1595.14 905.2 L1595.79 896.95 L1596.45 889.6 L1597.11 885.39 L1597.28 885.2 L1597.77 885.46 L1598.43 890.49 L1599.09 898.01 L1599.75 905.76 L1600.41 912.55 L1601.07 917.88 L1601.73 921.74 L1602.39 924.19 L1603.05 925.48 L1603.71 926.18 L1604.37 926.68 L1605.03 926.94 L1605.69 926.88 L1606.35 926.78 L1607.01 927.09 L1607.67 927.67 L1608.33 927.79 L1608.99 927.33 L1609.65 926.82 L1610.31 926.66 L1610.97 926.94 L1611.63 927.61 L1612.29 928.35 L1612.95 928.59 L1613.61 928.38 L1614.26 928.19 L1614.92 928.19 L1615.58 928.08 L1616.24 927.73 L1616.9 927.59 L1617.56 927.96 L1618.22 928.52 L1618.88 928.86 L1619.54 929.22 L1620.2 929.55 L1620.86 929.29 L1621.52 928.77 L1622.18 928.59 L1622.84 928.65 L1623.5 929.03 L1624.16 929.54 L1624.82 929.7 L1625.48 929.71 L1626.14 929.59 L1626.8 929.29 L1627.46 928.93 L1628.12 928.99 L1628.78 929.63 L1629.44 930.26 L1630.1 930.39 L1630.76 930.38 L1631.42 930.3 L1632.07 930.2 L1632.73 930.16 L1633.39 930.01 L1634.05 929.71 L1634.71 929.41 L1635.37 929.16 L1636.03 928.89 L1636.69 928.77 L1637.35 929.26 L1638.01 930.05 L1638.67 930.16 L1639.33 929.48 L1639.99 929 L1640.65 929.31 L1641.31 929.79 L1641.97 929.65 L1642.63 928.95 L1643.29 928.38 L1643.95 928.21 L1644.61 928.03 L1645.27 927.73 L1645.93 927.56 L1646.59 927.64 L1647.25 927.68 L1647.91 927.54 L1648.57 927.63 L1649.23 928.22 L1649.89 928.88 L1650.54 929.33 L1651.2 929.61 L1651.86 929.49 L1652.52 928.88 L1653.18 928.3 L1653.84 928.28 L1654.5 928.94 L1655.16 929.95 L1655.82 930.53 L1656.48 930.51 L1657.14 930.24 L1657.8 929.75 L1658.46 929.12 L1659.12 928.6 L1659.78 928.29 L1660.44 928.12 L1661.1 927.95 L1661.76 928.21 L1662.42 929.13 L1663.08 929.84 L1663.74 929.4 L1664.4 928.37 L1665.06 927.86 L1665.72 927.92 L1666.38 927.95 L1667.04 927.72 L1667.7 927.59 L1668.35 927.82 L1669.01 928.36 L1669.67 929.1 L1670.33 929.76 L1670.99 929.84 L1671.65 929.35 L1672.31 928.88 L1672.97 928.93 L1673.63 929.29 L1674.29 929.14 L1674.95 928.35 L1675.61 927.81 L1676.27 927.97 L1676.93 928.42 L1677.59 928.67 L1678.25 928.7 L1678.91 928.54 L1679.57 928.36 L1680.23 928.37 L1680.89 928.52 L1681.55 929.04 L1682.21 929.78 L1682.87 930 L1683.53 929.65 L1684.19 929.35 L1684.85 929.01 L1685.51 928.17 L1686.17 927.55 L1686.82 927.91 L1687.48 928.75 L1688.14 929.38 L1688.8 929.83 L1689.46 930.2 L1690.12 930.33 L1690.78 930.06 L1691.44 929.33 L1692.1 928.28 L1692.76 926.9 L1693.42 925.14 L1694.08 923.26 L1694.74 921.38 L1695.4 919.19 L1696.06 916.97 L1696.72 915.87 L1697.38 916.55 L1698.04 918.33 L1698.7 920.31 L1699.36 922.09 L1700.02 923.71 L1700.68 925.43 L1701.34 926.99 L1702 927.97 L1702.66 928.61 L1703.32 929.38 L1703.98 930.08 L1704.63 930.14 L1705.29 929.64 L1705.95 929.32 L1706.61 929.27 L1707.27 928.94 L1707.93 928.47 L1708.59 928.4 L1709.25 928.7 L1709.91 929.08 L1710.57 929.5 L1711.23 930.04 L1711.89 930.67 L1712.55 930.87 L1713.21 930.45 L1713.87 930.03 L1714.53 929.79 L1715.19 929.55 L1715.85 929.64 L1716.51 930.07 L1717.17 930.08 L1717.83 929.45 L1718.49 928.88 L1719.15 928.55 L1719.81 928.13 L1720.47 927.9 L1721.13 928.04 L1721.79 927.95 L1722.45 927.22 L1723.1 926.24 L1723.76 925.26 L1724.42 924.19 L1725.08 923.12 L1725.74 922.39 L1726.4 922.37 L1727.06 922.93 L1727.72 923.52 L1728.38 924.14 L1729.04 924.81 L1729.7 925.15 L1730.36 924.99 L1731.02 924.56 L1731.68 924.14 L1732.34 923.56 L1733 922.66 L1733.66 921.96 L1734.32 921.9 L1734.98 922.33 L1735.64 923.05 L1736.3 923.81 L1736.96 924.63 L1737.62 925.81 L1738.28 927.12 L1738.94 927.87 L1739.6 927.93 L1740.26 927.73 L1740.91 927.56 L1741.57 927.36 L1742.23 926.73 L1742.89 925.58 L1743.55 924.25 L1744.21 923 L1744.87 921.65 L1745.53 920.37 L1746.19 919.51 L1746.85 919.36 L1747.51 919.96 L1748.17 921.31 L1748.83 923.16 L1749.49 924.89 L1750.15 926.09 L1750.81 926.81 L1751.47 927.07 L1752.13 926.85 L1752.79 926.31 L1753.45 925.56 L1754.11 924.54 L1754.77 923.28 L1755.43 922.14 L1756.09 921.92 L1756.75 923.19 L1757.41 925.49 L1758.07 927.59 L1758.73 928.79 L1759.38 929.29 L1760.04 929.45 L1760.7 929.43 L1761.36 929.32 L1762.02 929.35 L1762.68 929.52 L1763.34 929.54 L1764 929.48 L1764.66 929.47 L1765.32 929.38 L1765.98 929.26 L1766.64 929.23 L1767.3 929.24 L1767.96 928.86 L1768.62 927.88 L1769.28 926.86 L1769.94 926.31 L1770.6 926.1 L1771.26 926.14 L1771.92 926.5 L1772.58 927.1 L1773.24 927.94 L1773.9 928.55 L1774.56 928.74 L1775.22 929.07 L1775.88 929.63 L1776.54 930.11 L1777.19 930.35 L1777.85 930.28 L1778.51 929.75 L1779.17 929 L1779.83 928.44 L1780.49 928.21 L1781.15 928.06 L1781.81 927.93 L1782.47 928.14 L1783.13 928.58 L1783.79 928.78 L1784.45 928.63 L1785.11 928.4 L1785.77 928.12 L1786.43 927.63 L1787.09 927.12 L1787.75 926.72 L1788.41 925.81 L1789.07 923.73 L1789.73 920.72 L1790.39 917.9 L1791.05 916.62 L1791.71 917.42 L1792.37 919.45 L1793.03 921.83 L1793.69 924.22 L1794.35 926.21 L1795.01 927.61 L1795.66 928.58 L1796.32 929.14 L1796.98 929.38 L1797.64 929.33 L1798.3 929.02 L1798.96 928.8 L1799.62 928.65 L1800.28 928.07 L1800.94 927.41 L1801.6 927.06 L1802.26 926.29 L1802.92 924.43 L1803.58 921.9 L1804.24 919.79 L1804.9 918.99 L1805.56 919.79 L1806.22 921.56 L1806.88 923.65 L1807.54 925.72 L1808.2 927.32 L1808.86 928.03 L1809.52 928.08 L1810.18 928.07 L1810.84 928.16 L1811.5 928.09 L1812.16 928.08 L1812.82 928.31 L1813.47 928.41 L1814.13 928.2 L1814.79 927.89 L1815.45 927.51 L1816.11 927.06 L1816.77 926.69 L1817.43 926.3 L1818.09 925.74 L1818.75 924.66 L1819.41 922.55 L1820.07 918.68 L1820.73 912.25 L1821.39 902.94 L1822.05 891.47 L1822.71 879.41 L1823.37 869.46 L1824.03 865.38 L1824.03 865.38 L1824.69 867.1 L1825.35 875.41 L1826.01 886.23 L1826.67 897.1 L1827.33 906.51 L1827.99 913.55 L1828.65 918.46 L1829.31 921.92 L1829.97 924.05 L1830.63 924.89 L1831.29 924.83 L1831.94 924.6 L1832.6 924.62 L1833.26 924.73 L1833.92 924.74 L1834.58 925.12 L1835.24 926 L1835.9 926.63 L1836.56 926.27 L1837.22 925.03 L1837.88 923.21 L1838.54 920.46 L1839.2 916.18 L1839.86 910.75 L1840.52 905.43 L1841.18 902.03 L1841.34 901.91 L1841.84 902.51 L1842.5 906.51 L1843.16 911.65 L1843.82 916.29 L1844.48 920.01 L1845.14 923.03 L1845.8 925.48 L1846.46 927.09 L1847.12 927.69 L1847.78 927.6 L1848.44 927.47 L1849.1 927.81 L1849.75 928.48 L1850.41 928.83 L1851.07 928.58 L1851.73 927.91 L1852.39 926.96 L1853.05 925.5 L1853.71 923.43 L1854.37 920.73 L1855.03 918.21 L1855.69 916.64 L1856.35 916.79 L1857.01 918.53 L1857.67 920.75 L1858.33 923.03 L1858.99 925.45 L1859.65 927.56 L1860.31 928.87 L1860.97 929.6 L1861.63 929.92 L1862.29 929.59 L1862.95 928.86 L1863.61 928.47 L1864.27 928.42 L1864.93 927.92 L1865.59 926.21 L1866.25 922.32 L1866.91 914.97 L1867.57 902.97 L1868.22 886.17 L1868.88 865.63 L1869.54 843.91 L1870.2 825.36 L1870.86 815.4 L1871.03 814.98 L1871.52 817.77 L1872.18 831.82 L1872.84 853.13 L1873.5 876.05 L1874.16 895.98 L1874.82 910.7 L1875.48 920.39 L1876.14 926.26 L1876.8 929.45" fill="none" stroke="#3a3a3a" stroke-width="1" stroke-linejoin="round"/>
<path d="M1159.4 583.2 L1186.1 599.1 M1187.95 599.1 L1189.85 629.9 M1184.25 599.1 L1186.15 629.9 M1188 629.9 L1159.4 644.9 M1159.4 646.75 L1134.5 631.15 M1159.4 643.05 L1134.5 627.45 M1134.5 629.3 L1134.5 599.1 M1134.5 600.95 L1159.4 585.05 M1134.5 597.25 L1159.4 581.35 M1159.4 583.2 L1159.4 554.2 M1159.4 556.1 L1180.96 544.88 M1159.4 552.3 L1180.96 541.08" fill="none" stroke="#333" stroke-width="1.2" stroke-linecap="round"/>
<text font-size="14.5" font-family='"Liberation Sans", Arial, Helvetica, sans-serif' text-anchor="middle" fill="#333" x="1186.4" y="545.6">O</text>
<path d="M1262.8 758.3 L1290.5 773.7 M1292.25 773.7 L1292.25 805.5 M1288.75 773.7 L1288.75 805.5 M1290.5 805.5 L1262.8 821 M1262.8 822.75 L1234.3 805.95 M1262.8 819.25 L1234.3 802.45 M1234.3 804.2 L1234.3 774 M1234.3 775.75 L1262.8 760.05 M1234.3 772.25 L1262.8 756.55 M1234.3 774 L1207.4 758.6 M1207.4 758.6 L1195 765.6" fill="none" stroke="#333" stroke-width="1.2" stroke-linecap="round"/>
<text font-size="18" font-family='"Liberation Serif", "Times New Roman", Times, serif' fill="#333" textLength="20.9" lengthAdjust="spacingAndGlyphs" x="1172.8" y="778.8">HO</text>
<path d="M1595.9 779.7 L1623.9 795.7 M1625.9 795.7 L1625.9 826.6 M1621.9 795.7 L1621.9 826.6 M1623.9 826.6 L1595.9 844 M1595.9 846 L1568 827 M1595.9 842 L1568 823 M1568 825 L1568 796.2 M1568 798.2 L1595.9 781.7 M1568 794.2 L1595.9 777.7 M1568 796.2 L1540.6 780 M1540.6 780 L1516.29 791.8 M1502.89 791.26 L1482.7 780.8 M1482.7 780.8 L1453.1 796.8 M1485.15 780.8 L1485.15 757 M1480.25 780.8 L1480.25 757" fill="none" stroke="#333" stroke-width="1.2" stroke-linecap="round"/>
<text font-size="15" font-family='"Liberation Sans", Arial, Helvetica, sans-serif' text-anchor="middle" fill="#333" x="1509.9" y="800.3">O</text>
<text font-size="15" font-family='"Liberation Sans", Arial, Helvetica, sans-serif' text-anchor="middle" fill="#333" x="1482.4" y="750.7">O</text>
<path d="M1812.8 759.5 L1838.7 774.3 M1840.5 774.3 L1840.5 804.7 M1836.9 774.3 L1836.9 804.7 M1838.7 804.7 L1812.8 820.3 M1812.8 822.1 L1786.9 806.3 M1812.8 818.5 L1786.9 802.7 M1786.9 804.5 L1786.9 773.8 M1786.9 775.6 L1812.8 761.3 M1786.9 772 L1812.8 757.7 M1812.8 759.5 L1812.8 728.5 M1812.8 728.5 L1831.06 716.45 M1838.4 704.5 L1838.4 683.3 M1838.4 683.3 L1864.7 669 M1864.7 669 L1864.7 638.5 M1838.4 685.15 L1818.32 673.63 M1838.4 681.45 L1818.32 669.93" fill="none" stroke="#5a5a5a" stroke-width="1.15" stroke-linecap="round"/>
<text font-size="14.5" font-family='"Liberation Sans", Arial, Helvetica, sans-serif' text-anchor="middle" fill="#5a5a5a" x="1838.4" y="716.8">O</text>
<text font-size="14.5" font-family='"Liberation Sans", Arial, Helvetica, sans-serif' text-anchor="middle" fill="#5a5a5a" x="1812.6" y="673.7">O</text>
<text font-size="21" font-family='"Liberation Serif", "Times New Roman", Times, serif' fill="#222" transform="translate(1110,528.7) rotate(-90)">1</text>
<text font-size="21" font-family='"Liberation Serif", "Times New Roman", Times, serif' fill="#222" transform="translate(1280.2,890.3) rotate(-90)">2</text>
<text font-size="21" font-family='"Liberation Serif", "Times New Roman", Times, serif' fill="#222" transform="translate(1604.1,886.6) rotate(-90)">3</text>
<text font-size="21" font-family='"Liberation Serif", "Times New Roman", Times, serif' fill="#222" transform="translate(1831.4,864.3) rotate(-90)">4</text>
<text font-size="29" font-family='"Liberation Sans", Arial, Helvetica, sans-serif' font-weight="bold" fill="#f00000" x="1098.22" y="556.01">*</text>
<text font-size="29" font-family='"Liberation Sans", Arial, Helvetica, sans-serif' font-weight="bold" fill="#f00000" x="1265.22" y="880.71">*</text>
<text font-size="29" font-family='"Liberation Sans", Arial, Helvetica, sans-serif' font-weight="bold" fill="#f00000" x="1590.72" y="876.91">*</text>
<text font-size="29" font-family='"Liberation Sans", Arial, Helvetica, sans-serif' font-weight="bold" fill="#f00000" x="1816.82" y="857.11">*</text>
<text font-size="27.3" font-family='"Liberation Sans", Arial, Helvetica, sans-serif' font-weight="bold" textLength="194.16" lengthAdjust="spacingAndGlyphs" x="1594.3" y="609.1">PmBEAT37-OE</text>
<rect x="32.7" y="1028.2" width="904.7" height="447.8" fill="none" stroke="#444" stroke-width="1.55"/>
<path d="M32.7 1476 v7.6 M40.92 1476 v3.1 M49.15 1476 v3.1 M57.37 1476 v3.1 M65.6 1476 v3.1 M73.82 1476 v5.2 M82.05 1476 v3.1 M90.27 1476 v3.1 M98.5 1476 v3.1 M106.72 1476 v3.1 M114.95 1476 v7.6 M123.17 1476 v3.1 M131.39 1476 v3.1 M139.62 1476 v3.1 M147.84 1476 v3.1 M156.07 1476 v5.2 M164.29 1476 v3.1 M172.52 1476 v3.1 M180.74 1476 v3.1 M188.97 1476 v3.1 M197.19 1476 v7.6 M205.42 1476 v3.1 M213.64 1476 v3.1 M221.86 1476 v3.1 M230.09 1476 v3.1 M238.31 1476 v5.2 M246.54 1476 v3.1 M254.76 1476 v3.1 M262.99 1476 v3.1 M271.21 1476 v3.1 M279.44 1476 v7.6 M287.66 1476 v3.1 M295.89 1476 v3.1 M304.11 1476 v3.1 M312.33 1476 v3.1 M320.56 1476 v5.2 M328.78 1476 v3.1 M337.01 1476 v3.1 M345.23 1476 v3.1 M353.46 1476 v3.1 M361.68 1476 v7.6 M369.91 1476 v3.1 M378.13 1476 v3.1 M386.36 1476 v3.1 M394.58 1476 v3.1 M402.8 1476 v5.2 M411.03 1476 v3.1 M419.25 1476 v3.1 M427.48 1476 v3.1 M435.7 1476 v3.1 M443.93 1476 v7.6 M452.15 1476 v3.1 M460.38 1476 v3.1 M468.6 1476 v3.1 M476.83 1476 v3.1 M485.05 1476 v5.2 M493.27 1476 v3.1 M501.5 1476 v3.1 M509.72 1476 v3.1 M517.95 1476 v3.1 M526.17 1476 v7.6 M534.4 1476 v3.1 M542.62 1476 v3.1 M550.85 1476 v3.1 M559.07 1476 v3.1 M567.3 1476 v5.2 M575.52 1476 v3.1 M583.74 1476 v3.1 M591.97 1476 v3.1 M600.19 1476 v3.1 M608.42 1476 v7.6 M616.64 1476 v3.1 M624.87 1476 v3.1 M633.09 1476 v3.1 M641.32 1476 v3.1 M649.54 1476 v5.2 M657.77 1476 v3.1 M665.99 1476 v3.1 M674.21 1476 v3.1 M682.44 1476 v3.1 M690.66 1476 v7.6 M698.89 1476 v3.1 M707.11 1476 v3.1 M715.34 1476 v3.1 M723.56 1476 v3.1 M731.79 1476 v5.2 M740.01 1476 v3.1 M748.24 1476 v3.1 M756.46 1476 v3.1 M764.68 1476 v3.1 M772.91 1476 v7.6 M781.13 1476 v3.1 M789.36 1476 v3.1 M797.58 1476 v3.1 M805.81 1476 v3.1 M814.03 1476 v5.2 M822.26 1476 v3.1 M830.48 1476 v3.1 M838.71 1476 v3.1 M846.93 1476 v3.1 M855.15 1476 v7.6 M863.38 1476 v3.1 M871.6 1476 v3.1 M879.83 1476 v3.1 M888.05 1476 v3.1 M896.28 1476 v5.2 M904.5 1476 v3.1 M912.73 1476 v3.1 M920.95 1476 v3.1 M929.18 1476 v3.1 M937.4 1476 v7.6" fill="none" stroke="#333" stroke-width="1.15"/>
<text font-size="14.5" font-family='"Liberation Serif", "Times New Roman", Times, serif' text-anchor="middle" fill="#111" textLength="16.88" lengthAdjust="spacingAndGlyphs" x="114.95" y="1495.7" stroke="#111" stroke-width="0.2">9.0</text>
<text font-size="14.5" font-family='"Liberation Serif", "Times New Roman", Times, serif' text-anchor="middle" fill="#111" textLength="23.62" lengthAdjust="spacingAndGlyphs" x="197.19" y="1495.7" stroke="#111" stroke-width="0.2">10.0</text>
<text font-size="14.5" font-family='"Liberation Serif", "Times New Roman", Times, serif' text-anchor="middle" fill="#111" textLength="23.62" lengthAdjust="spacingAndGlyphs" x="279.44" y="1495.7" stroke="#111" stroke-width="0.2">11.0</text>
<text font-size="14.5" font-family='"Liberation Serif", "Times New Roman", Times, serif' text-anchor="middle" fill="#111" textLength="23.62" lengthAdjust="spacingAndGlyphs" x="361.68" y="1495.7" stroke="#111" stroke-width="0.2">12.0</text>
<text font-size="14.5" font-family='"Liberation Serif", "Times New Roman", Times, serif' text-anchor="middle" fill="#111" textLength="23.62" lengthAdjust="spacingAndGlyphs" x="443.93" y="1495.7" stroke="#111" stroke-width="0.2">13.0</text>
<text font-size="14.5" font-family='"Liberation Serif", "Times New Roman", Times, serif' text-anchor="middle" fill="#111" textLength="23.62" lengthAdjust="spacingAndGlyphs" x="526.17" y="1495.7" stroke="#111" stroke-width="0.2">14.0</text>
<text font-size="14.5" font-family='"Liberation Serif", "Times New Roman", Times, serif' text-anchor="middle" fill="#111" textLength="23.62" lengthAdjust="spacingAndGlyphs" x="608.42" y="1495.7" stroke="#111" stroke-width="0.2">15.0</text>
<text font-size="14.5" font-family='"Liberation Serif", "Times New Roman", Times, serif' text-anchor="middle" fill="#111" textLength="23.62" lengthAdjust="spacingAndGlyphs" x="690.66" y="1495.7" stroke="#111" stroke-width="0.2">16.0</text>
<text font-size="14.5" font-family='"Liberation Serif", "Times New Roman", Times, serif' text-anchor="middle" fill="#111" textLength="23.62" lengthAdjust="spacingAndGlyphs" x="772.91" y="1495.7" stroke="#111" stroke-width="0.2">17.0</text>
<text font-size="14.5" font-family='"Liberation Serif", "Times New Roman", Times, serif' text-anchor="middle" fill="#111" textLength="23.62" lengthAdjust="spacingAndGlyphs" x="855.15" y="1495.7" stroke="#111" stroke-width="0.2">18.0</text>
<text font-size="14.5" font-family='"Liberation Serif", "Times New Roman", Times, serif' text-anchor="middle" fill="#111" textLength="23.62" lengthAdjust="spacingAndGlyphs" x="937.4" y="1495.7" stroke="#111" stroke-width="0.2">19.0</text>
<text font-size="14.5" font-family='"Liberation Serif", "Times New Roman", Times, serif' text-anchor="end" fill="#111" textLength="21" lengthAdjust="spacingAndGlyphs" x="937.5" y="1509.9" stroke="#111" stroke-width="0.2">min</text>
<text font-size="13.5" font-family='"Liberation Serif", "Times New Roman", Times, serif' text-anchor="end" fill="#111" textLength="20.3" lengthAdjust="spacingAndGlyphs" x="936.9" y="1025.6" stroke="#111" stroke-width="0.2">TIC</text>
<text font-size="14.5" font-family='"Liberation Serif", "Times New Roman", Times, serif' fill="#111" textLength="44.2" lengthAdjust="spacingAndGlyphs" x="34" y="1041.4" stroke="#111" stroke-width="0.2">500,000</text>
<path d="M32.7 1435.35 L33.36 1435.31 L34.02 1434.81 L34.67 1434.33 L35.33 1434.3 L35.99 1434.58 L36.65 1434.83 L37.31 1435.11 L37.96 1435.54 L38.62 1435.84 L39.28 1435.75 L39.94 1435.58 L40.6 1435.9 L41.25 1436.46 L41.91 1436.39 L42.57 1435.6 L43.23 1434.8 L43.89 1434.44 L44.54 1434.55 L45.2 1434.91 L45.86 1435.28 L46.52 1435.74 L47.18 1436.19 L47.83 1436.11 L48.49 1435.59 L49.15 1435.32 L49.81 1435.27 L50.47 1435.03 L51.12 1434.5 L51.78 1433.83 L52.44 1433.32 L53.1 1433.29 L53.75 1433.77 L54.41 1434.64 L55.07 1435.64 L55.73 1436.25 L56.39 1436.07 L57.04 1435.39 L57.7 1434.86 L58.36 1434.63 L59.02 1434.5 L59.68 1434.56 L60.33 1434.95 L60.99 1435.26 L61.65 1435 L62.31 1434.29 L62.97 1433.66 L63.62 1433.43 L64.28 1433.47 L64.94 1433.52 L65.6 1433.46 L66.26 1433.36 L66.91 1433.29 L67.57 1433.74 L68.23 1434.61 L68.89 1435.03 L69.55 1434.71 L70.2 1434.47 L70.86 1434.68 L71.52 1434.67 L72.18 1434.24 L72.84 1434.06 L73.49 1434.26 L74.15 1434.28 L74.81 1434.17 L75.47 1434.42 L76.13 1434.94 L76.78 1435.59 L77.44 1436.44 L78.1 1437.09 L78.76 1437.16 L79.42 1437.07 L80.07 1437.45 L80.73 1438.22 L81.39 1438.71 L82.05 1438.4 L82.71 1437.56 L83.36 1437.19 L84.02 1437.1 L84.68 1436.96 L85.34 1436.99 L86 1437.14 L86.65 1436.96 L87.31 1436.63 L87.97 1436.38 L88.63 1436.1 L89.28 1436.03 L89.94 1436.28 L90.6 1436.35 L91.26 1436.15 L91.92 1436 L92.57 1435.92 L93.23 1435.78 L93.89 1435.22 L94.55 1434.14 L95.21 1433.25 L95.86 1433.14 L96.52 1433.57 L97.18 1434.03 L97.84 1434.32 L98.5 1434.43 L99.15 1434.48 L99.81 1434.33 L100.47 1434.16 L101.13 1433.81 L101.79 1433.15 L102.44 1432.64 L103.1 1432.77 L103.76 1433.53 L104.42 1434.68 L105.08 1435.67 L105.73 1436.11 L106.39 1436.27 L107.05 1436.3 L107.71 1436.03 L108.37 1435.52 L109.02 1435.13 L109.68 1435.03 L110.34 1435.13 L111 1435.04 L111.66 1434.64 L112.31 1434.41 L112.97 1434.54 L113.63 1434.89 L114.29 1435.43 L114.95 1436.21 L115.6 1436.8 L116.26 1436.82 L116.92 1436.13 L117.58 1435.14 L118.24 1434.46 L118.89 1434.33 L119.55 1434.5 L120.21 1434.76 L120.87 1435.11 L121.53 1435.33 L122.18 1435.35 L122.84 1435.45 L123.5 1435.72 L124.16 1435.7 L124.81 1435.25 L125.47 1434.91 L126.13 1434.94 L126.79 1435.03 L127.45 1435.14 L128.1 1435.34 L128.76 1435.34 L129.42 1435.2 L130.08 1435.23 L130.74 1435.29 L131.39 1435.08 L132.05 1434.83 L132.71 1434.52 L133.37 1434.34 L134.03 1434.49 L134.68 1434.89 L135.34 1435.27 L136 1435.37 L136.66 1435.02 L137.32 1434.63 L137.97 1434.82 L138.63 1435.41 L139.29 1435.58 L139.95 1435.3 L140.61 1435.34 L141.26 1435.77 L141.92 1436.07 L142.58 1436.31 L143.24 1436.58 L143.9 1436.02 L144.55 1036.7 L144.56 1028.2 M149.19 1028.2 L149.82 1219.36 L150.48 1317.76 L151.13 1366.33 L151.79 1390.64 L152.45 1403.2 L153.11 1410.06 L153.77 1414.19 L154.42 1417.05 L155.08 1419.16 L155.74 1420.62 L156.4 1421.52 L157.06 1422.26 L157.71 1423.27 L158.37 1424.29 L159.03 1424.83 L159.69 1425.19 L160.34 1425.84 L161 1426.84 L161.66 1427.77 L162.32 1428.21 L162.98 1428.41 L163.63 1428.84 L164.29 1429.39 L164.95 1429.64 L165.61 1429.36 L166.27 1428.84 L166.92 1428.53 L167.58 1428.6 L168.24 1429.06 L168.9 1429.92 L169.56 1430.94 L170.21 1431.76 L170.87 1432.11 L171.53 1431.89 L172.19 1431.22 L172.85 1430.49 L173.5 1430.15 L174.16 1430.18 L174.82 1430.62 L175.48 1431.59 L176.14 1432.49 L176.79 1432.82 L177.45 1432.78 L178.11 1432.73 L178.77 1432.82 L179.43 1432.91 L180.08 1432.62 L180.74 1432.01 L181.4 1431.97 L182.06 1432.69 L182.72 1433.12 L183.37 1432.88 L184.03 1433.13 L184.69 1434.08 L185.35 1434.29 L186.01 1432.91 L186.66 1430.57 L187.32 1428.14 L187.98 1426.01 L188.64 1424.62 L189.3 1424.79 L189.95 1426.4 L190.61 1428.34 L191.27 1430.38 L191.93 1432.67 L192.59 1434.52 L193.24 1435.19 L193.9 1434.96 L194.56 1434.62 L195.22 1434.65 L195.87 1435.17 L196.53 1435.83 L197.19 1436.1 L197.85 1436.04 L198.51 1436.42 L199.16 1437.11 L199.82 1437.26 L200.48 1436.69 L201.14 1436.08 L201.8 1435.85 L202.45 1435.89 L203.11 1436.03 L203.77 1436.21 L204.43 1436.35 L205.09 1436.24 L205.74 1435.75 L206.4 1435.07 L207.06 1434.69 L207.72 1434.79 L208.38 1435.09 L209.03 1435.35 L209.69 1435.56 L210.35 1435.68 L211.01 1435.73 L211.67 1435.84 L212.32 1436.05 L212.98 1436.01 L213.64 1435.67 L214.3 1435.57 L214.96 1435.71 L215.61 1435.75 L216.27 1435.62 L216.93 1435.63 L217.59 1435.85 L218.25 1436.13 L218.9 1436.38 L219.56 1436.38 L220.22 1436.14 L220.88 1435.85 L221.54 1435.42 L222.19 1434.85 L222.85 1434.42 L223.51 1434.19 L224.17 1434.06 L224.83 1434.11 L225.48 1434.43 L226.14 1434.86 L226.8 1435.02 L227.46 1434.91 L228.12 1434.63 L228.77 1434.28 L229.43 1434.05 L230.09 1433.78 L230.75 1433.3 L231.41 1432.88 L232.06 1432.56 L232.72 1431.98 L233.38 1430.87 L234.04 1429.67 L234.69 1429.2 L235.35 1429.63 L236.01 1430.55 L236.67 1431.7 L237.33 1432.62 L237.98 1432.93 L238.64 1432.84 L239.3 1432.84 L239.96 1433.18 L240.62 1433.86 L241.27 1434.7 L241.93 1435.23 L242.59 1435.25 L243.25 1435.11 L243.91 1435.18 L244.56 1435.58 L245.22 1436.01 L245.88 1435.97 L246.54 1435.38 L247.2 1434.78 L247.85 1434.47 L248.51 1434.15 L249.17 1433.46 L249.83 1432.26 L250.49 1431.08 L251.14 1431 L251.8 1432.1 L252.46 1433.54 L253.12 1434.81 L253.78 1435.77 L254.43 1436.29 L255.09 1436.39 L255.75 1436.5 L256.41 1436.91 L257.07 1437.23 L257.72 1437.05 L258.38 1436.47 L259.04 1435.73 L259.7 1435.17 L260.36 1435.19 L261.01 1435.99 L261.67 1436.88 L262.33 1436.8 L262.99 1435.8 L263.65 1434.81 L264.3 1434.5 L264.96 1434.66 L265.62 1434.7 L266.28 1434.52 L266.94 1434.36 L267.59 1434.07 L268.25 1432.99 L268.91 1430.83 L269.57 1428.25 L270.22 1425.99 L270.88 1424.38 L271.54 1424.23 L272.2 1425.65 L272.86 1427.79 L273.51 1430.23 L274.17 1432.55 L274.83 1434.03 L275.49 1434.58 L276.15 1434.59 L276.8 1434.47 L277.46 1434.51 L278.12 1434.44 L278.78 1433.64 L279.44 1431.74 L280.09 1428.82 L280.75 1425.23 L281.41 1422.14 L282.07 1421.36 L282.73 1423.03 L283.38 1424.78 L284.04 1425.24 L284.7 1424.58 L285.36 1423.53 L286.02 1423.33 L286.67 1424.94 L287.33 1427.66 L287.99 1430.58 L288.65 1432.99 L289.31 1434.38 L289.96 1434.87 L290.62 1435 L291.28 1435.23 L291.94 1435.73 L292.6 1436.26 L293.25 1436.33 L293.91 1436.02 L294.57 1435.77 L295.23 1435.77 L295.89 1436.01 L296.54 1435.93 L297.2 1434.89 L297.86 1432.48 L298.52 1429.14 L299.18 1425.99 L299.83 1424.24 L300.49 1424.57 L301.15 1426.77 L301.81 1429.93 L302.47 1432.83 L303.12 1434.44 L303.78 1434.92 L304.44 1434.87 L305.1 1434.35 L305.75 1432.9 L306.41 1430.18 L307.07 1426.43 L307.73 1422.13 L308.39 1418.01 L309.04 1415.56 L309.7 1416.37 L310.36 1419.88 L311.02 1424.54 L311.68 1428.74 L312.33 1431.54 L312.99 1433.21 L313.65 1434.22 L314.31 1434.69 L314.97 1434.63 L315.62 1434.29 L316.28 1433.9 L316.94 1433.55 L317.6 1433.42 L318.26 1433.71 L318.91 1434.45 L319.57 1435.2 L320.23 1435.51 L320.89 1435.6 L321.55 1435.68 L322.2 1435.56 L322.86 1435.38 L323.52 1435.4 L324.18 1435.78 L324.84 1436.23 L325.49 1436.37 L326.15 1436.15 L326.81 1435.22 L327.47 1433.79 L328.13 1433.05 L328.78 1433.39 L329.44 1433.96 L330.1 1433.79 L330.76 1432.81 L331.42 1431.14 L332.07 1428.56 L332.73 1425.46 L333.39 1422.87 L334.05 1421.55 L334.71 1421.78 L335.36 1423.08 L336.02 1425 L336.68 1427.48 L337.34 1430.09 L338 1432.14 L338.65 1433.43 L339.31 1434.1 L339.97 1434.06 L340.63 1433.48 L341.28 1433.01 L341.94 1433 L342.6 1433.18 L343.26 1432.93 L343.92 1431.98 L344.57 1431.04 L345.23 1431.02 L345.89 1431.72 L346.55 1432.28 L347.21 1432.63 L347.86 1433.28 L348.52 1434.18 L349.18 1434.89 L349.84 1435.18 L350.5 1435.24 L351.15 1435.16 L351.81 1434.89 L352.47 1434.7 L353.13 1434.66 L353.79 1434.48 L354.44 1434.21 L355.1 1434.4 L355.76 1435.03 L356.42 1435.26 L357.08 1434.82 L357.73 1434.51 L358.39 1435.25 L359.05 1436.48 L359.71 1436.91 L360.37 1436.48 L361.02 1435.97 L361.68 1435.61 L362.34 1435.16 L363 1434.79 L363.66 1434.91 L364.31 1435.36 L364.97 1435.59 L365.63 1435.51 L366.29 1435.4 L366.95 1435.13 L367.6 1434.77 L368.26 1434.69 L368.92 1434.93 L369.58 1435.17 L370.24 1435.05 L370.89 1434.12 L371.55 1432.16 L372.21 1429.63 L372.87 1427.22 L373.53 1425.53 L374.18 1425.48 L374.84 1427.13 L375.5 1429.34 L376.16 1431.26 L376.81 1432.31 L377.47 1432.69 L378.13 1433.29 L378.79 1434.44 L379.45 1435.54 L380.1 1435.9 L380.76 1435.24 L381.42 1434.08 L382.08 1433.31 L382.74 1433.04 L383.39 1432.68 L384.05 1431.92 L384.71 1431.42 L385.37 1431.98 L386.03 1433.07 L386.68 1433.59 L387.34 1433.58 L388 1433.6 L388.66 1432.83 L389.32 1428.3 L389.97 1416.23 L390.63 1393.72 L391.29 1361.2 L391.95 1325.97 L392.61 1301.89 L392.94 1298.31 L393.26 1301.87 L393.92 1325.72 L394.58 1360.59 L395.24 1393.04 L395.9 1415.84 L396.55 1428.47 L397.21 1434.14 L397.87 1436.17 L398.53 1436.43 L399.19 1436.22 L399.84 1436.58 L400.5 1437.36 L401.16 1437.46 L401.82 1436.48 L402.48 1434.86 L403.13 1432.79 L403.79 1430.06 L404.45 1426.25 L405.11 1420.63 L405.77 1413.49 L406.42 1407.36 L406.92 1405.8 L407.08 1406 L407.74 1410.34 L408.4 1417.22 L409.06 1423.85 L409.71 1428.77 L410.37 1431.85 L411.03 1433.74 L411.69 1434.99 L412.35 1435.99 L413 1436.53 L413.66 1436.44 L414.32 1436.21 L414.98 1436.28 L415.63 1436.41 L416.29 1436.13 L416.95 1435.59 L417.61 1435.04 L418.27 1434.42 L418.92 1433.99 L419.58 1433.77 L420.24 1433.57 L420.9 1433.49 L421.56 1433.64 L422.21 1433.99 L422.87 1434.45 L423.53 1434.76 L424.19 1434.8 L424.85 1434.92 L425.5 1435.23 L426.16 1435.44 L426.82 1435.49 L427.48 1435.35 L428.14 1435.06 L428.79 1434.62 L429.45 1434.22 L430.11 1433.9 L430.77 1433.72 L431.43 1433.91 L432.08 1434.67 L432.74 1435.54 L433.4 1435.75 L434.06 1435.33 L434.72 1434.7 L435.37 1434.01 L436.03 1433.58 L436.69 1433.8 L437.35 1434.55 L438.01 1435.33 L438.66 1435.73 L439.32 1435.8 L439.98 1435.78 L440.64 1435.78 L441.3 1435.8 L441.95 1435.73 L442.61 1435.11 L443.27 1433.52 L443.93 1431.15 L444.59 1428.5 L445.24 1425.91 L445.9 1423.57 L446.56 1422.56 L447.22 1424 L447.88 1427.31 L448.53 1430.86 L449.19 1433.47 L449.85 1435.1 L450.51 1436.11 L451.16 1436.65 L451.82 1436.51 L452.48 1435.71 L453.14 1434.61 L453.8 1433.51 L454.45 1432.29 L455.11 1430.41 L455.77 1427.83 L456.43 1425.62 L457.09 1425 L457.74 1426.28 L458.4 1428.53 L459.06 1431.13 L459.72 1433.81 L460.38 1435.9 L461.03 1437 L461.69 1437.53 L462.35 1437.59 L463.01 1437.04 L463.67 1436.15 L464.32 1435.6 L464.98 1435.75 L465.64 1436.16 L466.3 1436.22 L466.96 1435.76 L467.61 1435.15 L468.27 1435.1 L468.93 1435.48 L469.59 1435.34 L470.25 1434.57 L470.9 1434.11 L471.56 1434.35 L472.22 1434.87 L472.88 1435.33 L473.54 1435.59 L474.19 1435.39 L474.85 1434.67 L475.51 1434.06 L476.17 1433.93 L476.83 1433.89 L477.48 1434.13 L478.14 1434.76 L478.8 1435.22 L479.46 1435.23 L480.12 1434.99 L480.77 1434.64 L481.43 1434.38 L482.09 1434.27 L482.75 1434.44 L483.41 1434.6 L484.06 1434.49 L484.72 1433.97 L485.38 1432.95 L486.04 1431.43 L486.69 1429.88 L487.35 1429.13 L488.01 1429.63 L488.67 1431.04 L489.33 1432.8 L489.98 1434.11 L490.64 1434.44 L491.3 1434.17 L491.96 1434.21 L492.62 1434.74 L493.27 1434.82 L493.93 1433.91 L494.59 1432.77 L495.25 1432.5 L495.91 1433.31 L496.56 1434.42 L497.22 1434.92 L497.88 1434.54 L498.54 1433.75 L499.2 1433.27 L499.85 1433.18 L500.51 1433.2 L501.17 1433.1 L501.83 1432.63 L502.49 1431.77 L503.14 1430.89 L503.8 1429.35 L504.46 1425.62 L505.12 1418.87 L505.78 1409.4 L506.43 1398.02 L507.09 1386.45 L507.75 1378.43 L508.08 1377.32 L508.41 1377.72 L509.07 1384.38 L509.72 1395.01 L510.38 1406.48 L511.04 1416.43 L511.7 1423.45 L512.36 1427.78 L513.01 1430.33 L513.67 1431.68 L514.33 1432.5 L514.99 1433.45 L515.65 1434.3 L516.3 1434.39 L516.96 1433.83 L517.62 1433.05 L518.28 1432.31 L518.94 1431.59 L519.59 1430.47 L520.25 1428.56 L520.91 1426.34 L521.57 1424.84 L522.22 1424.87 L522.88 1426.34 L523.54 1428.38 L524.2 1430.37 L524.86 1431.74 L525.51 1432.42 L526.17 1433.07 L526.83 1433.71 L527.49 1434.33 L528.15 1434.8 L528.8 1434.21 L529.46 1432.08 L530.12 1429.3 L530.78 1426.91 L531.44 1425.34 L532.09 1424.86 L532.75 1425.46 L533.41 1426.6 L534.07 1427.66 L534.73 1428.32 L535.38 1428.3 L536.04 1428.03 L536.7 1427.99 L537.36 1428.03 L538.02 1427.67 L538.67 1426.84 L539.33 1425.89 L539.99 1425.22 L540.65 1425.01 L541.31 1425.46 L541.96 1426.72 L542.62 1428.62 L543.28 1430.74 L543.94 1432.4 L544.6 1433.48 L545.25 1434.01 L545.91 1434.06 L546.57 1433.87 L547.23 1433.71 L547.89 1433.95 L548.54 1434.61 L549.2 1435.09 L549.86 1435.2 L550.52 1435.37 L551.18 1435.85 L551.83 1436.45 L552.49 1436.52 L553.15 1435.88 L553.81 1435.13 L554.47 1434.58 L555.12 1434.3 L555.78 1434.54 L556.44 1435.15 L557.1 1435.62 L557.75 1435.83 L558.41 1435.91 L559.07 1435.97 L559.73 1436.06 L560.39 1436.41 L561.04 1436.81 L561.7 1437.15 L562.36 1437.23 L563.02 1436.84 L563.68 1435.9 L564.33 1434.89 L564.99 1434.66 L565.65 1435.31 L566.31 1436.01 L566.97 1436.31 L567.62 1436.38 L568.28 1436.22 L568.94 1435.77 L569.6 1435.19 L570.26 1434.7 L570.91 1434.35 L571.57 1434.12 L572.23 1434.22 L572.89 1434.82 L573.55 1435.37 L574.2 1435.39 L574.86 1435.12 L575.52 1434.85 L576.18 1434.71 L576.84 1434.39 L577.49 1433.95 L578.15 1433.79 L578.81 1434.11 L579.47 1434.57 L580.13 1434.82 L580.78 1434.89 L581.44 1434.8 L582.1 1434.47 L582.76 1434.2 L583.42 1434.54 L584.07 1435.39 L584.73 1436.18 L585.39 1436.46 L586.05 1436.29 L586.71 1436.25 L587.36 1436.56 L588.02 1436.93 L588.68 1436.91 L589.34 1436.36 L590 1435.5 L590.65 1434.72 L591.31 1434.55 L591.97 1434.97 L592.63 1435.29 L593.29 1435.2 L593.94 1434.91 L594.6 1434.66 L595.26 1434.61 L595.92 1434.68 L596.57 1434.69 L597.23 1434.69 L597.89 1434.89 L598.55 1435.4 L599.21 1436.25 L599.86 1437.06 L600.52 1437.25 L601.18 1436.57 L601.84 1435.39 L602.5 1434.61 L603.15 1434.82 L603.81 1435.52 L604.47 1436.16 L605.13 1436.6 L605.79 1436.64 L606.44 1436.51 L607.1 1436.51 L607.76 1436.41 L608.42 1436.05 L609.08 1435.49 L609.73 1435.04 L610.39 1434.87 L611.05 1435.1 L611.71 1435.56 L612.37 1435.97 L613.02 1436.43 L613.68 1436.66 L614.34 1436.24 L615 1435.63 L615.66 1435.61 L616.31 1436.24 L616.97 1437.02 L617.63 1437.46 L618.29 1437.29 L618.95 1436.63 L619.6 1435.92 L620.26 1435.51 L620.92 1435.42 L621.58 1435.61 L622.24 1436.01 L622.89 1436.09 L623.55 1435.65 L624.21 1435.12 L624.87 1434.76 L625.53 1434.67 L626.18 1434.85 L626.84 1435.09 L627.5 1435.27 L628.16 1435.54 L628.82 1435.91 L629.47 1436.32 L630.13 1436.52 L630.79 1436.17 L631.45 1435.61 L632.1 1435.45 L632.76 1435.5 L633.42 1435.52 L634.08 1435.63 L634.74 1435.71 L635.39 1435.6 L636.05 1435.51 L636.71 1435.6 L637.37 1435.44 L638.03 1434.98 L638.68 1434.85 L639.34 1435.3 L640 1435.75 L640.66 1435.77 L641.32 1435.57 L641.97 1435.52 L642.63 1435.64 L643.29 1435.77 L643.95 1435.8 L644.61 1435.64 L645.26 1435.48 L645.92 1435.37 L646.58 1435.06 L647.24 1434.59 L647.9 1434.25 L648.55 1434.23 L649.21 1434.21 L649.87 1434 L650.53 1433.91 L651.19 1433.95 L651.84 1434.06 L652.5 1434.17 L653.16 1433.9 L653.82 1433.04 L654.48 1431.83 L655.13 1430.48 L655.79 1428.87 L656.45 1426.99 L657.11 1425.01 L657.77 1423.64 L658.42 1423.93 L659.08 1425.57 L659.74 1427.62 L660.4 1429.61 L661.06 1431.29 L661.71 1432.52 L662.37 1433.43 L663.03 1434.22 L663.69 1434.68 L664.35 1434.67 L665 1434.6 L665.66 1434.7 L666.32 1434.7 L666.98 1434.47 L667.63 1434.35 L668.29 1434.55 L668.95 1434.66 L669.61 1434.26 L670.27 1433.65 L670.92 1433.46 L671.58 1433.77 L672.24 1434.09 L672.9 1434.29 L673.56 1434.67 L674.21 1435.08 L674.87 1434.82 L675.53 1433.92 L676.19 1433.39 L676.85 1433.57 L677.5 1433.96 L678.16 1434.16 L678.82 1434.39 L679.48 1434.83 L680.14 1435.06 L680.79 1434.93 L681.45 1435.02 L682.11 1435.44 L682.77 1435.81 L683.43 1436.14 L684.08 1436.44 L684.74 1436.6 L685.4 1436.46 L686.06 1436.03 L686.72 1435.55 L687.37 1435.26 L688.03 1435.52 L688.69 1436.38 L689.35 1436.88 L690.01 1436.66 L690.66 1436.73 L691.32 1437.41 L691.98 1437.99 L692.64 1437.93 L693.3 1437.64 L693.95 1437.58 L694.61 1437.31 L695.27 1436.4 L695.93 1435.29 L696.59 1434.61 L697.24 1434.39 L697.9 1434.23 L698.56 1434.37 L699.22 1435.25 L699.88 1436.09 L700.53 1435.9 L701.19 1435.13 L701.85 1434.96 L702.51 1435.6 L703.16 1436.15 L703.82 1436.18 L704.48 1436.11 L705.14 1436.09 L705.8 1436.19 L706.45 1436.59 L707.11 1436.85 L707.77 1436.64 L708.43 1436.39 L709.09 1436.54 L709.74 1436.92 L710.4 1437.13 L711.06 1436.82 L711.72 1436.03 L712.38 1435.31 L713.03 1434.91 L713.69 1434.54 L714.35 1434.15 L715.01 1434.24 L715.67 1435.05 L716.32 1435.68 L716.98 1435.36 L717.64 1434.9 L718.3 1435.08 L718.96 1435.39 L719.61 1435.32 L720.27 1435.11 L720.93 1434.8 L721.59 1434.29 L722.25 1433.9 L722.9 1433.75 L723.56 1433.76 L724.22 1434.25 L724.88 1435.1 L725.54 1435.63 L726.19 1435.6 L726.85 1435.55 L727.51 1435.83 L728.17 1436.2 L728.83 1436.27 L729.48 1436.09 L730.14 1435.87 L730.8 1435.62 L731.46 1435.33 L732.12 1434.93 L732.77 1434.47 L733.43 1434.38 L734.09 1434.71 L734.75 1435.01 L735.41 1435.18 L736.06 1435.22 L736.72 1435.13 L737.38 1435.33 L738.04 1435.95 L738.69 1436.51 L739.35 1436.77 L740.01 1436.92 L740.67 1436.78 L741.33 1436.14 L741.98 1435.2 L742.64 1434.61 L743.3 1434.42 L743.96 1434.41 L744.62 1434.8 L745.27 1435.52 L745.93 1436.11 L746.59 1436.35 L747.25 1436.01 L747.91 1435.38 L748.56 1435.14 L749.22 1435.24 L749.88 1435.03 L750.54 1434.58 L751.2 1434.7 L751.85 1435.41 L752.51 1435.83 L753.17 1435.45 L753.83 1434.24 L754.49 1432.5 L755.14 1430.94 L755.8 1429.94 L756.46 1428.94 L757.12 1427.64 L757.78 1426.7 L758.43 1426.76 L759.09 1427.76 L759.75 1429.4 L760.41 1430.87 L761.07 1431.69 L761.72 1432.51 L762.38 1434.11 L763.04 1436.08 L763.7 1437.2 L764.36 1437.17 L765.01 1436.84 L765.67 1436.78 L766.33 1436.76 L766.99 1436.5 L767.65 1436.22 L768.3 1436.14 L768.96 1436.09 L769.62 1435.74 L770.28 1435.2 L770.94 1434.87 L771.59 1434.85 L772.25 1434.7 L772.91 1434.33 L773.57 1434.06 L774.23 1434.23 L774.88 1434.69 L775.54 1435.05 L776.2 1435.36 L776.86 1435.79 L777.51 1436.02 L778.17 1436.05 L778.83 1436 L779.49 1435.55 L780.15 1434.73 L780.8 1434.23 L781.46 1434.24 L782.12 1434.41 L782.78 1434.62 L783.44 1435.02 L784.09 1435.58 L784.75 1435.62 L785.41 1434.56 L786.07 1433.16 L786.73 1432.63 L787.38 1432.36 L788.04 1430.81 L788.7 1428.06 L789.36 1425.45 L790.02 1423.74 L790.67 1422.84 L791.33 1422.99 L791.99 1424.11 L792.65 1425.5 L793.31 1426.76 L793.96 1427.82 L794.62 1428.68 L795.28 1429.4 L795.94 1430.03 L796.6 1430.41 L797.25 1430.44 L797.91 1430.39 L798.57 1430.54 L799.23 1430.87 L799.89 1431.54 L800.54 1432.64 L801.2 1433.61 L801.86 1433.84 L802.52 1433.8 L803.18 1433.9 L803.83 1433.84 L804.49 1433.48 L805.15 1433.02 L805.81 1432.69 L806.47 1432.29 L807.12 1431.34 L807.78 1430.49 L808.44 1430.47 L809.1 1431.1 L809.76 1432.01 L810.41 1432.92 L811.07 1433.54 L811.73 1433.73 L812.39 1433.66 L813.04 1433.5 L813.7 1433.25 L814.36 1432.9 L815.02 1432.4 L815.68 1431.94 L816.33 1431.67 L816.99 1431.72 L817.65 1432.28 L818.31 1433.28 L818.97 1434.28 L819.62 1435.07 L820.28 1435.62 L820.94 1435.88 L821.6 1435.99 L822.26 1436.14 L822.91 1436.35 L823.57 1436.67 L824.23 1436.71 L824.89 1436.19 L825.55 1435.23 L826.2 1434.34 L826.86 1434.06 L827.52 1434.25 L828.18 1434.39 L828.84 1434.49 L829.49 1434.47 L830.15 1433.74 L830.81 1432.48 L831.47 1431.83 L832.13 1432.42 L832.78 1433.86 L833.44 1435.2 L834.1 1435.74 L834.76 1435.86 L835.42 1436.24 L836.07 1436.73 L836.73 1436.83 L837.39 1436.52 L838.05 1436.18 L838.71 1436.27 L839.36 1436.58 L840.02 1436.61 L840.68 1436.38 L841.34 1436.22 L842 1436.11 L842.65 1435.85 L843.31 1435.52 L843.97 1435.26 L844.63 1434.96 L845.29 1434.58 L845.94 1434.12 L846.6 1433.67 L847.26 1433.49 L847.92 1433.46 L848.57 1433.04 L849.23 1431.72 L849.89 1429.35 L850.55 1426.67 L851.21 1424.94 L851.86 1424.72 L852.52 1425.83 L853.18 1427.53 L853.84 1429.2 L854.5 1430.65 L855.15 1432.02 L855.81 1433.55 L856.47 1434.62 L857.13 1434.87 L857.79 1434.65 L858.44 1434.35 L859.1 1434.13 L859.76 1434.27 L860.42 1434.88 L861.08 1435.77 L861.73 1436.43 L862.39 1436.24 L863.05 1435.03 L863.71 1433.08 L864.37 1430.78 L865.02 1428.68 L865.68 1427.55 L866.34 1427.94 L867 1429.51 L867.66 1431.29 L868.31 1432.57 L868.97 1433.37 L869.63 1434.04 L870.29 1434.67 L870.95 1435.09 L871.6 1435.2 L872.26 1435.08 L872.92 1434.93 L873.58 1434.91 L874.24 1434.96 L874.89 1435 L875.55 1435.04 L876.21 1435.27 L876.87 1435.34 L877.53 1434.85 L878.18 1433.87 L878.84 1431.94 L879.5 1428.08 L880.16 1421.58 L880.82 1412.04 L881.47 1399.93 L882.13 1386.42 L882.79 1373.02 L883.45 1363 L883.94 1360.76 L884.1 1360.28 L884.76 1365.44 L885.42 1376.98 L886.08 1390.04 L886.74 1401.91 L887.39 1411.58 L888.05 1419.04 L888.71 1424.51 L889.37 1428.16 L890.03 1430.05 L890.68 1430.96 L891.34 1431.61 L892 1431.77 L892.66 1431.36 L893.32 1431.16 L893.97 1431.6 L894.63 1432.09 L895.29 1432.2 L895.95 1432.42 L896.61 1432.98 L897.26 1433.09 L897.92 1431.94 L898.58 1429.84 L899.24 1427.26 L899.9 1424.04 L900.55 1420.28 L901.21 1416.7 L901.87 1414.51 L902.53 1415.25 L903.19 1418.89 L903.84 1423.4 L904.5 1427.23 L905.16 1430.28 L905.82 1432.33 L906.48 1433.56 L907.13 1434.2 L907.79 1434.18 L908.45 1433.98 L909.11 1434.41 L909.77 1435.28 L910.42 1435.62 L911.08 1435.04 L911.74 1434.03 L912.4 1433.29 L913.06 1432.98 L913.71 1432.25 L914.37 1431.21 L915.03 1429.81 L915.69 1428.22 L916.35 1427.04 L917 1427.07 L917.66 1428.63 L918.32 1430.83 L918.98 1432.67 L919.63 1433.96 L920.29 1435.04 L920.95 1436.11 L921.61 1436.88 L922.27 1437.2 L922.92 1437.19 L923.58 1437.18 L924.24 1437.01 L924.9 1436.64 L925.56 1435.97 L926.21 1433.86 L926.87 1429.4 L927.53 1422.58 L928.19 1412.56 L928.85 1397.77 L929.5 1378.52 L930.16 1358.09 L930.82 1341.33 L931.48 1333.2 L931.64 1332.83 L932.14 1336.55 L932.79 1350.01 L933.45 1369.21 L934.11 1389.44 L934.77 1407.08 L935.43 1419.95 L936.08 1427.68 L936.74 1431.59 L937.4 1433.62" fill="none" stroke="#3a3a3a" stroke-width="1" stroke-linejoin="round"/>
<path d="M200.1 1099.8 L226.8 1115.7 M228.65 1115.7 L230.55 1146.5 M224.95 1115.7 L226.85 1146.5 M228.7 1146.5 L200.1 1161.5 M200.1 1163.35 L175.2 1147.75 M200.1 1159.65 L175.2 1144.05 M175.2 1145.9 L175.2 1115.7 M175.2 1117.55 L200.1 1101.65 M175.2 1113.85 L200.1 1097.95 M200.1 1099.8 L200.1 1070.8 M200.1 1072.7 L221.66 1061.48 M200.1 1068.9 L221.66 1057.68" fill="none" stroke="#333" stroke-width="1.2" stroke-linecap="round"/>
<text font-size="14.5" font-family='"Liberation Sans", Arial, Helvetica, sans-serif' text-anchor="middle" fill="#333" x="227.1" y="1062.2">O</text>
<path d="M326.5 1306.3 L354.2 1321.7 M355.95 1321.7 L355.95 1353.5 M352.45 1321.7 L352.45 1353.5 M354.2 1353.5 L326.5 1369 M326.5 1370.75 L298 1353.95 M326.5 1367.25 L298 1350.45 M298 1352.2 L298 1322 M298 1323.75 L326.5 1308.05 M298 1320.25 L326.5 1304.55 M298 1322 L271.1 1306.6 M271.1 1306.6 L258.7 1313.6" fill="none" stroke="#333" stroke-width="1.2" stroke-linecap="round"/>
<text font-size="18" font-family='"Liberation Serif", "Times New Roman", Times, serif' fill="#333" textLength="20.9" lengthAdjust="spacingAndGlyphs" x="236.5" y="1326.8">HO</text>
<path d="M653.8 1313.5 L681.8 1329.5 M683.8 1329.5 L683.8 1360.4 M679.8 1329.5 L679.8 1360.4 M681.8 1360.4 L653.8 1377.8 M653.8 1379.8 L625.9 1360.8 M653.8 1375.8 L625.9 1356.8 M625.9 1358.8 L625.9 1330 M625.9 1332 L653.8 1315.5 M625.9 1328 L653.8 1311.5 M625.9 1330 L598.5 1313.8 M598.5 1313.8 L574.19 1325.6 M560.79 1325.06 L540.6 1314.6 M540.6 1314.6 L511 1330.6 M543.05 1314.6 L543.05 1290.8 M538.15 1314.6 L538.15 1290.8" fill="none" stroke="#333" stroke-width="1.2" stroke-linecap="round"/>
<text font-size="15" font-family='"Liberation Sans", Arial, Helvetica, sans-serif' text-anchor="middle" fill="#333" x="567.8" y="1334.1">O</text>
<text font-size="15" font-family='"Liberation Sans", Arial, Helvetica, sans-serif' text-anchor="middle" fill="#333" x="540.3" y="1284.5">O</text>
<path d="M867.9 1241.7 L893.8 1256.5 M895.6 1256.5 L895.6 1286.9 M892 1256.5 L892 1286.9 M893.8 1286.9 L867.9 1302.5 M867.9 1304.3 L842 1288.5 M867.9 1300.7 L842 1284.9 M842 1286.7 L842 1256 M842 1257.8 L867.9 1243.5 M842 1254.2 L867.9 1239.9 M867.9 1241.7 L867.9 1210.7 M867.9 1210.7 L886.16 1198.65 M893.5 1186.7 L893.5 1165.5 M893.5 1165.5 L919.8 1151.2 M919.8 1151.2 L919.8 1120.7 M893.5 1167.35 L873.42 1155.83 M893.5 1163.65 L873.42 1152.13" fill="none" stroke="#5a5a5a" stroke-width="1.15" stroke-linecap="round"/>
<text font-size="14.5" font-family='"Liberation Sans", Arial, Helvetica, sans-serif' text-anchor="middle" fill="#5a5a5a" x="893.5" y="1199">O</text>
<text font-size="14.5" font-family='"Liberation Sans", Arial, Helvetica, sans-serif' text-anchor="middle" fill="#5a5a5a" x="867.7" y="1155.9">O</text>
<text font-size="21" font-family='"Liberation Serif", "Times New Roman", Times, serif' fill="#222" transform="translate(172.5,1038.9) rotate(-90)">1</text>
<text font-size="21" font-family='"Liberation Serif", "Times New Roman", Times, serif' fill="#222" transform="translate(342.1,1421.6) rotate(-90)">2</text>
<text font-size="21" font-family='"Liberation Serif", "Times New Roman", Times, serif' fill="#222" transform="translate(664.7,1424.8) rotate(-90)">3</text>
<text font-size="21" font-family='"Liberation Serif", "Times New Roman", Times, serif' fill="#222" transform="translate(891.2,1359.2) rotate(-90)">4</text>
<text font-size="29" font-family='"Liberation Sans", Arial, Helvetica, sans-serif' font-weight="bold" fill="#f00000" x="166.92" y="1072.01">*</text>
<text font-size="29" font-family='"Liberation Sans", Arial, Helvetica, sans-serif' font-weight="bold" fill="#f00000" x="327.22" y="1410.41">*</text>
<text font-size="29" font-family='"Liberation Sans", Arial, Helvetica, sans-serif' font-weight="bold" fill="#f00000" x="650.42" y="1412.81">*</text>
<text font-size="29" font-family='"Liberation Sans", Arial, Helvetica, sans-serif' font-weight="bold" fill="#f00000" x="877.92" y="1350.91">*</text>
<text font-size="27.3" font-family='"Liberation Sans", Arial, Helvetica, sans-serif' font-weight="bold" textLength="222.73" lengthAdjust="spacingAndGlyphs" x="641.2" y="1124.3">PmBEAT37-RNAi</text>
<text font-size="40" font-family='"Liberation Sans", Arial, Helvetica, sans-serif' font-weight="bold" x="-1.2" y="28.6">a</text>
<rect x="1226" y="1026.8" width="616.8" height="444.1" fill="none" stroke="#1c1c1c" stroke-width="1.6"/>
<line x1="1365.92" y1="1398" x2="1365.92" y2="1390" stroke="#111" stroke-width="1.2"/>
<line x1="1359.92" y1="1390" x2="1371.92" y2="1390" stroke="#111" stroke-width="1.2"/>
<path d="M1349.5 1471.1 V1398 H1382.35 V1471.1" fill="#800000" stroke="#111" stroke-width="1.2"/>
<line x1="1398.77" y1="1240.8" x2="1398.77" y2="1239.4" stroke="#111" stroke-width="1.2"/>
<line x1="1392.77" y1="1239.4" x2="1404.77" y2="1239.4" stroke="#111" stroke-width="1.2"/>
<path d="M1382.35 1471.1 V1240.8 H1415.2 V1471.1" fill="#ff8000" stroke="#111" stroke-width="1.2"/>
<line x1="1431.62" y1="1467.9" x2="1431.62" y2="1467.5" stroke="#111" stroke-width="1.2"/>
<line x1="1425.62" y1="1467.5" x2="1437.62" y2="1467.5" stroke="#111" stroke-width="1.2"/>
<path d="M1415.2 1471.1 V1467.9 H1448.05 V1471.1" fill="#c8c800" stroke="#111" stroke-width="1.2"/>
<line x1="1464.47" y1="1466.4" x2="1464.47" y2="1465.6" stroke="#111" stroke-width="1.2"/>
<line x1="1458.47" y1="1465.6" x2="1470.47" y2="1465.6" stroke="#111" stroke-width="1.2"/>
<path d="M1448.05 1471.1 V1466.4 H1480.9 V1471.1" fill="#008000" stroke="#111" stroke-width="1.2"/>
<line x1="1497.33" y1="1468.6" x2="1497.33" y2="1468.2" stroke="#111" stroke-width="1.2"/>
<line x1="1491.33" y1="1468.2" x2="1503.33" y2="1468.2" stroke="#111" stroke-width="1.2"/>
<path d="M1480.9 1471.1 V1468.6 H1513.75 V1471.1" fill="#008080" stroke="#111" stroke-width="1.2"/>
<line x1="1571.62" y1="1398" x2="1571.62" y2="1391.4" stroke="#111" stroke-width="1.2"/>
<line x1="1565.12" y1="1391.4" x2="1578.12" y2="1391.4" stroke="#111" stroke-width="1.2"/>
<path d="M1555.2 1471.1 V1398 H1588.05 V1471.1" fill="#800000" stroke="#111" stroke-width="1.2"/>
<line x1="1604.47" y1="1398.4" x2="1604.47" y2="1364.6" stroke="#111" stroke-width="1.2"/>
<line x1="1597.97" y1="1364.6" x2="1610.97" y2="1364.6" stroke="#111" stroke-width="1.2"/>
<path d="M1588.05 1471.1 V1398.4 H1620.9 V1471.1" fill="#ff8000" stroke="#111" stroke-width="1.2"/>
<line x1="1637.33" y1="1060.6" x2="1637.33" y2="1055" stroke="#111" stroke-width="1.2"/>
<line x1="1630.83" y1="1055" x2="1643.83" y2="1055" stroke="#111" stroke-width="1.2"/>
<path d="M1620.9 1471.1 V1060.6 H1653.75 V1471.1" fill="#c8c800" stroke="#111" stroke-width="1.2"/>
<line x1="1670.17" y1="1433.7" x2="1670.17" y2="1427.2" stroke="#111" stroke-width="1.2"/>
<line x1="1663.67" y1="1427.2" x2="1676.67" y2="1427.2" stroke="#111" stroke-width="1.2"/>
<path d="M1653.75 1471.1 V1433.7 H1686.6 V1471.1" fill="#008000" stroke="#111" stroke-width="1.2"/>
<line x1="1703.03" y1="1419.4" x2="1703.03" y2="1417.6" stroke="#111" stroke-width="1.2"/>
<line x1="1696.53" y1="1417.6" x2="1709.53" y2="1417.6" stroke="#111" stroke-width="1.2"/>
<path d="M1686.6 1471.1 V1419.4 H1719.45 V1471.1" fill="#008080" stroke="#111" stroke-width="1.2"/>
<rect x="1381.15" y="1245.8" width="35.25" height="6.8" fill="#fff" stroke="none" stroke-width="0"/>
<rect x="1619.7" y="1245.8" width="35.25" height="6.8" fill="#fff" stroke="none" stroke-width="0"/>
<line x1="1226" y1="1245.4" x2="1226" y2="1252.7" stroke="#fff" stroke-width="3"/>
<line x1="1213" y1="1258.2" x2="1238.8" y2="1232.9" stroke="#1c1c1c" stroke-width="1.55" stroke-linecap="round"/>
<line x1="1213" y1="1265.4" x2="1238.8" y2="1240.1" stroke="#1c1c1c" stroke-width="1.55" stroke-linecap="round"/>
<line x1="1842.8" y1="1245.4" x2="1842.8" y2="1252.7" stroke="#fff" stroke-width="3"/>
<line x1="1829.8" y1="1258.2" x2="1855.6" y2="1232.9" stroke="#1c1c1c" stroke-width="1.55" stroke-linecap="round"/>
<line x1="1829.8" y1="1265.4" x2="1855.6" y2="1240.1" stroke="#1c1c1c" stroke-width="1.55" stroke-linecap="round"/>
<line x1="1219.5" y1="1026.8" x2="1226" y2="1026.8" stroke="#111" stroke-width="1.3"/>
<text font-size="23.5" font-family='"Liberation Sans", Arial, Helvetica, sans-serif' font-weight="bold" text-anchor="end" x="1207" y="1034.7">5000</text>
<line x1="1219.5" y1="1070.6" x2="1226" y2="1070.6" stroke="#111" stroke-width="1.3"/>
<text font-size="23.5" font-family='"Liberation Sans", Arial, Helvetica, sans-serif' font-weight="bold" text-anchor="end" x="1207" y="1078.5">4000</text>
<line x1="1219.5" y1="1114.5" x2="1226" y2="1114.5" stroke="#111" stroke-width="1.3"/>
<text font-size="23.5" font-family='"Liberation Sans", Arial, Helvetica, sans-serif' font-weight="bold" text-anchor="end" x="1207" y="1122.4">3000</text>
<line x1="1219.5" y1="1158.6" x2="1226" y2="1158.6" stroke="#111" stroke-width="1.3"/>
<text font-size="23.5" font-family='"Liberation Sans", Arial, Helvetica, sans-serif' font-weight="bold" text-anchor="end" x="1207" y="1166.5">2000</text>
<line x1="1219.5" y1="1202.4" x2="1226" y2="1202.4" stroke="#111" stroke-width="1.3"/>
<text font-size="23.5" font-family='"Liberation Sans", Arial, Helvetica, sans-serif' font-weight="bold" text-anchor="end" x="1207" y="1210.3">1000</text>
<line x1="1219.5" y1="1470.9" x2="1226" y2="1470.9" stroke="#111" stroke-width="1.3"/>
<text font-size="23.5" font-family='"Liberation Sans", Arial, Helvetica, sans-serif' font-weight="bold" text-anchor="end" x="1207" y="1478.8">0</text>
<line x1="1431.6" y1="1470.9" x2="1431.6" y2="1477.3" stroke="#111" stroke-width="1.3"/>
<line x1="1637.1" y1="1470.9" x2="1637.1" y2="1477.3" stroke="#111" stroke-width="1.3"/>
<rect x="1249.7" y="1042.6" width="269.6" height="159.4" fill="#fff" stroke="#111" stroke-width="1.2"/>
<rect x="1260.8" y="1061.4" width="50" height="11.5" fill="#800000" stroke="#111" stroke-width="1.2"/>
<text font-size="22.15" font-family='"Liberation Sans", Arial, Helvetica, sans-serif' font-weight="bold" x="1323.2" y="1075">GFP-OE</text>
<rect x="1260.8" y="1089.15" width="50" height="11.5" fill="#ff8000" stroke="#111" stroke-width="1.2"/>
<text font-size="22.15" font-family='"Liberation Sans", Arial, Helvetica, sans-serif' font-weight="bold" x="1323.2" y="1102.75">PmBEAT36-OE</text>
<rect x="1260.8" y="1116.9" width="50" height="11.5" fill="#c8c800" stroke="#111" stroke-width="1.2"/>
<text font-size="22.15" font-family='"Liberation Sans", Arial, Helvetica, sans-serif' font-weight="bold" x="1323.2" y="1130.5">PmBEAT37-OE</text>
<rect x="1260.8" y="1144.65" width="50" height="11.5" fill="#008000" stroke="#111" stroke-width="1.2"/>
<text font-size="22.15" font-family='"Liberation Sans", Arial, Helvetica, sans-serif' font-weight="bold" x="1323.2" y="1158.25">PmBEAT36-RNAi</text>
<rect x="1260.8" y="1172.4" width="50" height="11.5" fill="#008080" stroke="#111" stroke-width="1.2"/>
<text font-size="22.15" font-family='"Liberation Sans", Arial, Helvetica, sans-serif' font-weight="bold" x="1323.2" y="1186">PmBEAT37-RNAi</text>
<text font-size="31" font-family='"Liberation Sans", Arial, Helvetica, sans-serif' font-weight="bold" font-style="italic" textLength="162" lengthAdjust="spacingAndGlyphs" x="1358.4" y="1518">PmBEAT36</text>
<text font-size="31" font-family='"Liberation Sans", Arial, Helvetica, sans-serif' font-weight="bold" font-style="italic" textLength="162" lengthAdjust="spacingAndGlyphs" x="1546.2" y="1518">PmBEAT37</text>
<text font-size="31.5" font-family='"Liberation Sans", Arial, Helvetica, sans-serif' font-weight="bold" font-style="italic" textLength="205.2" lengthAdjust="spacingAndGlyphs" transform="translate(1124.1,1354) rotate(-90)">BEATs / PP2A</text>
<text font-size="39" font-family='"Liberation Sans", Arial, Helvetica, sans-serif' font-weight="bold" x="1098.5" y="1045.2">b</text>
<text font-size="31" font-family='"Liberation Sans", Arial, Helvetica, sans-serif' font-weight="bold" x="1392.33" y="1241.99">*</text>
<text font-size="31" font-family='"Liberation Sans", Arial, Helvetica, sans-serif' font-weight="bold" x="1624" y="1061.49">**</text>
<text font-size="31" font-family='"Liberation Sans", Arial, Helvetica, sans-serif' font-weight="bold" x="1419.5" y="1472.29">**</text>
<text font-size="31" font-family='"Liberation Sans", Arial, Helvetica, sans-serif' font-weight="bold" x="1450.2" y="1469.59">**</text>
<text font-size="31" font-family='"Liberation Sans", Arial, Helvetica, sans-serif' font-weight="bold" x="1483.7" y="1473.29">**</text>
<text font-size="31" font-family='"Liberation Sans", Arial, Helvetica, sans-serif' font-weight="bold" x="1663.63" y="1430.69">*</text>
<text font-size="31" font-family='"Liberation Sans", Arial, Helvetica, sans-serif' font-weight="bold" x="1697.73" y="1424.19">*</text>
<rect x="93.5" y="1567.1" width="554.2" height="398.9" fill="none" stroke="#1c1c1c" stroke-width="1.5"/>
<line x1="304" y1="1653" x2="304" y2="1609.3" stroke="#111" stroke-width="1.2"/>
<line x1="298.2" y1="1609.3" x2="309.8" y2="1609.3" stroke="#111" stroke-width="1.2"/>
<path d="M287.4 1966.2 V1653 H320.6 V1966.2" fill="#800000" stroke="#111" stroke-width="1.2"/>
<line x1="337.2" y1="1625.8" x2="337.2" y2="1598.4" stroke="#111" stroke-width="1.2"/>
<line x1="331.4" y1="1598.4" x2="343" y2="1598.4" stroke="#111" stroke-width="1.2"/>
<path d="M320.6 1966.2 V1625.8 H353.8 V1966.2" fill="#ff8000" stroke="#111" stroke-width="1.2"/>
<line x1="370.4" y1="1675.9" x2="370.4" y2="1659.3" stroke="#111" stroke-width="1.2"/>
<line x1="364.6" y1="1659.3" x2="376.2" y2="1659.3" stroke="#111" stroke-width="1.2"/>
<path d="M353.8 1966.2 V1675.9 H387 V1966.2" fill="#c8c800" stroke="#111" stroke-width="1.2"/>
<line x1="403.6" y1="1691.1" x2="403.6" y2="1657.5" stroke="#111" stroke-width="1.2"/>
<line x1="397.8" y1="1657.5" x2="409.4" y2="1657.5" stroke="#111" stroke-width="1.2"/>
<path d="M387 1966.2 V1691.1 H420.2 V1966.2" fill="#008000" stroke="#111" stroke-width="1.2"/>
<line x1="436.8" y1="1694.7" x2="436.8" y2="1685.1" stroke="#111" stroke-width="1.2"/>
<line x1="431" y1="1685.1" x2="442.6" y2="1685.1" stroke="#111" stroke-width="1.2"/>
<path d="M420.2 1966.2 V1694.7 H453.4 V1966.2" fill="#008080" stroke="#111" stroke-width="1.2"/>
<line x1="87.7" y1="1567.1" x2="93.5" y2="1567.1" stroke="#111" stroke-width="1.3"/>
<text font-size="22.5" font-family='"Liberation Sans", Arial, Helvetica, sans-serif' font-weight="bold" text-anchor="end" textLength="34.71" lengthAdjust="spacingAndGlyphs" x="75.6" y="1574.6">250</text>
<line x1="87.7" y1="1646.88" x2="93.5" y2="1646.88" stroke="#111" stroke-width="1.3"/>
<text font-size="22.5" font-family='"Liberation Sans", Arial, Helvetica, sans-serif' font-weight="bold" text-anchor="end" textLength="34.71" lengthAdjust="spacingAndGlyphs" x="75.6" y="1654.38">200</text>
<line x1="87.7" y1="1726.66" x2="93.5" y2="1726.66" stroke="#111" stroke-width="1.3"/>
<text font-size="22.5" font-family='"Liberation Sans", Arial, Helvetica, sans-serif' font-weight="bold" text-anchor="end" textLength="34.71" lengthAdjust="spacingAndGlyphs" x="75.6" y="1734.16">150</text>
<line x1="87.7" y1="1806.44" x2="93.5" y2="1806.44" stroke="#111" stroke-width="1.3"/>
<text font-size="22.5" font-family='"Liberation Sans", Arial, Helvetica, sans-serif' font-weight="bold" text-anchor="end" textLength="34.71" lengthAdjust="spacingAndGlyphs" x="75.6" y="1813.94">100</text>
<line x1="87.7" y1="1886.22" x2="93.5" y2="1886.22" stroke="#111" stroke-width="1.3"/>
<text font-size="22.5" font-family='"Liberation Sans", Arial, Helvetica, sans-serif' font-weight="bold" text-anchor="end" textLength="23.14" lengthAdjust="spacingAndGlyphs" x="75.6" y="1893.72">50</text>
<line x1="87.7" y1="1966" x2="93.5" y2="1966" stroke="#111" stroke-width="1.3"/>
<text font-size="22.5" font-family='"Liberation Sans", Arial, Helvetica, sans-serif' font-weight="bold" text-anchor="end" textLength="11.57" lengthAdjust="spacingAndGlyphs" x="75.6" y="1973.5">0</text>
<line x1="93.5" y1="1966" x2="93.5" y2="1972" stroke="#111" stroke-width="1.3"/>
<line x1="370.6" y1="1966" x2="370.6" y2="1972" stroke="#111" stroke-width="1.3"/>
<line x1="647.7" y1="1966" x2="647.7" y2="1972" stroke="#111" stroke-width="1.3"/>
<text font-size="30.5" font-family='"Liberation Sans", Arial, Helvetica, sans-serif' font-weight="bold" textLength="205.23" lengthAdjust="spacingAndGlyphs" x="274.7" y="2003.4">Benzaldehyde</text>
<rect x="710.7" y="1565.5" width="555.7" height="399.9" fill="none" stroke="#1c1c1c" stroke-width="1.5"/>
<line x1="921.9" y1="1745.5" x2="921.9" y2="1706.1" stroke="#111" stroke-width="1.2"/>
<line x1="916.1" y1="1706.1" x2="927.7" y2="1706.1" stroke="#111" stroke-width="1.2"/>
<path d="M905.3 1965.6 V1745.5 H938.5 V1965.6" fill="#800000" stroke="#111" stroke-width="1.2"/>
<line x1="955.1" y1="1622.9" x2="955.1" y2="1603.1" stroke="#111" stroke-width="1.2"/>
<line x1="949.3" y1="1603.1" x2="960.9" y2="1603.1" stroke="#111" stroke-width="1.2"/>
<path d="M938.5 1965.6 V1622.9 H971.7 V1965.6" fill="#ff8000" stroke="#111" stroke-width="1.2"/>
<line x1="988.3" y1="1663.2" x2="988.3" y2="1651" stroke="#111" stroke-width="1.2"/>
<line x1="982.5" y1="1651" x2="994.1" y2="1651" stroke="#111" stroke-width="1.2"/>
<path d="M971.7 1965.6 V1663.2 H1004.9 V1965.6" fill="#c8c800" stroke="#111" stroke-width="1.2"/>
<line x1="1021.5" y1="1700.5" x2="1021.5" y2="1651" stroke="#111" stroke-width="1.2"/>
<line x1="1015.7" y1="1651" x2="1027.3" y2="1651" stroke="#111" stroke-width="1.2"/>
<path d="M1004.9 1965.6 V1700.5 H1038.1 V1965.6" fill="#008000" stroke="#111" stroke-width="1.2"/>
<line x1="1054.7" y1="1720.4" x2="1054.7" y2="1692" stroke="#111" stroke-width="1.2"/>
<line x1="1048.9" y1="1692" x2="1060.5" y2="1692" stroke="#111" stroke-width="1.2"/>
<path d="M1038.1 1965.6 V1720.4 H1071.3 V1965.6" fill="#008080" stroke="#111" stroke-width="1.2"/>
<line x1="704.9" y1="1565.5" x2="710.7" y2="1565.5" stroke="#111" stroke-width="1.3"/>
<text font-size="22.5" font-family='"Liberation Sans", Arial, Helvetica, sans-serif' font-weight="bold" text-anchor="end" textLength="11.57" lengthAdjust="spacingAndGlyphs" x="693.6" y="1573">8</text>
<line x1="704.9" y1="1665.47" x2="710.7" y2="1665.47" stroke="#111" stroke-width="1.3"/>
<text font-size="22.5" font-family='"Liberation Sans", Arial, Helvetica, sans-serif' font-weight="bold" text-anchor="end" textLength="11.57" lengthAdjust="spacingAndGlyphs" x="693.6" y="1672.97">6</text>
<line x1="704.9" y1="1765.45" x2="710.7" y2="1765.45" stroke="#111" stroke-width="1.3"/>
<text font-size="22.5" font-family='"Liberation Sans", Arial, Helvetica, sans-serif' font-weight="bold" text-anchor="end" textLength="11.57" lengthAdjust="spacingAndGlyphs" x="693.6" y="1772.95">4</text>
<line x1="704.9" y1="1865.43" x2="710.7" y2="1865.43" stroke="#111" stroke-width="1.3"/>
<text font-size="22.5" font-family='"Liberation Sans", Arial, Helvetica, sans-serif' font-weight="bold" text-anchor="end" textLength="11.57" lengthAdjust="spacingAndGlyphs" x="693.6" y="1872.93">2</text>
<line x1="704.9" y1="1965.4" x2="710.7" y2="1965.4" stroke="#111" stroke-width="1.3"/>
<text font-size="22.5" font-family='"Liberation Sans", Arial, Helvetica, sans-serif' font-weight="bold" text-anchor="end" textLength="11.57" lengthAdjust="spacingAndGlyphs" x="693.6" y="1972.9">0</text>
<line x1="710.7" y1="1965.4" x2="710.7" y2="1971.4" stroke="#111" stroke-width="1.3"/>
<line x1="988.55" y1="1965.4" x2="988.55" y2="1971.4" stroke="#111" stroke-width="1.3"/>
<line x1="1266.4" y1="1965.4" x2="1266.4" y2="1971.4" stroke="#111" stroke-width="1.3"/>
<text font-size="30.5" font-family='"Liberation Sans", Arial, Helvetica, sans-serif' font-weight="bold" textLength="214.03" lengthAdjust="spacingAndGlyphs" x="886.1" y="2003.4">Benzyl alcohol</text>
<rect x="1343.2" y="1565.5" width="555.7" height="399.9" fill="none" stroke="#1c1c1c" stroke-width="1.5"/>
<line x1="1554.5" y1="1850.9" x2="1554.5" y2="1835.1" stroke="#111" stroke-width="1.2"/>
<line x1="1548.7" y1="1835.1" x2="1560.3" y2="1835.1" stroke="#111" stroke-width="1.2"/>
<path d="M1537.9 1965.6 V1850.9 H1571.1 V1965.6" fill="#800000" stroke="#111" stroke-width="1.2"/>
<line x1="1587.7" y1="1708.5" x2="1587.7" y2="1687.6" stroke="#111" stroke-width="1.2"/>
<line x1="1581.9" y1="1687.6" x2="1593.5" y2="1687.6" stroke="#111" stroke-width="1.2"/>
<path d="M1571.1 1965.6 V1708.5 H1604.3 V1965.6" fill="#ff8000" stroke="#111" stroke-width="1.2"/>
<line x1="1620.9" y1="1674.8" x2="1620.9" y2="1640.5" stroke="#111" stroke-width="1.2"/>
<line x1="1615.1" y1="1640.5" x2="1626.7" y2="1640.5" stroke="#111" stroke-width="1.2"/>
<path d="M1604.3 1965.6 V1674.8 H1637.5 V1965.6" fill="#c8c800" stroke="#111" stroke-width="1.2"/>
<line x1="1654.1" y1="1902.4" x2="1654.1" y2="1883.3" stroke="#111" stroke-width="1.2"/>
<line x1="1648.3" y1="1883.3" x2="1659.9" y2="1883.3" stroke="#111" stroke-width="1.2"/>
<path d="M1637.5 1965.6 V1902.4 H1670.7 V1965.6" fill="#008000" stroke="#111" stroke-width="1.2"/>
<line x1="1687.3" y1="1903.5" x2="1687.3" y2="1883.3" stroke="#111" stroke-width="1.2"/>
<line x1="1681.5" y1="1883.3" x2="1693.1" y2="1883.3" stroke="#111" stroke-width="1.2"/>
<path d="M1670.7 1965.6 V1903.5 H1703.9 V1965.6" fill="#008080" stroke="#111" stroke-width="1.2"/>
<line x1="1337.4" y1="1565.5" x2="1343.2" y2="1565.5" stroke="#111" stroke-width="1.3"/>
<text font-size="22.5" font-family='"Liberation Sans", Arial, Helvetica, sans-serif' font-weight="bold" text-anchor="end" textLength="11.57" lengthAdjust="spacingAndGlyphs" x="1325.8" y="1573">5</text>
<line x1="1337.4" y1="1645.48" x2="1343.2" y2="1645.48" stroke="#111" stroke-width="1.3"/>
<text font-size="22.5" font-family='"Liberation Sans", Arial, Helvetica, sans-serif' font-weight="bold" text-anchor="end" textLength="11.57" lengthAdjust="spacingAndGlyphs" x="1325.8" y="1652.98">4</text>
<line x1="1337.4" y1="1725.46" x2="1343.2" y2="1725.46" stroke="#111" stroke-width="1.3"/>
<text font-size="22.5" font-family='"Liberation Sans", Arial, Helvetica, sans-serif' font-weight="bold" text-anchor="end" textLength="11.57" lengthAdjust="spacingAndGlyphs" x="1325.8" y="1732.96">3</text>
<line x1="1337.4" y1="1805.44" x2="1343.2" y2="1805.44" stroke="#111" stroke-width="1.3"/>
<text font-size="22.5" font-family='"Liberation Sans", Arial, Helvetica, sans-serif' font-weight="bold" text-anchor="end" textLength="11.57" lengthAdjust="spacingAndGlyphs" x="1325.8" y="1812.94">2</text>
<line x1="1337.4" y1="1885.42" x2="1343.2" y2="1885.42" stroke="#111" stroke-width="1.3"/>
<text font-size="22.5" font-family='"Liberation Sans", Arial, Helvetica, sans-serif' font-weight="bold" text-anchor="end" textLength="11.57" lengthAdjust="spacingAndGlyphs" x="1325.8" y="1892.92">1</text>
<line x1="1337.4" y1="1965.4" x2="1343.2" y2="1965.4" stroke="#111" stroke-width="1.3"/>
<text font-size="22.5" font-family='"Liberation Sans", Arial, Helvetica, sans-serif' font-weight="bold" text-anchor="end" textLength="11.57" lengthAdjust="spacingAndGlyphs" x="1325.8" y="1972.9">0</text>
<line x1="1343.2" y1="1965.4" x2="1343.2" y2="1971.4" stroke="#111" stroke-width="1.3"/>
<line x1="1621.05" y1="1965.4" x2="1621.05" y2="1971.4" stroke="#111" stroke-width="1.3"/>
<line x1="1898.9" y1="1965.4" x2="1898.9" y2="1971.4" stroke="#111" stroke-width="1.3"/>
<text font-size="30.5" font-family='"Liberation Sans", Arial, Helvetica, sans-serif' font-weight="bold" textLength="211.8" lengthAdjust="spacingAndGlyphs" x="1507.4" y="2003.4">Benzyl acetate</text>
<text font-size="28.5" font-family='"Liberation Sans", Arial, Helvetica, sans-serif' font-weight="bold" textLength="299.5" lengthAdjust="spacingAndGlyphs" transform="translate(22.8,1906.7) rotate(-90)">Concentration (ppm)</text>
<text font-size="40" font-family='"Liberation Sans", Arial, Helvetica, sans-serif' font-weight="bold" x="0.2" y="1557">c</text>
<rect x="1677.4" y="1580.5" width="208.6" height="122.9" fill="#fff" stroke="#111" stroke-width="1.1"/>
<rect x="1686.2" y="1594.7" width="38.5" height="9" fill="#800000" stroke="#111" stroke-width="1.1"/>
<text font-size="17.15" font-family='"Liberation Sans", Arial, Helvetica, sans-serif' font-weight="bold" x="1733.9" y="1605.1">GFP-OE</text>
<rect x="1686.2" y="1616.15" width="38.5" height="9" fill="#ff8000" stroke="#111" stroke-width="1.1"/>
<text font-size="17.15" font-family='"Liberation Sans", Arial, Helvetica, sans-serif' font-weight="bold" x="1733.9" y="1626.55">PmBEAT36-OE</text>
<rect x="1686.2" y="1637.6" width="38.5" height="9" fill="#c8c800" stroke="#111" stroke-width="1.1"/>
<text font-size="17.15" font-family='"Liberation Sans", Arial, Helvetica, sans-serif' font-weight="bold" x="1733.9" y="1648">PmBEAT37-OE</text>
<rect x="1686.2" y="1659.05" width="38.5" height="9" fill="#008000" stroke="#111" stroke-width="1.1"/>
<text font-size="17.15" font-family='"Liberation Sans", Arial, Helvetica, sans-serif' font-weight="bold" x="1733.9" y="1669.45">PmBEAT36-RNAi</text>
<rect x="1686.2" y="1680.5" width="38.5" height="9" fill="#008080" stroke="#111" stroke-width="1.1"/>
<text font-size="17.15" font-family='"Liberation Sans", Arial, Helvetica, sans-serif' font-weight="bold" x="1733.9" y="1690.9">PmBEAT37-RNAi</text>
<text font-size="31" font-family='"Liberation Sans", Arial, Helvetica, sans-serif' font-weight="bold" x="1581.23" y="1680.19">*</text>
<text font-size="31" font-family='"Liberation Sans", Arial, Helvetica, sans-serif' font-weight="bold" x="1613.83" y="1639.59">*</text>
</svg>
</body></html>
